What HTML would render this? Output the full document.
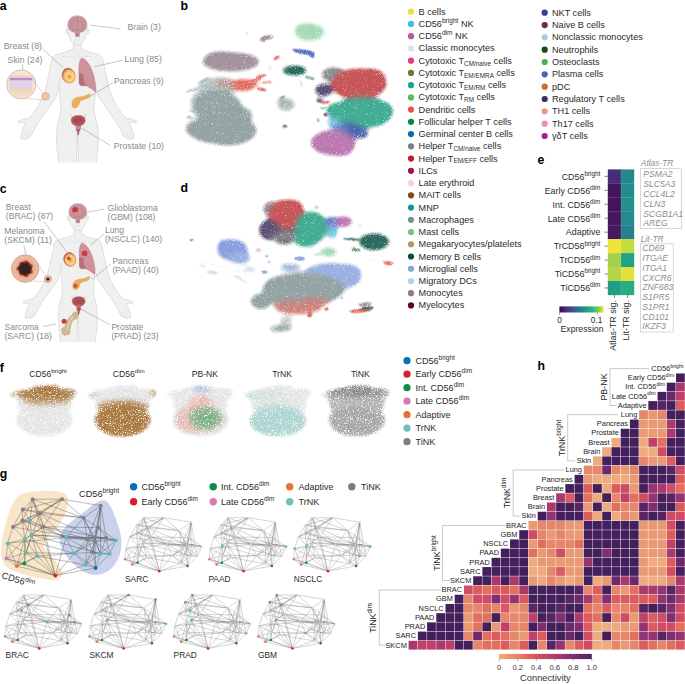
<!DOCTYPE html>
<html><head><meta charset="utf-8"><title>figure</title><style>
html,body{margin:0;padding:0;background:#fff;}
#c{position:relative;width:685px;height:684px;overflow:hidden;background:#fff;font-family:"Liberation Sans", sans-serif;}
#c svg.main{position:absolute;left:0;top:0;}
.t{position:absolute;white-space:nowrap;line-height:1;font-family:"Liberation Sans", sans-serif;}
.t sup{font-size:0.72em;line-height:0;position:relative;vertical-align:baseline;top:-0.6em;}
.t sub{font-size:0.7em;line-height:0;position:relative;vertical-align:baseline;top:0.3em;}
</style></head><body><div id="c">
<svg class="main" width="685" height="684" viewBox="0 0 685 684">
<circle cx="411" cy="11.70" r="3.1" fill="#e8e337"/>
<circle cx="411" cy="23.94" r="3.1" fill="#3fbfe0"/>
<circle cx="411" cy="36.18" r="3.1" fill="#b65ba3"/>
<circle cx="411" cy="48.42" r="3.1" fill="#d6e4ef"/>
<circle cx="411" cy="60.66" r="3.1" fill="#e83a86"/>
<circle cx="411" cy="72.90" r="3.1" fill="#677a2e"/>
<circle cx="411" cy="85.14" r="3.1" fill="#16a58b"/>
<circle cx="411" cy="97.38" r="3.1" fill="#5cb85a"/>
<circle cx="411" cy="109.62" r="3.1" fill="#e8524f"/>
<circle cx="411" cy="121.86" r="3.1" fill="#0b8a42"/>
<circle cx="411" cy="134.10" r="3.1" fill="#0b6ab0"/>
<circle cx="411" cy="146.34" r="3.1" fill="#7d7f82"/>
<circle cx="411" cy="158.58" r="3.1" fill="#c41c30"/>
<circle cx="411" cy="170.82" r="3.1" fill="#a3125f"/>
<circle cx="411" cy="183.06" r="3.1" fill="#f7cfdb"/>
<circle cx="411" cy="195.30" r="3.1" fill="#7c4a1c"/>
<circle cx="411" cy="207.54" r="3.1" fill="#0a9a9a"/>
<circle cx="411" cy="219.78" r="3.1" fill="#7b908b"/>
<circle cx="411" cy="232.02" r="3.1" fill="#76c08a"/>
<circle cx="411" cy="244.26" r="3.1" fill="#b4985f"/>
<circle cx="411" cy="256.50" r="3.1" fill="#0c4d40"/>
<circle cx="411" cy="268.74" r="3.1" fill="#88a2d8"/>
<circle cx="411" cy="280.98" r="3.1" fill="#b5d2ea"/>
<circle cx="411" cy="293.22" r="3.1" fill="#947784"/>
<circle cx="411" cy="305.46" r="3.1" fill="#620817"/>
<circle cx="544.7" cy="12.70" r="3.1" fill="#2a3f9e"/>
<circle cx="544.7" cy="25.03" r="3.1" fill="#6b2c49"/>
<circle cx="544.7" cy="37.36" r="3.1" fill="#a9cbe8"/>
<circle cx="544.7" cy="49.69" r="3.1" fill="#14481f"/>
<circle cx="544.7" cy="62.02" r="3.1" fill="#4cb05a"/>
<circle cx="544.7" cy="74.35" r="3.1" fill="#4566b5"/>
<circle cx="544.7" cy="86.68" r="3.1" fill="#d4692a"/>
<circle cx="544.7" cy="99.01" r="3.1" fill="#3e2f5c"/>
<circle cx="544.7" cy="111.34" r="3.1" fill="#ec9a88"/>
<circle cx="544.7" cy="123.67" r="3.1" fill="#f28db2"/>
<circle cx="544.7" cy="136.00" r="3.1" fill="#a3238e"/>
<rect x="607.80" y="169.40" width="13.40" height="14.15" fill="#472c7a"/>
<rect x="621.00" y="169.40" width="13.20" height="14.15" fill="#23898e"/>
<line x1="604.60" y1="176.38" x2="607.80" y2="176.38" stroke="#333" stroke-width="0.6"/>
<rect x="607.80" y="183.35" width="13.40" height="14.15" fill="#44155f"/>
<rect x="621.00" y="183.35" width="13.20" height="14.15" fill="#218e8d"/>
<line x1="604.60" y1="190.32" x2="607.80" y2="190.32" stroke="#333" stroke-width="0.6"/>
<rect x="607.80" y="197.30" width="13.40" height="14.15" fill="#43135c"/>
<rect x="621.00" y="197.30" width="13.20" height="14.15" fill="#22908c"/>
<line x1="604.60" y1="204.28" x2="607.80" y2="204.28" stroke="#333" stroke-width="0.6"/>
<rect x="607.80" y="211.25" width="13.40" height="14.15" fill="#45185f"/>
<rect x="621.00" y="211.25" width="13.20" height="14.15" fill="#238a8d"/>
<line x1="604.60" y1="218.22" x2="607.80" y2="218.22" stroke="#333" stroke-width="0.6"/>
<rect x="607.80" y="225.20" width="13.40" height="14.15" fill="#451a62"/>
<rect x="621.00" y="225.20" width="13.20" height="14.15" fill="#27808e"/>
<line x1="604.60" y1="232.17" x2="607.80" y2="232.17" stroke="#333" stroke-width="0.6"/>
<rect x="607.80" y="239.15" width="13.40" height="14.15" fill="#f1e436"/>
<rect x="621.00" y="239.15" width="13.20" height="14.15" fill="#c3dc3c"/>
<line x1="604.60" y1="246.12" x2="607.80" y2="246.12" stroke="#333" stroke-width="0.6"/>
<rect x="607.80" y="253.10" width="13.40" height="14.15" fill="#a4d04c"/>
<rect x="621.00" y="253.10" width="13.20" height="14.15" fill="#1fa386"/>
<line x1="604.60" y1="260.07" x2="607.80" y2="260.07" stroke="#333" stroke-width="0.6"/>
<rect x="607.80" y="267.05" width="13.40" height="14.15" fill="#b6d443"/>
<rect x="621.00" y="267.05" width="13.20" height="14.15" fill="#e2e13a"/>
<line x1="604.60" y1="274.03" x2="607.80" y2="274.03" stroke="#333" stroke-width="0.6"/>
<rect x="607.80" y="281.00" width="13.40" height="14.15" fill="#1f9f88"/>
<rect x="621.00" y="281.00" width="13.20" height="14.15" fill="#27ad80"/>
<line x1="604.60" y1="287.98" x2="607.80" y2="287.98" stroke="#333" stroke-width="0.6"/>
<line x1="621.00" y1="169.4" x2="621.00" y2="294.95" stroke="#ffffff" stroke-opacity="0.35" stroke-width="0.4"/>
<line x1="614.40" y1="294.95" x2="614.40" y2="297.95" stroke="#333" stroke-width="0.6"/>
<line x1="627.60" y1="294.95" x2="627.60" y2="297.95" stroke="#333" stroke-width="0.6"/>
<defs><linearGradient id="vir" x1="0" x2="1" y1="0" y2="0"><stop offset="0" stop-color="#440154"/><stop offset="0.125" stop-color="#482878"/><stop offset="0.25" stop-color="#3e4a89"/><stop offset="0.375" stop-color="#31688e"/><stop offset="0.5" stop-color="#26828e"/><stop offset="0.625" stop-color="#1f9e89"/><stop offset="0.75" stop-color="#35b779"/><stop offset="0.875" stop-color="#6ece58"/><stop offset="0.94" stop-color="#b5de2b"/><stop offset="1" stop-color="#fde725"/></linearGradient></defs>
<rect x="559.4" y="306.4" width="44.2" height="6.1" fill="url(#vir)"/>
<line x1="559.6" y1="312.5" x2="559.6" y2="314.6" stroke="#333" stroke-width="0.5"/>
<line x1="597.2" y1="312.5" x2="597.2" y2="314.6" stroke="#333" stroke-width="0.5"/>
<rect x="640.6" y="168.7" width="40.8" height="59.9" fill="none" stroke="#bdbdbd" stroke-width="0.6"/>
<rect x="640.6" y="243.9" width="32.6" height="88.1" fill="none" stroke="#bdbdbd" stroke-width="0.6"/>
<rect x="676.00" y="373.44" width="8.78" height="8.78" fill="#43205c"/>
<rect x="666.78" y="382.66" width="8.78" height="8.78" fill="#43205c"/>
<rect x="676.00" y="382.66" width="8.78" height="8.78" fill="#a83a6c"/>
<rect x="657.56" y="391.88" width="8.78" height="8.78" fill="#43205c"/>
<rect x="666.78" y="391.88" width="8.78" height="8.78" fill="#6c2a6c"/>
<rect x="676.00" y="391.88" width="8.78" height="8.78" fill="#c0406a"/>
<rect x="648.34" y="401.10" width="8.78" height="8.78" fill="#43205c"/>
<rect x="657.56" y="401.10" width="8.78" height="8.78" fill="#582463"/>
<rect x="666.78" y="401.10" width="8.78" height="8.78" fill="#43205c"/>
<rect x="676.00" y="401.10" width="8.78" height="8.78" fill="#dc5c5e"/>
<rect x="639.12" y="410.32" width="8.78" height="8.78" fill="#e6866a"/>
<rect x="648.34" y="410.32" width="8.78" height="8.78" fill="#e99a75"/>
<rect x="657.56" y="410.32" width="8.78" height="8.78" fill="#e6866a"/>
<rect x="666.78" y="410.32" width="8.78" height="8.78" fill="#43205c"/>
<rect x="676.00" y="410.32" width="8.78" height="8.78" fill="#43205c"/>
<rect x="629.90" y="419.54" width="8.78" height="8.78" fill="#43205c"/>
<rect x="639.12" y="419.54" width="8.78" height="8.78" fill="#e99a75"/>
<rect x="648.34" y="419.54" width="8.78" height="8.78" fill="#e99a75"/>
<rect x="657.56" y="419.54" width="8.78" height="8.78" fill="#e99a75"/>
<rect x="666.78" y="419.54" width="8.78" height="8.78" fill="#a83a6c"/>
<rect x="676.00" y="419.54" width="8.78" height="8.78" fill="#43205c"/>
<rect x="620.68" y="428.76" width="8.78" height="8.78" fill="#43205c"/>
<rect x="629.90" y="428.76" width="8.78" height="8.78" fill="#43205c"/>
<rect x="639.12" y="428.76" width="8.78" height="8.78" fill="#e99a75"/>
<rect x="648.34" y="428.76" width="8.78" height="8.78" fill="#e99a75"/>
<rect x="657.56" y="428.76" width="8.78" height="8.78" fill="#e99a75"/>
<rect x="666.78" y="428.76" width="8.78" height="8.78" fill="#a83a6c"/>
<rect x="676.00" y="428.76" width="8.78" height="8.78" fill="#43205c"/>
<rect x="611.46" y="437.98" width="8.78" height="8.78" fill="#edab7e"/>
<rect x="620.68" y="437.98" width="8.78" height="8.78" fill="#43205c"/>
<rect x="629.90" y="437.98" width="8.78" height="8.78" fill="#43205c"/>
<rect x="639.12" y="437.98" width="8.78" height="8.78" fill="#edab7e"/>
<rect x="648.34" y="437.98" width="8.78" height="8.78" fill="#c0406a"/>
<rect x="657.56" y="437.98" width="8.78" height="8.78" fill="#e27060"/>
<rect x="666.78" y="437.98" width="8.78" height="8.78" fill="#43205c"/>
<rect x="676.00" y="437.98" width="8.78" height="8.78" fill="#43205c"/>
<rect x="602.24" y="447.20" width="8.78" height="8.78" fill="#edab7e"/>
<rect x="611.46" y="447.20" width="8.78" height="8.78" fill="#43205c"/>
<rect x="620.68" y="447.20" width="8.78" height="8.78" fill="#43205c"/>
<rect x="629.90" y="447.20" width="8.78" height="8.78" fill="#43205c"/>
<rect x="639.12" y="447.20" width="8.78" height="8.78" fill="#edab7e"/>
<rect x="648.34" y="447.20" width="8.78" height="8.78" fill="#edab7e"/>
<rect x="657.56" y="447.20" width="8.78" height="8.78" fill="#d04c64"/>
<rect x="666.78" y="447.20" width="8.78" height="8.78" fill="#43205c"/>
<rect x="676.00" y="447.20" width="8.78" height="8.78" fill="#43205c"/>
<rect x="593.02" y="456.42" width="8.78" height="8.78" fill="#edab7e"/>
<rect x="602.24" y="456.42" width="8.78" height="8.78" fill="#43205c"/>
<rect x="611.46" y="456.42" width="8.78" height="8.78" fill="#43205c"/>
<rect x="620.68" y="456.42" width="8.78" height="8.78" fill="#43205c"/>
<rect x="629.90" y="456.42" width="8.78" height="8.78" fill="#43205c"/>
<rect x="639.12" y="456.42" width="8.78" height="8.78" fill="#e6866a"/>
<rect x="648.34" y="456.42" width="8.78" height="8.78" fill="#e99a75"/>
<rect x="657.56" y="456.42" width="8.78" height="8.78" fill="#e99a75"/>
<rect x="666.78" y="456.42" width="8.78" height="8.78" fill="#dc5c5e"/>
<rect x="676.00" y="456.42" width="8.78" height="8.78" fill="#43205c"/>
<rect x="583.80" y="465.64" width="8.78" height="8.78" fill="#e6866a"/>
<rect x="593.02" y="465.64" width="8.78" height="8.78" fill="#e6866a"/>
<rect x="602.24" y="465.64" width="8.78" height="8.78" fill="#6c2a6c"/>
<rect x="611.46" y="465.64" width="8.78" height="8.78" fill="#e6866a"/>
<rect x="620.68" y="465.64" width="8.78" height="8.78" fill="#e99a75"/>
<rect x="629.90" y="465.64" width="8.78" height="8.78" fill="#e6866a"/>
<rect x="639.12" y="465.64" width="8.78" height="8.78" fill="#43205c"/>
<rect x="648.34" y="465.64" width="8.78" height="8.78" fill="#43205c"/>
<rect x="657.56" y="465.64" width="8.78" height="8.78" fill="#43205c"/>
<rect x="666.78" y="465.64" width="8.78" height="8.78" fill="#582463"/>
<rect x="676.00" y="465.64" width="8.78" height="8.78" fill="#d04c64"/>
<rect x="574.58" y="474.86" width="8.78" height="8.78" fill="#43205c"/>
<rect x="583.80" y="474.86" width="8.78" height="8.78" fill="#e99a75"/>
<rect x="593.02" y="474.86" width="8.78" height="8.78" fill="#edab7e"/>
<rect x="602.24" y="474.86" width="8.78" height="8.78" fill="#edab7e"/>
<rect x="611.46" y="474.86" width="8.78" height="8.78" fill="#edab7e"/>
<rect x="620.68" y="474.86" width="8.78" height="8.78" fill="#edab7e"/>
<rect x="629.90" y="474.86" width="8.78" height="8.78" fill="#e99a75"/>
<rect x="639.12" y="474.86" width="8.78" height="8.78" fill="#43205c"/>
<rect x="648.34" y="474.86" width="8.78" height="8.78" fill="#43205c"/>
<rect x="657.56" y="474.86" width="8.78" height="8.78" fill="#43205c"/>
<rect x="666.78" y="474.86" width="8.78" height="8.78" fill="#43205c"/>
<rect x="676.00" y="474.86" width="8.78" height="8.78" fill="#dc5c5e"/>
<rect x="565.36" y="484.08" width="8.78" height="8.78" fill="#43205c"/>
<rect x="574.58" y="484.08" width="8.78" height="8.78" fill="#43205c"/>
<rect x="583.80" y="484.08" width="8.78" height="8.78" fill="#dc5c5e"/>
<rect x="593.02" y="484.08" width="8.78" height="8.78" fill="#43205c"/>
<rect x="602.24" y="484.08" width="8.78" height="8.78" fill="#edab7e"/>
<rect x="611.46" y="484.08" width="8.78" height="8.78" fill="#dc5c5e"/>
<rect x="620.68" y="484.08" width="8.78" height="8.78" fill="#d04c64"/>
<rect x="629.90" y="484.08" width="8.78" height="8.78" fill="#e99a75"/>
<rect x="639.12" y="484.08" width="8.78" height="8.78" fill="#43205c"/>
<rect x="648.34" y="484.08" width="8.78" height="8.78" fill="#943472"/>
<rect x="657.56" y="484.08" width="8.78" height="8.78" fill="#a83a6c"/>
<rect x="666.78" y="484.08" width="8.78" height="8.78" fill="#d04c64"/>
<rect x="676.00" y="484.08" width="8.78" height="8.78" fill="#e27060"/>
<rect x="556.14" y="493.30" width="8.78" height="8.78" fill="#a83a6c"/>
<rect x="565.36" y="493.30" width="8.78" height="8.78" fill="#dc5c5e"/>
<rect x="574.58" y="493.30" width="8.78" height="8.78" fill="#43205c"/>
<rect x="583.80" y="493.30" width="8.78" height="8.78" fill="#e27060"/>
<rect x="593.02" y="493.30" width="8.78" height="8.78" fill="#edab7e"/>
<rect x="602.24" y="493.30" width="8.78" height="8.78" fill="#43205c"/>
<rect x="611.46" y="493.30" width="8.78" height="8.78" fill="#e6866a"/>
<rect x="620.68" y="493.30" width="8.78" height="8.78" fill="#c0406a"/>
<rect x="629.90" y="493.30" width="8.78" height="8.78" fill="#e27060"/>
<rect x="639.12" y="493.30" width="8.78" height="8.78" fill="#d04c64"/>
<rect x="648.34" y="493.30" width="8.78" height="8.78" fill="#943472"/>
<rect x="657.56" y="493.30" width="8.78" height="8.78" fill="#43205c"/>
<rect x="666.78" y="493.30" width="8.78" height="8.78" fill="#582463"/>
<rect x="676.00" y="493.30" width="8.78" height="8.78" fill="#943472"/>
<rect x="546.92" y="502.52" width="8.78" height="8.78" fill="#a83a6c"/>
<rect x="556.14" y="502.52" width="8.78" height="8.78" fill="#43205c"/>
<rect x="565.36" y="502.52" width="8.78" height="8.78" fill="#43205c"/>
<rect x="574.58" y="502.52" width="8.78" height="8.78" fill="#582463"/>
<rect x="583.80" y="502.52" width="8.78" height="8.78" fill="#e99a75"/>
<rect x="593.02" y="502.52" width="8.78" height="8.78" fill="#43205c"/>
<rect x="602.24" y="502.52" width="8.78" height="8.78" fill="#edab7e"/>
<rect x="611.46" y="502.52" width="8.78" height="8.78" fill="#e27060"/>
<rect x="620.68" y="502.52" width="8.78" height="8.78" fill="#e6866a"/>
<rect x="629.90" y="502.52" width="8.78" height="8.78" fill="#e6866a"/>
<rect x="639.12" y="502.52" width="8.78" height="8.78" fill="#582463"/>
<rect x="648.34" y="502.52" width="8.78" height="8.78" fill="#802e70"/>
<rect x="657.56" y="502.52" width="8.78" height="8.78" fill="#43205c"/>
<rect x="666.78" y="502.52" width="8.78" height="8.78" fill="#43205c"/>
<rect x="676.00" y="502.52" width="8.78" height="8.78" fill="#dc5c5e"/>
<rect x="537.70" y="511.74" width="8.78" height="8.78" fill="#43205c"/>
<rect x="546.92" y="511.74" width="8.78" height="8.78" fill="#943472"/>
<rect x="556.14" y="511.74" width="8.78" height="8.78" fill="#43205c"/>
<rect x="565.36" y="511.74" width="8.78" height="8.78" fill="#43205c"/>
<rect x="574.58" y="511.74" width="8.78" height="8.78" fill="#43205c"/>
<rect x="583.80" y="511.74" width="8.78" height="8.78" fill="#dc5c5e"/>
<rect x="593.02" y="511.74" width="8.78" height="8.78" fill="#edab7e"/>
<rect x="602.24" y="511.74" width="8.78" height="8.78" fill="#43205c"/>
<rect x="611.46" y="511.74" width="8.78" height="8.78" fill="#edab7e"/>
<rect x="620.68" y="511.74" width="8.78" height="8.78" fill="#e6866a"/>
<rect x="629.90" y="511.74" width="8.78" height="8.78" fill="#e99a75"/>
<rect x="639.12" y="511.74" width="8.78" height="8.78" fill="#582463"/>
<rect x="648.34" y="511.74" width="8.78" height="8.78" fill="#43205c"/>
<rect x="657.56" y="511.74" width="8.78" height="8.78" fill="#582463"/>
<rect x="666.78" y="511.74" width="8.78" height="8.78" fill="#d04c64"/>
<rect x="676.00" y="511.74" width="8.78" height="8.78" fill="#d04c64"/>
<rect x="528.48" y="520.96" width="8.78" height="8.78" fill="#e99a75"/>
<rect x="537.70" y="520.96" width="8.78" height="8.78" fill="#e6866a"/>
<rect x="546.92" y="520.96" width="8.78" height="8.78" fill="#e6866a"/>
<rect x="556.14" y="520.96" width="8.78" height="8.78" fill="#e6866a"/>
<rect x="565.36" y="520.96" width="8.78" height="8.78" fill="#e99a75"/>
<rect x="574.58" y="520.96" width="8.78" height="8.78" fill="#e99a75"/>
<rect x="583.80" y="520.96" width="8.78" height="8.78" fill="#43205c"/>
<rect x="593.02" y="520.96" width="8.78" height="8.78" fill="#43205c"/>
<rect x="602.24" y="520.96" width="8.78" height="8.78" fill="#43205c"/>
<rect x="611.46" y="520.96" width="8.78" height="8.78" fill="#43205c"/>
<rect x="620.68" y="520.96" width="8.78" height="8.78" fill="#43205c"/>
<rect x="629.90" y="520.96" width="8.78" height="8.78" fill="#43205c"/>
<rect x="639.12" y="520.96" width="8.78" height="8.78" fill="#e99a75"/>
<rect x="648.34" y="520.96" width="8.78" height="8.78" fill="#e99a75"/>
<rect x="657.56" y="520.96" width="8.78" height="8.78" fill="#e99a75"/>
<rect x="666.78" y="520.96" width="8.78" height="8.78" fill="#d04c64"/>
<rect x="676.00" y="520.96" width="8.78" height="8.78" fill="#43205c"/>
<rect x="519.26" y="530.18" width="8.78" height="8.78" fill="#43205c"/>
<rect x="528.48" y="530.18" width="8.78" height="8.78" fill="#d04c64"/>
<rect x="537.70" y="530.18" width="8.78" height="8.78" fill="#e6866a"/>
<rect x="546.92" y="530.18" width="8.78" height="8.78" fill="#e99a75"/>
<rect x="556.14" y="530.18" width="8.78" height="8.78" fill="#e6866a"/>
<rect x="565.36" y="530.18" width="8.78" height="8.78" fill="#e99a75"/>
<rect x="574.58" y="530.18" width="8.78" height="8.78" fill="#e99a75"/>
<rect x="583.80" y="530.18" width="8.78" height="8.78" fill="#43205c"/>
<rect x="593.02" y="530.18" width="8.78" height="8.78" fill="#43205c"/>
<rect x="602.24" y="530.18" width="8.78" height="8.78" fill="#43205c"/>
<rect x="611.46" y="530.18" width="8.78" height="8.78" fill="#43205c"/>
<rect x="620.68" y="530.18" width="8.78" height="8.78" fill="#43205c"/>
<rect x="629.90" y="530.18" width="8.78" height="8.78" fill="#43205c"/>
<rect x="639.12" y="530.18" width="8.78" height="8.78" fill="#e99a75"/>
<rect x="648.34" y="530.18" width="8.78" height="8.78" fill="#e99a75"/>
<rect x="657.56" y="530.18" width="8.78" height="8.78" fill="#e99a75"/>
<rect x="666.78" y="530.18" width="8.78" height="8.78" fill="#dc5c5e"/>
<rect x="676.00" y="530.18" width="8.78" height="8.78" fill="#43205c"/>
<rect x="510.04" y="539.40" width="8.78" height="8.78" fill="#43205c"/>
<rect x="519.26" y="539.40" width="8.78" height="8.78" fill="#43205c"/>
<rect x="528.48" y="539.40" width="8.78" height="8.78" fill="#e99a75"/>
<rect x="537.70" y="539.40" width="8.78" height="8.78" fill="#e27060"/>
<rect x="546.92" y="539.40" width="8.78" height="8.78" fill="#e6866a"/>
<rect x="556.14" y="539.40" width="8.78" height="8.78" fill="#e6866a"/>
<rect x="565.36" y="539.40" width="8.78" height="8.78" fill="#e6866a"/>
<rect x="574.58" y="539.40" width="8.78" height="8.78" fill="#e27060"/>
<rect x="583.80" y="539.40" width="8.78" height="8.78" fill="#43205c"/>
<rect x="593.02" y="539.40" width="8.78" height="8.78" fill="#43205c"/>
<rect x="602.24" y="539.40" width="8.78" height="8.78" fill="#43205c"/>
<rect x="611.46" y="539.40" width="8.78" height="8.78" fill="#43205c"/>
<rect x="620.68" y="539.40" width="8.78" height="8.78" fill="#43205c"/>
<rect x="629.90" y="539.40" width="8.78" height="8.78" fill="#43205c"/>
<rect x="639.12" y="539.40" width="8.78" height="8.78" fill="#e99a75"/>
<rect x="648.34" y="539.40" width="8.78" height="8.78" fill="#e99a75"/>
<rect x="657.56" y="539.40" width="8.78" height="8.78" fill="#e99a75"/>
<rect x="666.78" y="539.40" width="8.78" height="8.78" fill="#c0406a"/>
<rect x="676.00" y="539.40" width="8.78" height="8.78" fill="#43205c"/>
<rect x="500.82" y="548.62" width="8.78" height="8.78" fill="#43205c"/>
<rect x="510.04" y="548.62" width="8.78" height="8.78" fill="#43205c"/>
<rect x="519.26" y="548.62" width="8.78" height="8.78" fill="#43205c"/>
<rect x="528.48" y="548.62" width="8.78" height="8.78" fill="#e27060"/>
<rect x="537.70" y="548.62" width="8.78" height="8.78" fill="#e99a75"/>
<rect x="546.92" y="548.62" width="8.78" height="8.78" fill="#e6866a"/>
<rect x="556.14" y="548.62" width="8.78" height="8.78" fill="#d04c64"/>
<rect x="565.36" y="548.62" width="8.78" height="8.78" fill="#e99a75"/>
<rect x="574.58" y="548.62" width="8.78" height="8.78" fill="#e99a75"/>
<rect x="583.80" y="548.62" width="8.78" height="8.78" fill="#43205c"/>
<rect x="593.02" y="548.62" width="8.78" height="8.78" fill="#43205c"/>
<rect x="602.24" y="548.62" width="8.78" height="8.78" fill="#802e70"/>
<rect x="611.46" y="548.62" width="8.78" height="8.78" fill="#43205c"/>
<rect x="620.68" y="548.62" width="8.78" height="8.78" fill="#43205c"/>
<rect x="629.90" y="548.62" width="8.78" height="8.78" fill="#43205c"/>
<rect x="639.12" y="548.62" width="8.78" height="8.78" fill="#e99a75"/>
<rect x="648.34" y="548.62" width="8.78" height="8.78" fill="#e99a75"/>
<rect x="657.56" y="548.62" width="8.78" height="8.78" fill="#e99a75"/>
<rect x="666.78" y="548.62" width="8.78" height="8.78" fill="#a83a6c"/>
<rect x="676.00" y="548.62" width="8.78" height="8.78" fill="#43205c"/>
<rect x="491.60" y="557.84" width="8.78" height="8.78" fill="#43205c"/>
<rect x="500.82" y="557.84" width="8.78" height="8.78" fill="#43205c"/>
<rect x="510.04" y="557.84" width="8.78" height="8.78" fill="#43205c"/>
<rect x="519.26" y="557.84" width="8.78" height="8.78" fill="#43205c"/>
<rect x="528.48" y="557.84" width="8.78" height="8.78" fill="#edab7e"/>
<rect x="537.70" y="557.84" width="8.78" height="8.78" fill="#e99a75"/>
<rect x="546.92" y="557.84" width="8.78" height="8.78" fill="#e99a75"/>
<rect x="556.14" y="557.84" width="8.78" height="8.78" fill="#e99a75"/>
<rect x="565.36" y="557.84" width="8.78" height="8.78" fill="#e99a75"/>
<rect x="574.58" y="557.84" width="8.78" height="8.78" fill="#e99a75"/>
<rect x="583.80" y="557.84" width="8.78" height="8.78" fill="#943472"/>
<rect x="593.02" y="557.84" width="8.78" height="8.78" fill="#43205c"/>
<rect x="602.24" y="557.84" width="8.78" height="8.78" fill="#43205c"/>
<rect x="611.46" y="557.84" width="8.78" height="8.78" fill="#43205c"/>
<rect x="620.68" y="557.84" width="8.78" height="8.78" fill="#43205c"/>
<rect x="629.90" y="557.84" width="8.78" height="8.78" fill="#43205c"/>
<rect x="639.12" y="557.84" width="8.78" height="8.78" fill="#e99a75"/>
<rect x="648.34" y="557.84" width="8.78" height="8.78" fill="#edab7e"/>
<rect x="657.56" y="557.84" width="8.78" height="8.78" fill="#edab7e"/>
<rect x="666.78" y="557.84" width="8.78" height="8.78" fill="#dc5c5e"/>
<rect x="676.00" y="557.84" width="8.78" height="8.78" fill="#6c2a6c"/>
<rect x="482.38" y="567.06" width="8.78" height="8.78" fill="#43205c"/>
<rect x="491.60" y="567.06" width="8.78" height="8.78" fill="#43205c"/>
<rect x="500.82" y="567.06" width="8.78" height="8.78" fill="#43205c"/>
<rect x="510.04" y="567.06" width="8.78" height="8.78" fill="#43205c"/>
<rect x="519.26" y="567.06" width="8.78" height="8.78" fill="#43205c"/>
<rect x="528.48" y="567.06" width="8.78" height="8.78" fill="#edab7e"/>
<rect x="537.70" y="567.06" width="8.78" height="8.78" fill="#edab7e"/>
<rect x="546.92" y="567.06" width="8.78" height="8.78" fill="#e6866a"/>
<rect x="556.14" y="567.06" width="8.78" height="8.78" fill="#dc5c5e"/>
<rect x="565.36" y="567.06" width="8.78" height="8.78" fill="#e99a75"/>
<rect x="574.58" y="567.06" width="8.78" height="8.78" fill="#e99a75"/>
<rect x="583.80" y="567.06" width="8.78" height="8.78" fill="#43205c"/>
<rect x="593.02" y="567.06" width="8.78" height="8.78" fill="#43205c"/>
<rect x="602.24" y="567.06" width="8.78" height="8.78" fill="#43205c"/>
<rect x="611.46" y="567.06" width="8.78" height="8.78" fill="#43205c"/>
<rect x="620.68" y="567.06" width="8.78" height="8.78" fill="#43205c"/>
<rect x="629.90" y="567.06" width="8.78" height="8.78" fill="#43205c"/>
<rect x="639.12" y="567.06" width="8.78" height="8.78" fill="#e99a75"/>
<rect x="648.34" y="567.06" width="8.78" height="8.78" fill="#e99a75"/>
<rect x="657.56" y="567.06" width="8.78" height="8.78" fill="#e99a75"/>
<rect x="666.78" y="567.06" width="8.78" height="8.78" fill="#d04c64"/>
<rect x="676.00" y="567.06" width="8.78" height="8.78" fill="#43205c"/>
<rect x="473.16" y="576.28" width="8.78" height="8.78" fill="#43205c"/>
<rect x="482.38" y="576.28" width="8.78" height="8.78" fill="#43205c"/>
<rect x="491.60" y="576.28" width="8.78" height="8.78" fill="#a83a6c"/>
<rect x="500.82" y="576.28" width="8.78" height="8.78" fill="#43205c"/>
<rect x="510.04" y="576.28" width="8.78" height="8.78" fill="#a83a6c"/>
<rect x="519.26" y="576.28" width="8.78" height="8.78" fill="#43205c"/>
<rect x="528.48" y="576.28" width="8.78" height="8.78" fill="#e99a75"/>
<rect x="537.70" y="576.28" width="8.78" height="8.78" fill="#edab7e"/>
<rect x="546.92" y="576.28" width="8.78" height="8.78" fill="#e6866a"/>
<rect x="556.14" y="576.28" width="8.78" height="8.78" fill="#e99a75"/>
<rect x="565.36" y="576.28" width="8.78" height="8.78" fill="#edab7e"/>
<rect x="574.58" y="576.28" width="8.78" height="8.78" fill="#e99a75"/>
<rect x="583.80" y="576.28" width="8.78" height="8.78" fill="#43205c"/>
<rect x="593.02" y="576.28" width="8.78" height="8.78" fill="#edab7e"/>
<rect x="602.24" y="576.28" width="8.78" height="8.78" fill="#e99a75"/>
<rect x="611.46" y="576.28" width="8.78" height="8.78" fill="#6c2a6c"/>
<rect x="620.68" y="576.28" width="8.78" height="8.78" fill="#a83a6c"/>
<rect x="629.90" y="576.28" width="8.78" height="8.78" fill="#6c2a6c"/>
<rect x="639.12" y="576.28" width="8.78" height="8.78" fill="#edab7e"/>
<rect x="648.34" y="576.28" width="8.78" height="8.78" fill="#edab7e"/>
<rect x="657.56" y="576.28" width="8.78" height="8.78" fill="#edab7e"/>
<rect x="666.78" y="576.28" width="8.78" height="8.78" fill="#e6866a"/>
<rect x="676.00" y="576.28" width="8.78" height="8.78" fill="#a83a6c"/>
<rect x="463.94" y="585.50" width="8.78" height="8.78" fill="#d04c64"/>
<rect x="473.16" y="585.50" width="8.78" height="8.78" fill="#dc5c5e"/>
<rect x="482.38" y="585.50" width="8.78" height="8.78" fill="#e27060"/>
<rect x="491.60" y="585.50" width="8.78" height="8.78" fill="#dc5c5e"/>
<rect x="500.82" y="585.50" width="8.78" height="8.78" fill="#dc5c5e"/>
<rect x="510.04" y="585.50" width="8.78" height="8.78" fill="#e27060"/>
<rect x="519.26" y="585.50" width="8.78" height="8.78" fill="#a83a6c"/>
<rect x="528.48" y="585.50" width="8.78" height="8.78" fill="#43205c"/>
<rect x="537.70" y="585.50" width="8.78" height="8.78" fill="#43205c"/>
<rect x="546.92" y="585.50" width="8.78" height="8.78" fill="#43205c"/>
<rect x="556.14" y="585.50" width="8.78" height="8.78" fill="#43205c"/>
<rect x="565.36" y="585.50" width="8.78" height="8.78" fill="#43205c"/>
<rect x="574.58" y="585.50" width="8.78" height="8.78" fill="#582463"/>
<rect x="583.80" y="585.50" width="8.78" height="8.78" fill="#e6866a"/>
<rect x="593.02" y="585.50" width="8.78" height="8.78" fill="#dc5c5e"/>
<rect x="602.24" y="585.50" width="8.78" height="8.78" fill="#43205c"/>
<rect x="611.46" y="585.50" width="8.78" height="8.78" fill="#e6866a"/>
<rect x="620.68" y="585.50" width="8.78" height="8.78" fill="#e99a75"/>
<rect x="629.90" y="585.50" width="8.78" height="8.78" fill="#e27060"/>
<rect x="639.12" y="585.50" width="8.78" height="8.78" fill="#a83a6c"/>
<rect x="648.34" y="585.50" width="8.78" height="8.78" fill="#a83a6c"/>
<rect x="657.56" y="585.50" width="8.78" height="8.78" fill="#943472"/>
<rect x="666.78" y="585.50" width="8.78" height="8.78" fill="#582463"/>
<rect x="676.00" y="585.50" width="8.78" height="8.78" fill="#a83a6c"/>
<rect x="454.72" y="594.72" width="8.78" height="8.78" fill="#43205c"/>
<rect x="463.94" y="594.72" width="8.78" height="8.78" fill="#e6866a"/>
<rect x="473.16" y="594.72" width="8.78" height="8.78" fill="#d04c64"/>
<rect x="482.38" y="594.72" width="8.78" height="8.78" fill="#d04c64"/>
<rect x="491.60" y="594.72" width="8.78" height="8.78" fill="#802e70"/>
<rect x="500.82" y="594.72" width="8.78" height="8.78" fill="#d04c64"/>
<rect x="510.04" y="594.72" width="8.78" height="8.78" fill="#943472"/>
<rect x="519.26" y="594.72" width="8.78" height="8.78" fill="#dc5c5e"/>
<rect x="528.48" y="594.72" width="8.78" height="8.78" fill="#43205c"/>
<rect x="537.70" y="594.72" width="8.78" height="8.78" fill="#43205c"/>
<rect x="546.92" y="594.72" width="8.78" height="8.78" fill="#43205c"/>
<rect x="556.14" y="594.72" width="8.78" height="8.78" fill="#43205c"/>
<rect x="565.36" y="594.72" width="8.78" height="8.78" fill="#582463"/>
<rect x="574.58" y="594.72" width="8.78" height="8.78" fill="#6c2a6c"/>
<rect x="583.80" y="594.72" width="8.78" height="8.78" fill="#a83a6c"/>
<rect x="593.02" y="594.72" width="8.78" height="8.78" fill="#e27060"/>
<rect x="602.24" y="594.72" width="8.78" height="8.78" fill="#802e70"/>
<rect x="611.46" y="594.72" width="8.78" height="8.78" fill="#dc5c5e"/>
<rect x="620.68" y="594.72" width="8.78" height="8.78" fill="#dc5c5e"/>
<rect x="629.90" y="594.72" width="8.78" height="8.78" fill="#dc5c5e"/>
<rect x="639.12" y="594.72" width="8.78" height="8.78" fill="#dc5c5e"/>
<rect x="648.34" y="594.72" width="8.78" height="8.78" fill="#dc5c5e"/>
<rect x="657.56" y="594.72" width="8.78" height="8.78" fill="#943472"/>
<rect x="666.78" y="594.72" width="8.78" height="8.78" fill="#6c2a6c"/>
<rect x="676.00" y="594.72" width="8.78" height="8.78" fill="#a83a6c"/>
<rect x="445.50" y="603.94" width="8.78" height="8.78" fill="#43205c"/>
<rect x="454.72" y="603.94" width="8.78" height="8.78" fill="#43205c"/>
<rect x="463.94" y="603.94" width="8.78" height="8.78" fill="#e6866a"/>
<rect x="473.16" y="603.94" width="8.78" height="8.78" fill="#e6866a"/>
<rect x="482.38" y="603.94" width="8.78" height="8.78" fill="#e27060"/>
<rect x="491.60" y="603.94" width="8.78" height="8.78" fill="#e6866a"/>
<rect x="500.82" y="603.94" width="8.78" height="8.78" fill="#dc5c5e"/>
<rect x="510.04" y="603.94" width="8.78" height="8.78" fill="#e99a75"/>
<rect x="519.26" y="603.94" width="8.78" height="8.78" fill="#e6866a"/>
<rect x="528.48" y="603.94" width="8.78" height="8.78" fill="#582463"/>
<rect x="537.70" y="603.94" width="8.78" height="8.78" fill="#43205c"/>
<rect x="546.92" y="603.94" width="8.78" height="8.78" fill="#43205c"/>
<rect x="556.14" y="603.94" width="8.78" height="8.78" fill="#582463"/>
<rect x="565.36" y="603.94" width="8.78" height="8.78" fill="#43205c"/>
<rect x="574.58" y="603.94" width="8.78" height="8.78" fill="#43205c"/>
<rect x="583.80" y="603.94" width="8.78" height="8.78" fill="#e27060"/>
<rect x="593.02" y="603.94" width="8.78" height="8.78" fill="#e6866a"/>
<rect x="602.24" y="603.94" width="8.78" height="8.78" fill="#dc5c5e"/>
<rect x="611.46" y="603.94" width="8.78" height="8.78" fill="#e6866a"/>
<rect x="620.68" y="603.94" width="8.78" height="8.78" fill="#e6866a"/>
<rect x="629.90" y="603.94" width="8.78" height="8.78" fill="#e27060"/>
<rect x="639.12" y="603.94" width="8.78" height="8.78" fill="#582463"/>
<rect x="648.34" y="603.94" width="8.78" height="8.78" fill="#43205c"/>
<rect x="657.56" y="603.94" width="8.78" height="8.78" fill="#582463"/>
<rect x="666.78" y="603.94" width="8.78" height="8.78" fill="#802e70"/>
<rect x="676.00" y="603.94" width="8.78" height="8.78" fill="#d04c64"/>
<rect x="436.28" y="613.16" width="8.78" height="8.78" fill="#43205c"/>
<rect x="445.50" y="613.16" width="8.78" height="8.78" fill="#43205c"/>
<rect x="454.72" y="613.16" width="8.78" height="8.78" fill="#43205c"/>
<rect x="463.94" y="613.16" width="8.78" height="8.78" fill="#e99a75"/>
<rect x="473.16" y="613.16" width="8.78" height="8.78" fill="#e27060"/>
<rect x="482.38" y="613.16" width="8.78" height="8.78" fill="#e27060"/>
<rect x="491.60" y="613.16" width="8.78" height="8.78" fill="#43205c"/>
<rect x="500.82" y="613.16" width="8.78" height="8.78" fill="#e6866a"/>
<rect x="510.04" y="613.16" width="8.78" height="8.78" fill="#e6866a"/>
<rect x="519.26" y="613.16" width="8.78" height="8.78" fill="#e6866a"/>
<rect x="528.48" y="613.16" width="8.78" height="8.78" fill="#c0406a"/>
<rect x="537.70" y="613.16" width="8.78" height="8.78" fill="#43205c"/>
<rect x="546.92" y="613.16" width="8.78" height="8.78" fill="#582463"/>
<rect x="556.14" y="613.16" width="8.78" height="8.78" fill="#802e70"/>
<rect x="565.36" y="613.16" width="8.78" height="8.78" fill="#43205c"/>
<rect x="574.58" y="613.16" width="8.78" height="8.78" fill="#a83a6c"/>
<rect x="583.80" y="613.16" width="8.78" height="8.78" fill="#dc5c5e"/>
<rect x="593.02" y="613.16" width="8.78" height="8.78" fill="#e27060"/>
<rect x="602.24" y="613.16" width="8.78" height="8.78" fill="#43205c"/>
<rect x="611.46" y="613.16" width="8.78" height="8.78" fill="#e6866a"/>
<rect x="620.68" y="613.16" width="8.78" height="8.78" fill="#d04c64"/>
<rect x="629.90" y="613.16" width="8.78" height="8.78" fill="#e99a75"/>
<rect x="639.12" y="613.16" width="8.78" height="8.78" fill="#c0406a"/>
<rect x="648.34" y="613.16" width="8.78" height="8.78" fill="#dc5c5e"/>
<rect x="657.56" y="613.16" width="8.78" height="8.78" fill="#d04c64"/>
<rect x="666.78" y="613.16" width="8.78" height="8.78" fill="#802e70"/>
<rect x="676.00" y="613.16" width="8.78" height="8.78" fill="#d04c64"/>
<rect x="427.06" y="622.38" width="8.78" height="8.78" fill="#43205c"/>
<rect x="436.28" y="622.38" width="8.78" height="8.78" fill="#43205c"/>
<rect x="445.50" y="622.38" width="8.78" height="8.78" fill="#43205c"/>
<rect x="454.72" y="622.38" width="8.78" height="8.78" fill="#43205c"/>
<rect x="463.94" y="622.38" width="8.78" height="8.78" fill="#e99a75"/>
<rect x="473.16" y="622.38" width="8.78" height="8.78" fill="#e27060"/>
<rect x="482.38" y="622.38" width="8.78" height="8.78" fill="#43205c"/>
<rect x="491.60" y="622.38" width="8.78" height="8.78" fill="#e99a75"/>
<rect x="500.82" y="622.38" width="8.78" height="8.78" fill="#c0406a"/>
<rect x="510.04" y="622.38" width="8.78" height="8.78" fill="#e6866a"/>
<rect x="519.26" y="622.38" width="8.78" height="8.78" fill="#e6866a"/>
<rect x="528.48" y="622.38" width="8.78" height="8.78" fill="#43205c"/>
<rect x="537.70" y="622.38" width="8.78" height="8.78" fill="#802e70"/>
<rect x="546.92" y="622.38" width="8.78" height="8.78" fill="#43205c"/>
<rect x="556.14" y="622.38" width="8.78" height="8.78" fill="#43205c"/>
<rect x="565.36" y="622.38" width="8.78" height="8.78" fill="#6c2a6c"/>
<rect x="574.58" y="622.38" width="8.78" height="8.78" fill="#802e70"/>
<rect x="583.80" y="622.38" width="8.78" height="8.78" fill="#dc5c5e"/>
<rect x="593.02" y="622.38" width="8.78" height="8.78" fill="#edab7e"/>
<rect x="602.24" y="622.38" width="8.78" height="8.78" fill="#edab7e"/>
<rect x="611.46" y="622.38" width="8.78" height="8.78" fill="#edab7e"/>
<rect x="620.68" y="622.38" width="8.78" height="8.78" fill="#e99a75"/>
<rect x="629.90" y="622.38" width="8.78" height="8.78" fill="#e99a75"/>
<rect x="639.12" y="622.38" width="8.78" height="8.78" fill="#943472"/>
<rect x="648.34" y="622.38" width="8.78" height="8.78" fill="#dc5c5e"/>
<rect x="657.56" y="622.38" width="8.78" height="8.78" fill="#d04c64"/>
<rect x="666.78" y="622.38" width="8.78" height="8.78" fill="#d04c64"/>
<rect x="676.00" y="622.38" width="8.78" height="8.78" fill="#e27060"/>
<rect x="417.84" y="631.60" width="8.78" height="8.78" fill="#43205c"/>
<rect x="427.06" y="631.60" width="8.78" height="8.78" fill="#43205c"/>
<rect x="436.28" y="631.60" width="8.78" height="8.78" fill="#43205c"/>
<rect x="445.50" y="631.60" width="8.78" height="8.78" fill="#43205c"/>
<rect x="454.72" y="631.60" width="8.78" height="8.78" fill="#43205c"/>
<rect x="463.94" y="631.60" width="8.78" height="8.78" fill="#e6866a"/>
<rect x="473.16" y="631.60" width="8.78" height="8.78" fill="#6c2a6c"/>
<rect x="482.38" y="631.60" width="8.78" height="8.78" fill="#e27060"/>
<rect x="491.60" y="631.60" width="8.78" height="8.78" fill="#dc5c5e"/>
<rect x="500.82" y="631.60" width="8.78" height="8.78" fill="#e27060"/>
<rect x="510.04" y="631.60" width="8.78" height="8.78" fill="#e6866a"/>
<rect x="519.26" y="631.60" width="8.78" height="8.78" fill="#e99a75"/>
<rect x="528.48" y="631.60" width="8.78" height="8.78" fill="#c0406a"/>
<rect x="537.70" y="631.60" width="8.78" height="8.78" fill="#dc5c5e"/>
<rect x="546.92" y="631.60" width="8.78" height="8.78" fill="#43205c"/>
<rect x="556.14" y="631.60" width="8.78" height="8.78" fill="#43205c"/>
<rect x="565.36" y="631.60" width="8.78" height="8.78" fill="#6c2a6c"/>
<rect x="574.58" y="631.60" width="8.78" height="8.78" fill="#43205c"/>
<rect x="583.80" y="631.60" width="8.78" height="8.78" fill="#d04c64"/>
<rect x="593.02" y="631.60" width="8.78" height="8.78" fill="#edab7e"/>
<rect x="602.24" y="631.60" width="8.78" height="8.78" fill="#43205c"/>
<rect x="611.46" y="631.60" width="8.78" height="8.78" fill="#e6866a"/>
<rect x="620.68" y="631.60" width="8.78" height="8.78" fill="#e6866a"/>
<rect x="629.90" y="631.60" width="8.78" height="8.78" fill="#e27060"/>
<rect x="639.12" y="631.60" width="8.78" height="8.78" fill="#943472"/>
<rect x="648.34" y="631.60" width="8.78" height="8.78" fill="#943472"/>
<rect x="657.56" y="631.60" width="8.78" height="8.78" fill="#582463"/>
<rect x="666.78" y="631.60" width="8.78" height="8.78" fill="#802e70"/>
<rect x="676.00" y="631.60" width="8.78" height="8.78" fill="#943472"/>
<rect x="408.62" y="640.82" width="8.78" height="8.78" fill="#a83a6c"/>
<rect x="417.84" y="640.82" width="8.78" height="8.78" fill="#c0406a"/>
<rect x="427.06" y="640.82" width="8.78" height="8.78" fill="#c0406a"/>
<rect x="436.28" y="640.82" width="8.78" height="8.78" fill="#a83a6c"/>
<rect x="445.50" y="640.82" width="8.78" height="8.78" fill="#c0406a"/>
<rect x="454.72" y="640.82" width="8.78" height="8.78" fill="#43205c"/>
<rect x="463.94" y="640.82" width="8.78" height="8.78" fill="#43205c"/>
<rect x="473.16" y="640.82" width="8.78" height="8.78" fill="#e6866a"/>
<rect x="482.38" y="640.82" width="8.78" height="8.78" fill="#e27060"/>
<rect x="491.60" y="640.82" width="8.78" height="8.78" fill="#e27060"/>
<rect x="500.82" y="640.82" width="8.78" height="8.78" fill="#dc5c5e"/>
<rect x="510.04" y="640.82" width="8.78" height="8.78" fill="#e6866a"/>
<rect x="519.26" y="640.82" width="8.78" height="8.78" fill="#dc5c5e"/>
<rect x="528.48" y="640.82" width="8.78" height="8.78" fill="#43205c"/>
<rect x="537.70" y="640.82" width="8.78" height="8.78" fill="#e6866a"/>
<rect x="546.92" y="640.82" width="8.78" height="8.78" fill="#582463"/>
<rect x="556.14" y="640.82" width="8.78" height="8.78" fill="#943472"/>
<rect x="565.36" y="640.82" width="8.78" height="8.78" fill="#e6866a"/>
<rect x="574.58" y="640.82" width="8.78" height="8.78" fill="#dc5c5e"/>
<rect x="583.80" y="640.82" width="8.78" height="8.78" fill="#d04c64"/>
<rect x="593.02" y="640.82" width="8.78" height="8.78" fill="#edab7e"/>
<rect x="602.24" y="640.82" width="8.78" height="8.78" fill="#edab7e"/>
<rect x="611.46" y="640.82" width="8.78" height="8.78" fill="#e6866a"/>
<rect x="620.68" y="640.82" width="8.78" height="8.78" fill="#e99a75"/>
<rect x="629.90" y="640.82" width="8.78" height="8.78" fill="#e6866a"/>
<rect x="639.12" y="640.82" width="8.78" height="8.78" fill="#dc5c5e"/>
<rect x="648.34" y="640.82" width="8.78" height="8.78" fill="#e27060"/>
<rect x="657.56" y="640.82" width="8.78" height="8.78" fill="#e6866a"/>
<rect x="666.78" y="640.82" width="8.78" height="8.78" fill="#e27060"/>
<rect x="676.00" y="640.82" width="8.78" height="8.78" fill="#dc5c5e"/>
<path d="M649.0 368.6 H610.0 V405.5 H616.6" fill="none" stroke="#9a9a9a" stroke-width="0.55"/>
<path d="M618.0 414.7 H567.7 V460.8 H574.8" fill="none" stroke="#9a9a9a" stroke-width="0.55"/>
<path d="M564.0 470.0 H513.2 V516.1 H520.0" fill="none" stroke="#9a9a9a" stroke-width="0.55"/>
<path d="M506.0 525.4 H442.5 V580.6 H449.8" fill="none" stroke="#9a9a9a" stroke-width="0.55"/>
<path d="M441.6 589.9 H379.3 V645.2 H385.8" fill="none" stroke="#9a9a9a" stroke-width="0.55"/>
<defs><linearGradient id="flare" x1="0" x2="1" y1="0" y2="0"><stop offset="0" stop-color="#edb081"/><stop offset="0.15" stop-color="#e98d6b"/><stop offset="0.3" stop-color="#e3685c"/><stop offset="0.45" stop-color="#d14a61"/><stop offset="0.6" stop-color="#b13c6c"/><stop offset="0.72" stop-color="#8f3371"/><stop offset="0.86" stop-color="#6c2b6d"/><stop offset="1" stop-color="#4b2362"/></linearGradient></defs>
<rect x="499" y="653.9" width="92.8" height="5.2" fill="url(#flare)"/>
<line x1="499.20" y1="659.1" x2="499.20" y2="661.2" stroke="#555" stroke-width="0.5"/>
<line x1="517.72" y1="659.1" x2="517.72" y2="661.2" stroke="#555" stroke-width="0.5"/>
<line x1="536.24" y1="659.1" x2="536.24" y2="661.2" stroke="#555" stroke-width="0.5"/>
<line x1="554.76" y1="659.1" x2="554.76" y2="661.2" stroke="#555" stroke-width="0.5"/>
<line x1="573.28" y1="659.1" x2="573.28" y2="661.2" stroke="#555" stroke-width="0.5"/>
<line x1="591.80" y1="659.1" x2="591.80" y2="661.2" stroke="#555" stroke-width="0.5"/>
<defs><clipPath id="aclip"><rect x="0" y="0" width="172" height="162.6"/></clipPath></defs>
<g clip-path="url(#aclip)">
<path d="M73.60,40.50 L73.50,46.80 C72.80,50.20 66.00,52.00 59.50,53.60 C55.50,54.60 52.80,56.00 51.90,59.50 C50.60,66.00 49.60,71.00 48.40,76.00 C47.40,82.00 46.40,87.00 44.60,92.50 C42.50,98.00 40.40,102.00 37.80,106.20 C35.00,110.50 32.50,114.50 29.60,117.60 C26.00,118.60 22.00,119.60 18.40,121.00 C17.60,121.80 18.40,122.80 19.80,122.80 C22.00,122.60 24.00,122.40 25.60,122.60 C23.50,127.00 21.50,132.00 20.60,137.50 C20.80,139.20 22.40,139.40 23.00,138.20 C24.00,139.80 25.60,139.60 26.00,138.20 C27.20,139.20 28.60,138.60 29.00,137.20 C30.40,137.40 31.40,136.00 32.00,134.40 C33.60,130.50 36.50,125.50 39.40,120.80 C42.50,116.50 45.80,112.00 48.80,107.60 C52.00,103.00 55.00,99.50 56.60,96.00 C57.80,92.00 58.60,88.00 59.30,83.60 C59.40,90.00 59.60,95.00 60.00,99.00 C60.40,103.00 60.90,106.00 60.90,109.40 C60.20,116.00 57.60,122.00 56.90,129.00 C56.40,135.00 56.60,141.00 56.90,146.00 C57.40,152.00 58.20,158.00 58.80,166.00 L76.30,166.00 C76.60,155.00 76.90,144.00 77.40,133.40 C77.90,144.00 78.20,155.00 78.50,166.00 L96.00,166.00 C96.60,158.00 97.40,152.00 97.90,146.00 C98.20,141.00 98.40,135.00 97.90,129.00 C97.20,122.00 94.60,116.00 93.90,109.40 C93.90,106.00 94.40,103.00 94.80,99.00 C95.20,95.00 95.40,90.00 95.50,83.60 C96.20,88.00 97.00,92.00 98.20,96.00 C99.80,99.50 102.80,103.00 106.00,107.60 C109.00,112.00 112.30,116.50 115.40,120.80 C118.30,125.50 121.20,130.50 122.80,134.40 C123.40,136.00 124.40,137.40 125.80,137.20 C126.20,138.60 127.60,139.20 128.80,138.20 C129.20,139.60 130.80,139.80 131.80,138.20 C132.40,139.40 134.00,139.20 134.20,137.50 C133.30,132.00 131.30,127.00 129.20,122.60 C130.80,122.40 132.80,122.60 135.00,122.80 C136.40,122.80 137.20,121.80 136.40,121.00 C132.80,119.60 128.80,118.60 125.20,117.60 C122.30,114.50 119.80,110.50 117.00,106.20 C114.40,102.00 112.30,98.00 110.20,92.50 C108.40,87.00 107.40,82.00 106.40,76.00 C105.20,71.00 104.20,66.00 102.90,59.50 C102.00,56.00 99.30,54.60 95.30,53.60 C88.80,52.00 82.00,50.20 81.30,46.80 L81.20,40.50 Z" fill="#f0f0f0" stroke="#cccccc" stroke-width="0.6" stroke-linejoin="round"/>
<ellipse cx="67.2" cy="31.2" rx="1.3" ry="2.6" fill="#f0f0f0" stroke="#cccccc" stroke-width="0.5"/>
<ellipse cx="87.60000000000001" cy="31.2" rx="1.3" ry="2.6" fill="#f0f0f0" stroke="#cccccc" stroke-width="0.5"/>
<path d="M77.4,15.4 C71.2,15.4 67.5,19.6 67.5,26.5 C67.5,28.6 67.7,30 68,31.4 C68.4,34.6 69.3,37.6 70.8,40.2 C72.4,43 74.8,44.9 77.4,44.9 C80.00000000000001,44.9 82.4,43 84.00000000000001,40.2 C85.50000000000001,37.6 86.4,34.6 86.80000000000001,31.4 C87.10000000000001,30 87.30000000000001,28.6 87.30000000000001,26.5 C87.30000000000001,19.6 83.60000000000001,15.4 77.4,15.4 Z" fill="#f1f1f1" stroke="#cccccc" stroke-width="0.6"/>
<path d="M74.6,39.4 Q77.4,40.4 80.20000000000002,39.4" fill="none" stroke="#d6d6d6" stroke-width="0.5"/>
<path d="M76.5,36.3 L78.30000000000001,36.3" fill="none" stroke="#d9d9d9" stroke-width="0.5"/>
<path d="M63,56.5 Q70,55.6 76,58.2 M91.80000000000001,56.5 Q84.80000000000001,55.6 78.80000000000001,58.2" fill="none" stroke="#dcdcdc" stroke-width="0.5"/>
<path d="M73.4,47 L76.6,57 M81.4,47 L78.20000000000002,57" fill="none" stroke="#e0e0e0" stroke-width="0.5"/>
<path d="M59.3,83.6 Q59.6,78 61.4,74.5 M95.50000000000001,83.6 Q95.20000000000002,78 93.4,74.5" fill="none" stroke="#d0d0d0" stroke-width="0.5"/>
<path d="M58.5,118 Q66,127 76.4,133 M96.30000000000001,118 Q88.80000000000001,127 78.4,133" fill="none" stroke="#dedede" stroke-width="0.5"/>
<path d="M23,138 L25.4,131 M26,138 L28,131.5 M29,137 L30.4,132" fill="none" stroke="#dadada" stroke-width="0.4"/>
<path d="M131.8,138 L129.4,131 M128.8,138 L126.80000000000001,131.5 M125.80000000000001,137 L124.4,132" fill="none" stroke="#dadada" stroke-width="0.4"/>
<path d="M77.4,16.2 C72,16 68.3,19.5 68.1,24.5 C68,28.4 70,31.4 73.6,32.2 L75.2,32.6 L75.6,36.4 L79.2,36.4 L79.6,32.6 L81.2,32.2 C84.8,31.4 86.8,28.4 86.7,24.5 C86.5,19.5 82.8,16 77.4,16.2 Z" fill="#c9969c" stroke="#b07a84" stroke-width="0.4"/>
<path d="M77.4,16.4 V32 M70,20.5 Q73,22 72,25 T74.5,30 M84.8,20.5 Q81.8,22 82.8,25 T80.3,30 M69,25.5 Q71,26.5 70.5,29 M85.8,25.5 Q83.8,26.5 84.3,29 M73,17.6 Q75,20 74,22.5 M81.8,17.6 Q79.8,20 80.8,22.5 M72.2,31 Q77.4,28.5 82.6,31" fill="none" stroke="#a86f7b" stroke-width="0.45"/>
<path d="M75.6,33 H79.2 V36.4 H75.6 Z" fill="#b98089"/>
<path d="M81.6,58.2 C79.6,60 78.9,64 78.9,69 L79,80 C79,83.5 79.4,85.3 81.2,85.6 C83.6,85.8 85.2,85.2 86.6,85.8 C89.6,87.2 92.4,89.4 94.8,91.4 C95.5,91.8 95.8,91.2 95.7,90.2 C95.3,82.5 93.8,73.5 90.4,66.8 C88.4,62.8 85.2,58.8 81.6,58.2 Z" fill="#cf919a" stroke="#b0707b" stroke-width="0.5" stroke-linejoin="round"/>
<path d="M79,73.5 C81.2,73 83.2,74 83.6,76.4 C84,78.6 83.4,80.6 84.6,82.6 C85.2,83.8 85.8,85 86.6,85.8 C85,85.2 83.4,85.8 81.2,85.6 C79.4,85.3 79,83.5 79,80 Z" fill="#b36f7b"/>
<g transform="rotate(-18 68.6 75.6)">
<ellipse cx="68.6" cy="75.6" rx="6.4" ry="7.6" fill="#c9636b" stroke="#b5555d" stroke-width="0.3"/>
<ellipse cx="69.1" cy="76.6" rx="6.0" ry="6.7" fill="#f6c068" stroke="#dc9434" stroke-width="0.35"/>
<ellipse cx="72.53" cy="77.57" rx="1.35" ry="0.9" transform="rotate(11 72.53 77.57)" fill="#fde8b4" stroke="#e3a040" stroke-width="0.25"/>
<ellipse cx="71.47" cy="79.67" rx="1.35" ry="0.9" transform="rotate(47 71.47 79.67)" fill="#fde8b4" stroke="#e3a040" stroke-width="0.25"/>
<ellipse cx="69.50" cy="80.67" rx="1.35" ry="0.9" transform="rotate(83 69.50 80.67)" fill="#fde8b4" stroke="#e3a040" stroke-width="0.25"/>
<ellipse cx="67.38" cy="80.20" rx="1.35" ry="0.9" transform="rotate(119 67.38 80.20)" fill="#fde8b4" stroke="#e3a040" stroke-width="0.25"/>
<ellipse cx="65.92" cy="78.42" rx="1.35" ry="0.9" transform="rotate(155 65.92 78.42)" fill="#fde8b4" stroke="#e3a040" stroke-width="0.25"/>
<ellipse cx="65.67" cy="76.03" rx="1.35" ry="0.9" transform="rotate(191 65.67 76.03)" fill="#fde8b4" stroke="#e3a040" stroke-width="0.25"/>
<ellipse cx="66.73" cy="73.93" rx="1.35" ry="0.9" transform="rotate(227 66.73 73.93)" fill="#fde8b4" stroke="#e3a040" stroke-width="0.25"/>
<ellipse cx="68.70" cy="72.93" rx="1.35" ry="0.9" transform="rotate(263 68.70 72.93)" fill="#fde8b4" stroke="#e3a040" stroke-width="0.25"/>
<ellipse cx="70.82" cy="73.40" rx="1.35" ry="0.9" transform="rotate(299 70.82 73.40)" fill="#fde8b4" stroke="#e3a040" stroke-width="0.25"/>
<ellipse cx="72.28" cy="75.18" rx="1.35" ry="0.9" transform="rotate(335 72.28 75.18)" fill="#fde8b4" stroke="#e3a040" stroke-width="0.25"/>
<circle cx="69.1" cy="76.8" r="1.3" fill="#f0a24a" stroke="#d98d2c" stroke-width="0.3"/>
</g>
<path d="M90,94.2 C90.6,95.4 90,97 88.4,97.8 C85.4,99.2 82.4,99.8 80,101 C79.2,103.6 78.6,106.2 76.6,107.6 C74.6,108.8 72.4,107.8 72,105.2 C71.6,102.4 72.6,99.6 75,98.2 C77.4,96.9 80,97 83,96.4 C85.6,95.8 88,94 90,94.2 Z" fill="#ecad5a" stroke="#d69540" stroke-width="0.45" stroke-linejoin="round"/>
<path d="M70.4,114 Q71,116.6 73,118.4 M86,114 Q85.4,116.6 83.4,118.4" fill="none" stroke="#d9b48c" stroke-width="0.7"/>
<path d="M78.2,115.6 C74,115.4 71.2,117.6 71.2,120.2 C71.2,123 73.4,125.2 76.2,125.8 L76,128.2 C76,129.6 76.8,130.4 77.4,131.8 L77.9,135 L78.5,135 L79,131.8 C79.6,130.4 80.4,129.6 80.4,128.2 L80.2,125.8 C83,125.2 85.2,123 85.2,120.2 C85.2,117.6 82.4,115.4 78.2,115.6 Z" fill="#b8585f" stroke="#9a454d" stroke-width="0.4" stroke-linejoin="round"/>
<ellipse cx="78.2" cy="120.2" rx="5.2" ry="3.3" fill="#a84b54"/>
<path d="M76.1,126 H80.3 L80.3,128.4 Q78.2,130.6 76.1,128.4 Z" fill="#cf8f86"/>
<defs><clipPath id="skinclip"><circle cx="21.3" cy="84.5" r="14.2"/></clipPath></defs>
<circle cx="21.3" cy="84.5" r="14.6" fill="#f6e4d8" stroke="#d7b3a0" stroke-width="0.8"/>
<g clip-path="url(#skinclip)"><rect x="9.6" y="74.6" width="22.6" height="22" fill="#f2dccf"/><rect x="9.6" y="76.2" width="22.6" height="2.0" fill="#efc9cc"/><rect x="9.6" y="78.0" width="22.6" height="2.6" fill="#b78fc2"/><rect x="9.6" y="80.4" width="22.6" height="9.8" fill="#e3d3e8"/><rect x="9.6" y="90.0" width="22.6" height="2.6" fill="#f1dc98"/><rect x="9.6" y="92.6" width="22.6" height="3.2" fill="#f3dccd"/></g>
<path d="M32.0,78.8 L42.9,92.9 M27.5,98.6 L42.6,99.6" stroke="#c9b6aa" stroke-width="0.5" fill="none"/>
<circle cx="45.6" cy="96.3" r="3.9" fill="#e9c4a5" stroke="#c9a188" stroke-width="0.5"/>
<path d="M90.6,25.1 L120.2,28.9 M42.7,49 L62.9,67.4 M22.6,64.2 L22.6,69.6 M122.7,60.3 L94.3,66.6 M113.2,82.5 L89.3,96.8 M110.1,145.3 L81.7,128.2" stroke="#8f8f8f" stroke-width="0.5" fill="none"/>
</g>
<g transform="translate(77.9,203.3) scale(0.933) translate(-77.4,-15.5)">
<defs><clipPath id="cclip"><rect x="0" y="0" width="160" height="164.1"/></clipPath></defs>
<g clip-path="url(#cclip)">
<path d="M73.60,40.50 L73.50,46.80 C72.80,50.20 66.00,52.00 59.50,53.60 C55.50,54.60 52.80,56.00 51.90,59.50 C50.60,66.00 49.60,71.00 48.40,76.00 C47.40,82.00 46.40,87.00 44.60,92.50 C42.50,98.00 40.40,102.00 37.80,106.20 C35.00,110.50 32.50,114.50 29.60,117.60 C26.00,118.60 22.00,119.60 18.40,121.00 C17.60,121.80 18.40,122.80 19.80,122.80 C22.00,122.60 24.00,122.40 25.60,122.60 C23.50,127.00 21.50,132.00 20.60,137.50 C20.80,139.20 22.40,139.40 23.00,138.20 C24.00,139.80 25.60,139.60 26.00,138.20 C27.20,139.20 28.60,138.60 29.00,137.20 C30.40,137.40 31.40,136.00 32.00,134.40 C33.60,130.50 36.50,125.50 39.40,120.80 C42.50,116.50 45.80,112.00 48.80,107.60 C52.00,103.00 55.00,99.50 56.60,96.00 C57.80,92.00 58.60,88.00 59.30,83.60 C59.40,90.00 59.60,95.00 60.00,99.00 C60.40,103.00 60.90,106.00 60.90,109.40 C60.20,116.00 57.60,122.00 56.90,129.00 C56.40,135.00 56.60,141.00 56.90,146.00 C57.40,152.00 58.20,158.00 58.80,166.00 L76.30,166.00 C76.60,155.00 76.90,144.00 77.40,133.40 C77.90,144.00 78.20,155.00 78.50,166.00 L96.00,166.00 C96.60,158.00 97.40,152.00 97.90,146.00 C98.20,141.00 98.40,135.00 97.90,129.00 C97.20,122.00 94.60,116.00 93.90,109.40 C93.90,106.00 94.40,103.00 94.80,99.00 C95.20,95.00 95.40,90.00 95.50,83.60 C96.20,88.00 97.00,92.00 98.20,96.00 C99.80,99.50 102.80,103.00 106.00,107.60 C109.00,112.00 112.30,116.50 115.40,120.80 C118.30,125.50 121.20,130.50 122.80,134.40 C123.40,136.00 124.40,137.40 125.80,137.20 C126.20,138.60 127.60,139.20 128.80,138.20 C129.20,139.60 130.80,139.80 131.80,138.20 C132.40,139.40 134.00,139.20 134.20,137.50 C133.30,132.00 131.30,127.00 129.20,122.60 C130.80,122.40 132.80,122.60 135.00,122.80 C136.40,122.80 137.20,121.80 136.40,121.00 C132.80,119.60 128.80,118.60 125.20,117.60 C122.30,114.50 119.80,110.50 117.00,106.20 C114.40,102.00 112.30,98.00 110.20,92.50 C108.40,87.00 107.40,82.00 106.40,76.00 C105.20,71.00 104.20,66.00 102.90,59.50 C102.00,56.00 99.30,54.60 95.30,53.60 C88.80,52.00 82.00,50.20 81.30,46.80 L81.20,40.50 Z" fill="#f0f0f0" stroke="#cccccc" stroke-width="0.6" stroke-linejoin="round"/>
<ellipse cx="67.2" cy="31.2" rx="1.3" ry="2.6" fill="#f0f0f0" stroke="#cccccc" stroke-width="0.5"/>
<ellipse cx="87.60000000000001" cy="31.2" rx="1.3" ry="2.6" fill="#f0f0f0" stroke="#cccccc" stroke-width="0.5"/>
<path d="M77.4,15.4 C71.2,15.4 67.5,19.6 67.5,26.5 C67.5,28.6 67.7,30 68,31.4 C68.4,34.6 69.3,37.6 70.8,40.2 C72.4,43 74.8,44.9 77.4,44.9 C80.00000000000001,44.9 82.4,43 84.00000000000001,40.2 C85.50000000000001,37.6 86.4,34.6 86.80000000000001,31.4 C87.10000000000001,30 87.30000000000001,28.6 87.30000000000001,26.5 C87.30000000000001,19.6 83.60000000000001,15.4 77.4,15.4 Z" fill="#f1f1f1" stroke="#cccccc" stroke-width="0.6"/>
<path d="M74.6,39.4 Q77.4,40.4 80.20000000000002,39.4" fill="none" stroke="#d6d6d6" stroke-width="0.5"/>
<path d="M76.5,36.3 L78.30000000000001,36.3" fill="none" stroke="#d9d9d9" stroke-width="0.5"/>
<path d="M63,56.5 Q70,55.6 76,58.2 M91.80000000000001,56.5 Q84.80000000000001,55.6 78.80000000000001,58.2" fill="none" stroke="#dcdcdc" stroke-width="0.5"/>
<path d="M73.4,47 L76.6,57 M81.4,47 L78.20000000000002,57" fill="none" stroke="#e0e0e0" stroke-width="0.5"/>
<path d="M59.3,83.6 Q59.6,78 61.4,74.5 M95.50000000000001,83.6 Q95.20000000000002,78 93.4,74.5" fill="none" stroke="#d0d0d0" stroke-width="0.5"/>
<path d="M58.5,118 Q66,127 76.4,133 M96.30000000000001,118 Q88.80000000000001,127 78.4,133" fill="none" stroke="#dedede" stroke-width="0.5"/>
<path d="M23,138 L25.4,131 M26,138 L28,131.5 M29,137 L30.4,132" fill="none" stroke="#dadada" stroke-width="0.4"/>
<path d="M131.8,138 L129.4,131 M128.8,138 L126.80000000000001,131.5 M125.80000000000001,137 L124.4,132" fill="none" stroke="#dadada" stroke-width="0.4"/>
<path d="M73.4,132.4 C75.8,131 78.2,133.2 76.8,135.8 C78,138.2 75.8,140.6 73.4,139.6 C70.6,142.4 69.2,147 68.6,152.2 C69.8,154.8 67.8,157.2 65.2,156.2 C63.2,157.8 60,156.2 60.6,153.4 C59,151 60.6,148.2 63.2,148.4 C64.4,143 66.8,137.6 71.4,135.2 C71.6,134 72.4,133 73.4,132.4 Z" fill="#cdb991" stroke="#b39c74" stroke-width="0.5"/>
<path d="M72.6,136.6 C69.4,139.6 67,145 66,151.4" fill="none" stroke="#e4d6b4" stroke-width="1.6" stroke-linecap="round" stroke-dasharray="0.6 1.2"/>
<circle cx="62.6" cy="142.0" r="2.7" fill="#c6403c"/>
<path d="M77.4,16.2 C72,16 68.3,19.5 68.1,24.5 C68,28.4 70,31.4 73.6,32.2 L75.2,32.6 L75.6,36.4 L79.2,36.4 L79.6,32.6 L81.2,32.2 C84.8,31.4 86.8,28.4 86.7,24.5 C86.5,19.5 82.8,16 77.4,16.2 Z" fill="#c9969c" stroke="#b07a84" stroke-width="0.4"/>
<path d="M77.4,16.4 V32 M70,20.5 Q73,22 72,25 T74.5,30 M84.8,20.5 Q81.8,22 82.8,25 T80.3,30 M69,25.5 Q71,26.5 70.5,29 M85.8,25.5 Q83.8,26.5 84.3,29 M73,17.6 Q75,20 74,22.5 M81.8,17.6 Q79.8,20 80.8,22.5 M72.2,31 Q77.4,28.5 82.6,31" fill="none" stroke="#a86f7b" stroke-width="0.45"/>
<path d="M75.6,33 H79.2 V36.4 H75.6 Z" fill="#b98089"/>
<path d="M81.6,58.2 C79.6,60 78.9,64 78.9,69 L79,80 C79,83.5 79.4,85.3 81.2,85.6 C83.6,85.8 85.2,85.2 86.6,85.8 C89.6,87.2 92.4,89.4 94.8,91.4 C95.5,91.8 95.8,91.2 95.7,90.2 C95.3,82.5 93.8,73.5 90.4,66.8 C88.4,62.8 85.2,58.8 81.6,58.2 Z" fill="#cf919a" stroke="#b0707b" stroke-width="0.5" stroke-linejoin="round"/>
<path d="M79,73.5 C81.2,73 83.2,74 83.6,76.4 C84,78.6 83.4,80.6 84.6,82.6 C85.2,83.8 85.8,85 86.6,85.8 C85,85.2 83.4,85.8 81.2,85.6 C79.4,85.3 79,83.5 79,80 Z" fill="#b36f7b"/>
<g transform="rotate(-18 68.6 75.6)">
<ellipse cx="68.6" cy="75.6" rx="6.4" ry="7.6" fill="#c9636b" stroke="#b5555d" stroke-width="0.3"/>
<ellipse cx="69.1" cy="76.6" rx="6.0" ry="6.7" fill="#f6c068" stroke="#dc9434" stroke-width="0.35"/>
<ellipse cx="72.53" cy="77.57" rx="1.35" ry="0.9" transform="rotate(11 72.53 77.57)" fill="#fde8b4" stroke="#e3a040" stroke-width="0.25"/>
<ellipse cx="71.47" cy="79.67" rx="1.35" ry="0.9" transform="rotate(47 71.47 79.67)" fill="#fde8b4" stroke="#e3a040" stroke-width="0.25"/>
<ellipse cx="69.50" cy="80.67" rx="1.35" ry="0.9" transform="rotate(83 69.50 80.67)" fill="#fde8b4" stroke="#e3a040" stroke-width="0.25"/>
<ellipse cx="67.38" cy="80.20" rx="1.35" ry="0.9" transform="rotate(119 67.38 80.20)" fill="#fde8b4" stroke="#e3a040" stroke-width="0.25"/>
<ellipse cx="65.92" cy="78.42" rx="1.35" ry="0.9" transform="rotate(155 65.92 78.42)" fill="#fde8b4" stroke="#e3a040" stroke-width="0.25"/>
<ellipse cx="65.67" cy="76.03" rx="1.35" ry="0.9" transform="rotate(191 65.67 76.03)" fill="#fde8b4" stroke="#e3a040" stroke-width="0.25"/>
<ellipse cx="66.73" cy="73.93" rx="1.35" ry="0.9" transform="rotate(227 66.73 73.93)" fill="#fde8b4" stroke="#e3a040" stroke-width="0.25"/>
<ellipse cx="68.70" cy="72.93" rx="1.35" ry="0.9" transform="rotate(263 68.70 72.93)" fill="#fde8b4" stroke="#e3a040" stroke-width="0.25"/>
<ellipse cx="70.82" cy="73.40" rx="1.35" ry="0.9" transform="rotate(299 70.82 73.40)" fill="#fde8b4" stroke="#e3a040" stroke-width="0.25"/>
<ellipse cx="72.28" cy="75.18" rx="1.35" ry="0.9" transform="rotate(335 72.28 75.18)" fill="#fde8b4" stroke="#e3a040" stroke-width="0.25"/>
<circle cx="69.1" cy="76.8" r="1.3" fill="#f0a24a" stroke="#d98d2c" stroke-width="0.3"/>
</g>
<path d="M90,94.2 C90.6,95.4 90,97 88.4,97.8 C85.4,99.2 82.4,99.8 80,101 C79.2,103.6 78.6,106.2 76.6,107.6 C74.6,108.8 72.4,107.8 72,105.2 C71.6,102.4 72.6,99.6 75,98.2 C77.4,96.9 80,97 83,96.4 C85.6,95.8 88,94 90,94.2 Z" fill="#ecad5a" stroke="#d69540" stroke-width="0.45" stroke-linejoin="round"/>
<path d="M70.4,114 Q71,116.6 73,118.4 M86,114 Q85.4,116.6 83.4,118.4" fill="none" stroke="#d9b48c" stroke-width="0.7"/>
<path d="M78.2,115.6 C74,115.4 71.2,117.6 71.2,120.2 C71.2,123 73.4,125.2 76.2,125.8 L76,128.2 C76,129.6 76.8,130.4 77.4,131.8 L77.9,135 L78.5,135 L79,131.8 C79.6,130.4 80.4,129.6 80.4,128.2 L80.2,125.8 C83,125.2 85.2,123 85.2,120.2 C85.2,117.6 82.4,115.4 78.2,115.6 Z" fill="#b8585f" stroke="#9a454d" stroke-width="0.4" stroke-linejoin="round"/>
<ellipse cx="78.2" cy="120.2" rx="5.2" ry="3.3" fill="#a84b54"/>
<path d="M76.1,126 H80.3 L80.3,128.4 Q78.2,130.6 76.1,128.4 Z" fill="#cf8f86"/>
<path d="M71.6,21.4 C72.4,19.6 75,19 76.6,20.2 C78,21.4 77.6,23.8 76,24.8 C74.2,25.8 72,25.2 71.4,23.6 Z" fill="#c53a38"/>
<circle cx="84.6" cy="69.2" r="3.1" fill="#c6403c"/>
<circle cx="67.6" cy="74.6" r="2.0" fill="#d14a40"/>
<circle cx="74.8" cy="104.0" r="2.3" fill="#d2522e"/>
<circle cx="78.4" cy="128.4" r="1.5" fill="#c6403c"/>
</g></g>
<circle cx="25.2" cy="268.6" r="13.7" fill="#ecb99f" stroke="#c99a84" stroke-width="0.8"/>
<circle cx="25.2" cy="268.6" r="9.6" fill="#e6a98e"/>
<path d="M31.29,268.80 L32.15,272.24 L28.99,273.80 L26.78,276.58 L23.53,275.24 L20.29,274.70 L19.49,271.45 L16.83,268.80 L19.32,266.06 L20.21,262.79 L23.47,262.08 L26.75,261.12 L29.22,263.51 L32.10,265.38 Z" fill="#a33c2c" stroke="#a33c2c" stroke-width="1.2" stroke-linejoin="round"/>
<path d="M30.19,269.85 L30.18,272.73 L27.42,273.52 L25.16,275.30 L22.82,273.63 L20.02,272.98 L19.86,270.11 L18.63,267.51 L20.78,265.60 L22.04,263.01 L24.87,263.50 L27.68,262.88 L29.06,265.40 L31.30,267.20 Z" fill="#34221f" stroke="#34221f" stroke-width="0.8" stroke-linejoin="round"/>
<path d="M36.4,260.8 L45.6,276.0 M31.0,281.0 L44.6,281.6" stroke="#c9b6aa" stroke-width="0.5" fill="none"/>
<circle cx="47.9" cy="279.1" r="3.6" fill="#ecb99f" stroke="#b98a74" stroke-width="0.5"/>
<circle cx="47.9" cy="279.1" r="1.7" fill="#3a2622"/>
<path d="M44,221.5 L66.6,251.7 M23.9,245.4 L25.9,254.6 M104.3,209 L88,212.2 M104.3,234.1 L90.5,244.9 M110.6,264.3 L91.8,279.4 M109.4,324.6 L81,309 M43.2,326.4 L55.8,324.1" stroke="#8f8f8f" stroke-width="0.5" fill="none"/>
<defs><filter id="grain" x="-5%" y="-5%" width="110%" height="110%" color-interpolation-filters="sRGB">
  <feGaussianBlur in="SourceGraphic" stdDeviation="2.5" result="b"/>
  <feTurbulence type="fractalNoise" baseFrequency="1.1" numOctaves="2" seed="7" result="n"/>
  <feColorMatrix in="n" type="matrix" values="0 0 0 0 1  0 0 0 0 1  0 0 0 0 1  2.0 0 0 0 0.0" result="na"/>
  <feComposite in="b" in2="na" operator="in" result="c"/>
  <feComponentTransfer in="c"><feFuncA type="linear" slope="1.8" intercept="-0.25"/></feComponentTransfer>
</filter><filter id="grainS" x="-5%" y="-5%" width="110%" height="110%" color-interpolation-filters="sRGB">
  <feGaussianBlur in="SourceGraphic" stdDeviation="0.9" result="b"/>
  <feTurbulence type="fractalNoise" baseFrequency="1.2" numOctaves="2" seed="13" result="n"/>
  <feColorMatrix in="n" type="matrix" values="0 0 0 0 1  0 0 0 0 1  0 0 0 0 1  2.2 0 0 0 -0.2" result="na"/>
  <feComposite in="b" in2="na" operator="in" result="c"/>
  <feComponentTransfer in="c"><feFuncA type="linear" slope="1.8" intercept="-0.2"/></feComponentTransfer>
</filter></defs>
<g filter="url(#grain)"><ellipse cx="218.0" cy="86.0" rx="20.8" ry="9.4" fill="#94a4a4" fill-opacity="0.55"/><ellipse cx="218.0" cy="105.8" rx="23.5" ry="14.1" fill="#94a4a4" fill-opacity="0.85"/><ellipse cx="227.4" cy="130.6" rx="28.9" ry="14.4" fill="#94a4a4"/><ellipse cx="212.3" cy="129.3" rx="23.5" ry="13.4" fill="#94a4a4" fill-opacity="0.9"/><ellipse cx="195.2" cy="128.6" rx="10.1" ry="8.1" fill="#94a4a4" fill-opacity="0.7"/><ellipse cx="198.9" cy="104.1" rx="8.7" ry="13.4" fill="#94a4a4" fill-opacity="0.55"/><ellipse cx="235.8" cy="115.8" rx="16.8" ry="10.1" fill="#94a4a4" fill-opacity="0.8"/><ellipse cx="230.8" cy="61.8" rx="28.2" ry="9.1" fill="#a3929d"/><ellipse cx="222.4" cy="57.1" rx="16.8" ry="5.4" fill="#a3929d"/><ellipse cx="243.5" cy="84.9" rx="12.1" ry="6.0" fill="#e46b62" fill-opacity="0.85"/><ellipse cx="251.9" cy="83.9" rx="7.4" ry="4.0" fill="#e46b62" fill-opacity="0.7" transform="rotate(-10 251.9 83.9)"/><ellipse cx="224.7" cy="83.3" rx="8.1" ry="4.0" fill="#e46b62" fill-opacity="0.3"/><ellipse cx="309.7" cy="32.2" rx="15.1" ry="8.7" fill="#a6d9b8" fill-opacity="0.8"/><ellipse cx="304.6" cy="28.5" rx="9.4" ry="5.0" fill="#a6d9b8" fill-opacity="0.8"/><ellipse cx="294.6" cy="70.5" rx="12.1" ry="4.7" fill="#2a6a5c"/><ellipse cx="286.2" cy="104.8" rx="9.4" ry="6.7" fill="#94a4a4" fill-opacity="0.6"/><ellipse cx="281.1" cy="99.1" rx="4.7" ry="3.4" fill="#94a4a4" fill-opacity="0.45"/><ellipse cx="333.8" cy="74.5" rx="12.1" ry="6.7" fill="#8e9093"/><ellipse cx="358.7" cy="83.9" rx="27.5" ry="15.1" fill="#c75659"/><ellipse cx="370.1" cy="78.9" rx="15.4" ry="10.1" fill="#c75659"/><ellipse cx="323.8" cy="90.0" rx="8.7" ry="6.0" fill="#5e5076"/><ellipse cx="319.7" cy="100.7" rx="4.0" ry="1.7" fill="#5e5076" transform="rotate(10 319.7 100.7)"/><ellipse cx="362.7" cy="112.5" rx="29.5" ry="15.4" fill="#42ac94"/><ellipse cx="377.5" cy="110.8" rx="15.4" ry="10.1" fill="#42ac94"/><ellipse cx="339.9" cy="110.8" rx="13.4" ry="8.1" fill="#42ac94"/><ellipse cx="333.8" cy="122.6" rx="6.7" ry="4.7" fill="#7acae6" fill-opacity="0.85"/><ellipse cx="353.3" cy="130.3" rx="15.4" ry="6.4" fill="#5064b0" transform="rotate(18 353.3 130.3)"/><ellipse cx="339.9" cy="127.6" rx="8.1" ry="4.0" fill="#7088cc" fill-opacity="0.8" transform="rotate(10 339.9 127.6)"/><ellipse cx="333.2" cy="142.7" rx="22.2" ry="12.1" fill="#bc79b2"/><ellipse cx="339.9" cy="147.7" rx="13.4" ry="8.1" fill="#bc79b2"/></g>
<g filter="url(#grainS)"><ellipse cx="192.8" cy="90.0" rx="7.4" ry="1.7" fill="#94a4a4" fill-opacity="0.6" transform="rotate(-18 192.8 90.0)"/><ellipse cx="189.5" cy="117.5" rx="4.0" ry="1.7" fill="#94a4a4" fill-opacity="0.6" transform="rotate(8 189.5 117.5)"/><ellipse cx="203.9" cy="80.6" rx="6.7" ry="2.0" fill="#94a4a4" fill-opacity="0.5" transform="rotate(-30 203.9 80.6)"/><ellipse cx="192.1" cy="110.8" rx="4.7" ry="1.3" fill="#94a4a4" fill-opacity="0.5" transform="rotate(-5 192.1 110.8)"/><ellipse cx="267.0" cy="37.6" rx="7.4" ry="2.4" fill="#a08c9a" fill-opacity="0.75" transform="rotate(-8 267.0 37.6)"/><ellipse cx="262.7" cy="40.3" rx="3.4" ry="1.7" fill="#a08c9a" fill-opacity="0.6" transform="rotate(20 262.7 40.3)"/><ellipse cx="246.5" cy="33.6" rx="1.3" ry="0.8" fill="#555" transform="rotate(40 246.5 33.6)"/><ellipse cx="261.6" cy="75.9" rx="5.7" ry="1.2" fill="#e46b62" transform="rotate(-12 261.6 75.9)"/><ellipse cx="267.0" cy="82.3" rx="6.7" ry="0.9" fill="#e46b62" transform="rotate(-3 267.0 82.3)"/><ellipse cx="261.6" cy="89.3" rx="5.4" ry="1.5" fill="#e46b62" fill-opacity="0.9" transform="rotate(15 261.6 89.3)"/><ellipse cx="276.8" cy="57.8" rx="3.7" ry="1.5" fill="#e46b62" transform="rotate(-28 276.8 57.8)"/><ellipse cx="270.0" cy="67.8" rx="3.4" ry="0.7" fill="#e46b62" fill-opacity="0.7" transform="rotate(-55 270.0 67.8)"/><ellipse cx="255.9" cy="79.9" rx="6.7" ry="1.7" fill="#e46b62" fill-opacity="0.8" transform="rotate(-15 255.9 79.9)"/><ellipse cx="304.0" cy="52.0" rx="11.1" ry="2.2" fill="#5a72be" transform="rotate(8 304.0 52.0)"/><ellipse cx="311.3" cy="55.1" rx="4.0" ry="2.0" fill="#5a72be" fill-opacity="0.85" transform="rotate(35 311.3 55.1)"/><ellipse cx="294.6" cy="49.7" rx="3.4" ry="0.8" fill="#5a72be" fill-opacity="0.8" transform="rotate(15 294.6 49.7)"/><ellipse cx="309.7" cy="77.9" rx="5.4" ry="1.2" fill="#2a6a5c" fill-opacity="0.85" transform="rotate(15 309.7 77.9)"/><ellipse cx="301.3" cy="83.9" rx="1.0" ry="4.7" fill="#7a94d0" fill-opacity="0.5" transform="rotate(-10 301.3 83.9)"/><ellipse cx="284.8" cy="126.2" rx="2.7" ry="1.5" fill="#4f7a78"/><ellipse cx="282.8" cy="97.4" rx="3.4" ry="1.3" fill="#6a8a88" fill-opacity="0.7" transform="rotate(-30 282.8 97.4)"/><ellipse cx="325.8" cy="102.4" rx="4.7" ry="1.2" fill="#e46b62" transform="rotate(-8 325.8 102.4)"/><ellipse cx="323.1" cy="108.1" rx="4.0" ry="0.8" fill="#42ac94"/><ellipse cx="325.8" cy="114.8" rx="2.4" ry="1.7" fill="#6a3a8a"/><ellipse cx="318.1" cy="120.2" rx="1.3" ry="2.4" fill="#bc79b2" fill-opacity="0.85" transform="rotate(20 318.1 120.2)"/><ellipse cx="319.7" cy="100.7" rx="3.7" ry="1.2" fill="#5e5076" transform="rotate(10 319.7 100.7)"/></g>
<g filter="url(#grain)"><ellipse cx="232.4" cy="249.9" rx="14.8" ry="10.1" fill="#889fde"/><ellipse cx="239.8" cy="257.6" rx="10.1" ry="6.0" fill="#9bb1e2"/><ellipse cx="227.4" cy="244.2" rx="9.4" ry="4.4" fill="#889fde"/><ellipse cx="249.9" cy="269.4" rx="6.7" ry="2.7" fill="#9bb1e2" fill-opacity="0.6"/><ellipse cx="284.5" cy="232.4" rx="11.4" ry="7.4" fill="#7a6a72" fill-opacity="0.85"/><ellipse cx="271.7" cy="208.9" rx="8.7" ry="7.4" fill="#8e9093" fill-opacity="0.9"/><ellipse cx="286.2" cy="214.0" rx="17.5" ry="14.1" fill="#c75659"/><ellipse cx="289.5" cy="207.3" rx="13.4" ry="7.4" fill="#c75659"/><ellipse cx="269.4" cy="229.8" rx="10.1" ry="10.1" fill="#5e5076"/><ellipse cx="311.3" cy="227.4" rx="16.1" ry="15.4" fill="#42ac94"/><ellipse cx="306.3" cy="239.2" rx="12.1" ry="7.4" fill="#42ac94"/><ellipse cx="282.8" cy="237.5" rx="13.4" ry="4.7" fill="#8e9093" fill-opacity="0.7"/><ellipse cx="284.5" cy="242.5" rx="8.4" ry="2.7" fill="#4c5c5a" fill-opacity="0.6"/><ellipse cx="332.5" cy="222.4" rx="7.4" ry="5.4" fill="#6f84cc"/><ellipse cx="332.5" cy="232.4" rx="4.7" ry="6.0" fill="#7acae6"/><ellipse cx="343.9" cy="221.7" rx="8.1" ry="5.0" fill="#bc79b2"/><ellipse cx="374.1" cy="241.8" rx="14.8" ry="8.1" fill="#2a6a5c"/><ellipse cx="328.5" cy="251.9" rx="8.7" ry="4.0" fill="#a6d9b8"/><ellipse cx="290.2" cy="267.4" rx="10.7" ry="3.7" fill="#9bb1e2" fill-opacity="0.85"/><ellipse cx="331.5" cy="276.8" rx="29.5" ry="13.4" fill="#9bb1e2"/><ellipse cx="347.3" cy="273.4" rx="13.4" ry="9.1" fill="#9bb1e2"/><ellipse cx="304.6" cy="288.8" rx="39.6" ry="15.8" fill="#94a4a4"/><ellipse cx="286.2" cy="290.2" rx="23.5" ry="14.8" fill="#94a4a4"/><ellipse cx="261.0" cy="301.3" rx="10.1" ry="7.4" fill="#94a4a4"/><ellipse cx="297.9" cy="306.3" rx="24.2" ry="8.1" fill="#d0807a" fill-opacity="0.8"/><ellipse cx="316.4" cy="301.9" rx="13.4" ry="5.4" fill="#d0807a" fill-opacity="0.55"/><ellipse cx="291.2" cy="294.6" rx="16.8" ry="6.7" fill="#94a4a4" fill-opacity="0.8"/><ellipse cx="281.1" cy="328.1" rx="12.1" ry="3.7" fill="#94a4a4" fill-opacity="0.8" transform="rotate(-5 281.1 328.1)"/><ellipse cx="286.2" cy="319.7" rx="6.7" ry="4.0" fill="#94a4a4" fill-opacity="0.5"/></g>
<g filter="url(#grainS)"><ellipse cx="223.0" cy="258.3" rx="29.5" ry="0.5" fill="#a4aec4" fill-opacity="0.5" transform="rotate(29 223.0 258.3)"/><ellipse cx="222.4" cy="266.7" rx="27.5" ry="0.5" fill="#a4aec4" fill-opacity="0.5" transform="rotate(12 222.4 266.7)"/><ellipse cx="222.4" cy="271.4" rx="26.9" ry="0.5" fill="#a8b0b0" fill-opacity="0.5" transform="rotate(3 222.4 271.4)"/><ellipse cx="229.1" cy="277.8" rx="20.1" ry="0.5" fill="#a8b0b0" fill-opacity="0.45" transform="rotate(-9 229.1 277.8)"/><ellipse cx="240.8" cy="279.4" rx="8.7" ry="0.8" fill="#86989a" fill-opacity="0.65" transform="rotate(30 240.8 279.4)"/><ellipse cx="191.5" cy="240.2" rx="2.0" ry="1.3" fill="#5a86a8"/><ellipse cx="264.3" cy="272.1" rx="3.4" ry="1.7" fill="#889fde" fill-opacity="0.9"/><ellipse cx="258.6" cy="249.9" rx="2.7" ry="2.4" fill="#f4c6d2" fill-opacity="0.9"/><ellipse cx="212.3" cy="272.7" rx="6.7" ry="2.0" fill="#9aa6a8" fill-opacity="0.35" transform="rotate(5 212.3 272.7)"/><ellipse cx="202.2" cy="266.0" rx="4.7" ry="1.7" fill="#9aa6c0" fill-opacity="0.3" transform="rotate(15 202.2 266.0)"/><ellipse cx="266.7" cy="255.9" rx="2.0" ry="1.7" fill="#5aa890" fill-opacity="0.7"/><ellipse cx="269.4" cy="262.0" rx="1.7" ry="1.3" fill="#5a70c0" fill-opacity="0.7"/><ellipse cx="316.4" cy="207.3" rx="2.4" ry="1.7" fill="#a6d9b8" fill-opacity="0.85"/><ellipse cx="360.0" cy="225.7" rx="1.7" ry="1.0" fill="#a6d9b8"/><ellipse cx="278.8" cy="201.5" rx="2.7" ry="1.3" fill="#e48a90" fill-opacity="0.7"/><ellipse cx="351.6" cy="239.2" rx="9.4" ry="1.3" fill="#2a6a5c" fill-opacity="0.85" transform="rotate(5 351.6 239.2)"/><ellipse cx="356.0" cy="249.9" rx="5.0" ry="1.7" fill="#2a6a5c" fill-opacity="0.7"/><ellipse cx="353.3" cy="247.5" rx="2.0" ry="1.3" fill="#c8c83a" fill-opacity="0.6"/><ellipse cx="318.1" cy="254.3" rx="4.7" ry="1.2" fill="#a6d9b8" fill-opacity="0.8" transform="rotate(-10 318.1 254.3)"/><ellipse cx="299.6" cy="258.6" rx="5.4" ry="2.0" fill="#88a0dc"/><ellipse cx="309.7" cy="314.7" rx="2.4" ry="3.0" fill="#d9685e" transform="rotate(30 309.7 314.7)"/><ellipse cx="326.5" cy="309.0" rx="2.4" ry="1.7" fill="#d9685e"/><ellipse cx="341.6" cy="297.9" rx="1.7" ry="1.0" fill="#889fde"/><ellipse cx="388.9" cy="263.3" rx="4.7" ry="1.7" fill="#e46b62"/><ellipse cx="360.0" cy="310.7" rx="11.4" ry="1.7" fill="#e46b62" transform="rotate(-5 360.0 310.7)"/><ellipse cx="367.4" cy="308.0" rx="7.4" ry="1.3" fill="#2a6a5c" transform="rotate(-5 367.4 308.0)"/><ellipse cx="365.1" cy="304.0" rx="7.4" ry="1.5" fill="#a3929d" transform="rotate(-8 365.1 304.0)"/><ellipse cx="373.5" cy="260.0" rx="10.1" ry="0.5" fill="#b0b8b4" fill-opacity="0.6" transform="rotate(12 373.5 260.0)"/><ellipse cx="384.2" cy="261.3" rx="3.4" ry="0.7" fill="#e46b62" fill-opacity="0.6" transform="rotate(10 384.2 261.3)"/></g>
<defs><filter id="grainF" x="-5%" y="-20%" width="110%" height="140%" color-interpolation-filters="sRGB">
  <feGaussianBlur in="SourceGraphic" stdDeviation="2.0" result="b"/>
  <feTurbulence type="fractalNoise" baseFrequency="1.4" numOctaves="2" seed="4" result="n"/>
  <feColorMatrix in="n" type="matrix" values="0 0 0 0 1  0 0 0 0 1  0 0 0 0 1  2.4 0 0 0 -0.42" result="na"/>
  <feComposite in="b" in2="na" operator="in" result="c"/>
  <feComponentTransfer in="c"><feFuncA type="linear" slope="2.0" intercept="-0.3"/></feComponentTransfer>
</filter></defs>
<g filter="url(#grainF)"><ellipse cx="44.5" cy="394.0" rx="33.0" ry="6.2" fill="#e4e4e4" fill-opacity="0.9"/><ellipse cx="45.5" cy="389.5" rx="15.0" ry="4.2" fill="#e4e4e4" fill-opacity="0.9"/><ellipse cx="11.5" cy="394.5" rx="5.0" ry="1.6" fill="#e4e4e4" fill-opacity="0.63" transform="rotate(-14 11.5 394.5)"/><ellipse cx="68.5" cy="391.5" rx="9.0" ry="3.2" fill="#e4e4e4" fill-opacity="0.81"/><ellipse cx="56.5" cy="384.6" rx="1.6" ry="1.2" fill="#e4e4e4" fill-opacity="0.9"/><ellipse cx="44.5" cy="420.0" rx="28.5" ry="16.5" fill="#e4e4e4" fill-opacity="0.9"/><ellipse cx="44.5" cy="406.0" rx="28.0" ry="8.0" fill="#e4e4e4" fill-opacity="0.855"/><ellipse cx="44.5" cy="400.0" rx="30.0" ry="5.0" fill="#e4e4e4" fill-opacity="0.7200000000000001"/><ellipse cx="46.0" cy="394.0" rx="29.0" ry="5.8" fill="#ab7b42" fill-opacity="0.95"/><ellipse cx="46.0" cy="389.6" rx="14.0" ry="4.0" fill="#ab7b42"/><ellipse cx="14.5" cy="394.6" rx="6.0" ry="1.5" fill="#ab7b42" fill-opacity="0.7" transform="rotate(-14 14.5 394.6)"/><ellipse cx="46.5" cy="400.5" rx="24.0" ry="4.5" fill="#ab7b42" fill-opacity="0.6"/><ellipse cx="67.5" cy="392.0" rx="8.0" ry="2.8" fill="#ab7b42" fill-opacity="0.7"/><ellipse cx="56.5" cy="384.6" rx="1.6" ry="1.2" fill="#ab7b42"/><ellipse cx="122.5" cy="394.0" rx="33.0" ry="6.2" fill="#e4e4e4" fill-opacity="0.9"/><ellipse cx="123.5" cy="389.5" rx="15.0" ry="4.2" fill="#e4e4e4" fill-opacity="0.9"/><ellipse cx="89.5" cy="394.5" rx="5.0" ry="1.6" fill="#e4e4e4" fill-opacity="0.63" transform="rotate(-14 89.5 394.5)"/><ellipse cx="146.5" cy="391.5" rx="9.0" ry="3.2" fill="#e4e4e4" fill-opacity="0.81"/><ellipse cx="134.5" cy="384.6" rx="1.6" ry="1.2" fill="#e4e4e4" fill-opacity="0.9"/><ellipse cx="122.5" cy="420.0" rx="28.5" ry="16.5" fill="#e4e4e4" fill-opacity="0.9"/><ellipse cx="122.5" cy="406.0" rx="28.0" ry="8.0" fill="#e4e4e4" fill-opacity="0.855"/><ellipse cx="122.5" cy="400.0" rx="30.0" ry="5.0" fill="#e4e4e4" fill-opacity="0.7200000000000001"/><ellipse cx="122.7" cy="420.3" rx="27.5" ry="15.8" fill="#ab7b42"/><ellipse cx="123.0" cy="407.0" rx="25.0" ry="7.0" fill="#ab7b42" fill-opacity="0.8"/><ellipse cx="153.5" cy="393.5" rx="3.5" ry="3.0" fill="#ab7b42" fill-opacity="0.6"/><ellipse cx="92.5" cy="396.5" rx="4.0" ry="1.5" fill="#ab7b42" fill-opacity="0.5" transform="rotate(-20 92.5 396.5)"/><ellipse cx="200.7" cy="394.0" rx="33.0" ry="6.2" fill="#e4e4e4" fill-opacity="0.9"/><ellipse cx="201.7" cy="389.5" rx="15.0" ry="4.2" fill="#e4e4e4" fill-opacity="0.9"/><ellipse cx="167.7" cy="394.5" rx="5.0" ry="1.6" fill="#e4e4e4" fill-opacity="0.63" transform="rotate(-14 167.7 394.5)"/><ellipse cx="224.7" cy="391.5" rx="9.0" ry="3.2" fill="#e4e4e4" fill-opacity="0.81"/><ellipse cx="212.7" cy="384.6" rx="1.6" ry="1.2" fill="#e4e4e4" fill-opacity="0.9"/><ellipse cx="200.7" cy="420.0" rx="28.5" ry="16.5" fill="#e4e4e4" fill-opacity="0.9"/><ellipse cx="200.7" cy="406.0" rx="28.0" ry="8.0" fill="#e4e4e4" fill-opacity="0.855"/><ellipse cx="200.7" cy="400.0" rx="30.0" ry="5.0" fill="#e4e4e4" fill-opacity="0.7200000000000001"/><ellipse cx="201.7" cy="389.2" rx="8.5" ry="3.0" fill="#9bb8e2" fill-opacity="0.7"/><ellipse cx="200.7" cy="403.0" rx="13.0" ry="7.0" fill="#ea9a80" fill-opacity="0.4"/><ellipse cx="198.7" cy="419.0" rx="24.0" ry="14.0" fill="#e6a084" fill-opacity="0.5"/><ellipse cx="205.7" cy="418.0" rx="17.0" ry="11.5" fill="#74b28a" fill-opacity="0.7"/><ellipse cx="206.7" cy="419.0" rx="10.0" ry="7.0" fill="#5aa874" fill-opacity="0.45"/><ellipse cx="181.7" cy="421.0" rx="4.0" ry="6.0" fill="#e6a8c4" fill-opacity="0.35"/><ellipse cx="202.7" cy="399.0" rx="4.0" ry="2.5" fill="#e0604c" fill-opacity="0.35"/><ellipse cx="278.7" cy="394.0" rx="33.0" ry="6.2" fill="#e4e4e4" fill-opacity="0.9"/><ellipse cx="279.7" cy="389.5" rx="15.0" ry="4.2" fill="#e4e4e4" fill-opacity="0.9"/><ellipse cx="245.7" cy="394.5" rx="5.0" ry="1.6" fill="#e4e4e4" fill-opacity="0.63" transform="rotate(-14 245.7 394.5)"/><ellipse cx="302.7" cy="391.5" rx="9.0" ry="3.2" fill="#e4e4e4" fill-opacity="0.81"/><ellipse cx="290.7" cy="384.6" rx="1.6" ry="1.2" fill="#e4e4e4" fill-opacity="0.9"/><ellipse cx="278.7" cy="420.0" rx="28.5" ry="16.5" fill="#e4e4e4" fill-opacity="0.9"/><ellipse cx="278.7" cy="406.0" rx="28.0" ry="8.0" fill="#e4e4e4" fill-opacity="0.855"/><ellipse cx="278.7" cy="400.0" rx="30.0" ry="5.0" fill="#e4e4e4" fill-opacity="0.7200000000000001"/><ellipse cx="277.2" cy="421.5" rx="28.0" ry="14.5" fill="#a4d4cf" fill-opacity="0.85"/><ellipse cx="276.7" cy="409.5" rx="22.0" ry="6.0" fill="#a4d4cf" fill-opacity="0.45"/><ellipse cx="266.7" cy="395.0" rx="18.0" ry="4.5" fill="#bcdeda" fill-opacity="0.45"/><ellipse cx="249.7" cy="396.5" rx="4.0" ry="1.6" fill="#a4d4cf" fill-opacity="0.6"/><ellipse cx="356.8" cy="394.0" rx="33.0" ry="6.2" fill="#b4b4b4" fill-opacity="0.95"/><ellipse cx="357.8" cy="389.5" rx="15.0" ry="4.2" fill="#b4b4b4" fill-opacity="0.95"/><ellipse cx="323.8" cy="394.5" rx="5.0" ry="1.6" fill="#b4b4b4" fill-opacity="0.6649999999999999" transform="rotate(-14 323.8 394.5)"/><ellipse cx="380.8" cy="391.5" rx="9.0" ry="3.2" fill="#b4b4b4" fill-opacity="0.855"/><ellipse cx="368.8" cy="384.6" rx="1.6" ry="1.2" fill="#b4b4b4" fill-opacity="0.95"/><ellipse cx="356.8" cy="420.0" rx="28.5" ry="16.5" fill="#b4b4b4" fill-opacity="0.95"/><ellipse cx="356.8" cy="406.0" rx="28.0" ry="8.0" fill="#b4b4b4" fill-opacity="0.9025"/><ellipse cx="356.8" cy="400.0" rx="30.0" ry="5.0" fill="#b4b4b4" fill-opacity="0.76"/><ellipse cx="355.8" cy="392.5" rx="27.0" ry="5.8" fill="#8c8c8c" fill-opacity="0.75"/><ellipse cx="358.8" cy="389.5" rx="12.0" ry="3.6" fill="#858585" fill-opacity="0.7"/><ellipse cx="356.8" cy="421.0" rx="25.0" ry="14.0" fill="#a0a0a0" fill-opacity="0.6"/><ellipse cx="378.8" cy="392.0" rx="8.0" ry="3.0" fill="#8c8c8c" fill-opacity="0.6"/></g>
<circle cx="407" cy="360.70" r="3.6" fill="#0d6db5"/>
<circle cx="407" cy="374.20" r="3.6" fill="#d91f2d"/>
<circle cx="407" cy="387.70" r="3.6" fill="#0d8c4c"/>
<circle cx="407" cy="401.20" r="3.6" fill="#d77bb2"/>
<circle cx="407" cy="414.70" r="3.6" fill="#e87230"/>
<circle cx="407" cy="428.20" r="3.6" fill="#6dc1ba"/>
<circle cx="407" cy="441.70" r="3.6" fill="#7d7d80"/>
<path d="M22.8,493.5 C38.0,489.7 62.7,489.3 66.9,495.4 C70.7,503.0 65.6,516.3 57.0,527.7 C49.8,535.7 43.3,539.5 44.1,546.7 C45.6,552.8 57.0,560.0 61.2,569.2 C64.2,577.1 58.9,581.3 51.3,580.0 C38.0,578.3 17.1,574.3 7.6,567.6 C-0.4,561.0 0.0,548.6 2.7,537.2 C5.7,522.0 11.4,497.3 22.8,493.5 Z" fill="#f9e6c8"/>
<path d="M104.2,500.4 C109.3,501.1 114.0,512.5 118.8,527.7 C123.2,541.0 122.6,554.3 114.0,565.7 C107.4,573.7 96.9,577.1 87.4,573.3 C76.0,568.6 62.7,554.3 59.9,542.9 C58.0,534.4 64.6,525.8 76.0,518.2 C87.4,510.2 96.9,499.6 104.2,500.4 Z" fill="#c9d2ea"/>
<path d="M95.6,568.0L55.3,575.6M95.6,568.0L74.1,553.4M95.6,568.0L100.4,553.9M95.6,568.0L109.7,553.9M95.6,568.0L85.5,564.8M95.6,568.0L93.1,552.4M95.6,568.0L95.0,541.4M24.3,563.5L16.7,566.1M24.3,563.5L6.3,558.5M24.3,563.5L55.3,575.6M24.3,563.5L24.7,539.1M24.3,563.5L26.0,552.8M24.3,563.5L37.6,556.2M16.7,566.1L6.3,558.5M16.7,566.1L55.3,575.6M16.7,566.1L7.6,543.3M16.7,566.1L26.0,552.8M16.7,566.1L37.6,556.2M16.7,566.1L30.0,520.5M6.3,558.5L55.3,575.6M6.3,558.5L24.7,539.1M6.3,558.5L7.6,543.3M6.3,558.5L26.0,552.8M55.3,575.6L74.1,553.4M55.3,575.6L85.5,564.8M55.3,575.6L66.0,537.6M55.3,575.6L32.7,499.2M55.3,575.6L26.0,552.8M55.3,575.6L37.6,556.2M55.3,575.6L43.3,526.6M55.3,575.6L31.5,534.9M100.7,505.7L100.4,553.9M100.7,505.7L83.6,517.8M100.7,505.7L98.3,527.7M100.7,505.7L94.5,537.6M100.7,505.7L87.4,539.1M100.7,505.7L106.1,537.6M100.7,505.7L95.0,541.4M100.7,505.7L62.1,499.2M74.1,553.4L85.5,564.8M74.1,553.4L94.5,537.6M74.1,553.4L87.4,539.1M74.1,553.4L93.1,552.4M74.1,553.4L95.0,541.4M74.1,553.4L66.0,537.6M74.1,553.4L24.7,539.1M74.1,553.4L26.0,552.8M74.1,553.4L37.6,556.2M115.9,540.3L100.4,553.9M115.9,540.3L109.7,553.9M115.9,540.3L98.3,527.7M115.9,540.3L94.5,537.6M115.9,540.3L106.1,537.6M115.9,540.3L95.0,541.4M115.9,540.3L43.3,526.6M100.4,553.9L109.7,553.9M100.4,553.9L85.5,564.8M100.4,553.9L94.5,537.6M100.4,553.9L106.1,537.6M100.4,553.9L93.1,552.4M100.4,553.9L95.0,541.4M100.4,553.9L31.5,534.9M109.7,553.9L106.1,537.6M109.7,553.9L93.1,552.4M109.7,553.9L95.0,541.4M85.5,564.8L87.4,539.1M85.5,564.8L93.1,552.4M85.5,564.8L95.0,541.4M85.5,564.8L37.6,556.2M83.6,517.8L98.3,527.7M83.6,517.8L94.5,537.6M83.6,517.8L87.4,539.1M83.6,517.8L95.0,541.4M83.6,517.8L66.0,537.6M83.6,517.8L32.7,499.2M83.6,517.8L62.1,499.2M83.6,517.8L22.8,509.5M83.6,517.8L39.9,513.3M98.3,527.7L94.5,537.6M98.3,527.7L87.4,539.1M98.3,527.7L106.1,537.6M98.3,527.7L95.0,541.4M98.3,527.7L43.3,526.6M94.5,537.6L87.4,539.1M94.5,537.6L106.1,537.6M94.5,537.6L93.1,552.4M94.5,537.6L95.0,541.4M94.5,537.6L66.0,537.6M94.5,537.6L39.9,513.3M94.5,537.6L31.5,534.9M87.4,539.1L106.1,537.6M87.4,539.1L93.1,552.4M87.4,539.1L95.0,541.4M87.4,539.1L66.0,537.6M87.4,539.1L12.9,527.0M87.4,539.1L43.3,526.6M106.1,537.6L95.0,541.4M93.1,552.4L95.0,541.4M93.1,552.4L66.0,537.6M95.0,541.4L66.0,537.6M66.0,537.6L7.6,543.3M66.0,537.6L39.9,513.3M66.0,537.6L22.4,520.5M66.0,537.6L43.3,526.6M66.0,537.6L31.5,534.9M32.7,499.2L62.1,499.2M32.7,499.2L22.8,509.5M32.7,499.2L39.9,513.3M32.7,499.2L22.4,520.5M32.7,499.2L43.3,526.6M32.7,499.2L30.0,520.5M24.7,539.1L7.6,543.3M24.7,539.1L26.0,552.8M24.7,539.1L37.6,556.2M24.7,539.1L22.4,520.5M24.7,539.1L12.9,527.0M24.7,539.1L43.3,526.6M24.7,539.1L31.5,534.9M7.6,543.3L26.0,552.8M7.6,543.3L12.9,527.0M26.0,552.8L37.6,556.2M26.0,552.8L39.9,513.3M26.0,552.8L31.5,534.9M37.6,556.2L31.5,534.9M62.1,499.2L22.8,509.5M62.1,499.2L39.9,513.3M62.1,499.2L12.9,527.0M62.1,499.2L43.3,526.6M62.1,499.2L30.0,520.5M22.8,509.5L39.9,513.3M22.8,509.5L22.4,520.5M22.8,509.5L12.9,527.0M22.8,509.5L30.0,520.5M39.9,513.3L22.4,520.5M39.9,513.3L43.3,526.6M39.9,513.3L30.0,520.5M22.4,520.5L12.9,527.0M22.4,520.5L43.3,526.6M22.4,520.5L30.0,520.5M22.4,520.5L31.5,534.9M12.9,527.0L30.0,520.5M43.3,526.6L30.0,520.5M43.3,526.6L31.5,534.9M30.0,520.5L31.5,534.9" fill="none" stroke="#3c3c3c" stroke-width="0.35"/>
<circle cx="32.7" cy="499.2" r="1.90" fill="#7f8085"/>
<circle cx="62.1" cy="499.2" r="1.90" fill="#7f8085"/>
<circle cx="22.8" cy="509.5" r="1.90" fill="#7f8085"/>
<circle cx="39.9" cy="513.3" r="1.90" fill="#7f8085"/>
<circle cx="22.4" cy="520.5" r="1.90" fill="#7f8085"/>
<circle cx="12.9" cy="527.0" r="1.90" fill="#7f8085"/>
<circle cx="43.3" cy="526.6" r="1.90" fill="#7f8085"/>
<circle cx="30.0" cy="520.5" r="1.90" fill="#58bdb5"/>
<circle cx="31.5" cy="534.9" r="1.90" fill="#58bdb5"/>
<circle cx="24.7" cy="539.1" r="1.90" fill="#58bdb5"/>
<circle cx="7.6" cy="543.3" r="1.90" fill="#58bdb5"/>
<circle cx="26.0" cy="552.8" r="1.90" fill="#58bdb5"/>
<circle cx="37.6" cy="556.2" r="1.90" fill="#58bdb5"/>
<circle cx="6.3" cy="558.5" r="1.90" fill="#d77bb2"/>
<circle cx="16.7" cy="566.1" r="1.90" fill="#e87230"/>
<circle cx="24.3" cy="563.5" r="1.90" fill="#0d8c4c"/>
<circle cx="55.3" cy="575.6" r="1.90" fill="#d91f2d"/>
<circle cx="100.7" cy="505.7" r="1.90" fill="#7f8085"/>
<circle cx="83.6" cy="517.8" r="1.90" fill="#7f8085"/>
<circle cx="98.3" cy="527.7" r="1.90" fill="#7f8085"/>
<circle cx="94.5" cy="537.6" r="1.90" fill="#7f8085"/>
<circle cx="87.4" cy="539.1" r="1.90" fill="#7f8085"/>
<circle cx="106.1" cy="537.6" r="1.90" fill="#7f8085"/>
<circle cx="93.1" cy="552.4" r="1.90" fill="#7f8085"/>
<circle cx="95.0" cy="541.4" r="1.90" fill="#7f8085"/>
<circle cx="66.0" cy="537.6" r="1.90" fill="#58bdb5"/>
<circle cx="74.1" cy="553.4" r="1.90" fill="#58bdb5"/>
<circle cx="115.9" cy="540.3" r="1.90" fill="#58bdb5"/>
<circle cx="100.4" cy="553.9" r="1.90" fill="#58bdb5"/>
<circle cx="109.7" cy="553.9" r="1.90" fill="#58bdb5"/>
<circle cx="85.5" cy="564.8" r="1.90" fill="#58bdb5"/>
<circle cx="95.6" cy="568.0" r="1.90" fill="#0d6db5"/>
<circle cx="133.6" cy="486.7" r="3.7" fill="#0d6db5"/>
<circle cx="133.6" cy="501.8" r="3.7" fill="#d91f2d"/>
<circle cx="213.2" cy="486.7" r="3.7" fill="#0d8c4c"/>
<circle cx="213.2" cy="501.8" r="3.7" fill="#d77bb2"/>
<circle cx="289.7" cy="486.7" r="3.7" fill="#e87230"/>
<circle cx="289.7" cy="501.8" r="3.7" fill="#6dc1ba"/>
<circle cx="351.8" cy="486.7" r="3.7" fill="#7d7d80"/>
<path d="M187.5,565.9L159.3,571.2M187.5,565.9L172.5,555.6M187.5,565.9L190.9,556.0M187.5,565.9L197.4,556.0M187.5,565.9L180.5,563.6M187.5,565.9L185.8,555.0M187.5,565.9L187.1,547.2M137.6,562.7L132.3,564.5M137.6,562.7L125.0,559.2M137.6,562.7L159.3,571.2M137.6,562.7L137.9,545.6M137.6,562.7L138.8,555.2M137.6,562.7L147.0,557.6M132.3,564.5L125.0,559.2M132.3,564.5L159.3,571.2M132.3,564.5L125.9,548.6M132.3,564.5L138.8,555.2M132.3,564.5L147.0,557.6M132.3,564.5L141.6,532.6M125.0,559.2L159.3,571.2M125.0,559.2L137.9,545.6M125.0,559.2L125.9,548.6M125.0,559.2L138.8,555.2M159.3,571.2L172.5,555.6M159.3,571.2L180.5,563.6M159.3,571.2L166.8,544.6M159.3,571.2L143.5,517.7M159.3,571.2L138.8,555.2M159.3,571.2L147.0,557.6M159.3,571.2L150.9,536.9M159.3,571.2L142.7,542.7M191.1,522.2L190.9,556.0M191.1,522.2L179.1,530.7M191.1,522.2L189.4,537.7M191.1,522.2L186.7,544.6M191.1,522.2L181.8,545.6M191.1,522.2L194.8,544.6M191.1,522.2L187.1,547.2M191.1,522.2L164.1,517.7M172.5,555.6L180.5,563.6M172.5,555.6L186.7,544.6M172.5,555.6L181.8,545.6M172.5,555.6L185.8,555.0M172.5,555.6L187.1,547.2M172.5,555.6L166.8,544.6M172.5,555.6L137.9,545.6M172.5,555.6L138.8,555.2M172.5,555.6L147.0,557.6M201.8,546.4L190.9,556.0M201.8,546.4L197.4,556.0M201.8,546.4L189.4,537.7M201.8,546.4L186.7,544.6M201.8,546.4L194.8,544.6M201.8,546.4L187.1,547.2M201.8,546.4L150.9,536.9M190.9,556.0L197.4,556.0M190.9,556.0L180.5,563.6M190.9,556.0L186.7,544.6M190.9,556.0L194.8,544.6M190.9,556.0L185.8,555.0M190.9,556.0L187.1,547.2M190.9,556.0L142.7,542.7M197.4,556.0L194.8,544.6M197.4,556.0L185.8,555.0M197.4,556.0L187.1,547.2M180.5,563.6L181.8,545.6M180.5,563.6L185.8,555.0M180.5,563.6L187.1,547.2M180.5,563.6L147.0,557.6M179.1,530.7L189.4,537.7M179.1,530.7L186.7,544.6M179.1,530.7L181.8,545.6M179.1,530.7L187.1,547.2M179.1,530.7L166.8,544.6M179.1,530.7L143.5,517.7M179.1,530.7L164.1,517.7M179.1,530.7L136.6,524.9M179.1,530.7L148.5,527.5M189.4,537.7L186.7,544.6M189.4,537.7L181.8,545.6M189.4,537.7L194.8,544.6M189.4,537.7L187.1,547.2M189.4,537.7L150.9,536.9M186.7,544.6L181.8,545.6M186.7,544.6L194.8,544.6M186.7,544.6L185.8,555.0M186.7,544.6L187.1,547.2M186.7,544.6L166.8,544.6M186.7,544.6L148.5,527.5M186.7,544.6L142.7,542.7M181.8,545.6L194.8,544.6M181.8,545.6L185.8,555.0M181.8,545.6L187.1,547.2M181.8,545.6L166.8,544.6M181.8,545.6L129.7,537.1M181.8,545.6L150.9,536.9M194.8,544.6L187.1,547.2M185.8,555.0L187.1,547.2M185.8,555.0L166.8,544.6M187.1,547.2L166.8,544.6M166.8,544.6L125.9,548.6M166.8,544.6L148.5,527.5M166.8,544.6L136.3,532.6M166.8,544.6L150.9,536.9M166.8,544.6L142.7,542.7M143.5,517.7L164.1,517.7M143.5,517.7L136.6,524.9M143.5,517.7L148.5,527.5M143.5,517.7L136.3,532.6M143.5,517.7L150.9,536.9M143.5,517.7L141.6,532.6M137.9,545.6L125.9,548.6M137.9,545.6L138.8,555.2M137.9,545.6L147.0,557.6M137.9,545.6L136.3,532.6M137.9,545.6L129.7,537.1M137.9,545.6L150.9,536.9M137.9,545.6L142.7,542.7M125.9,548.6L138.8,555.2M125.9,548.6L129.7,537.1M138.8,555.2L147.0,557.6M138.8,555.2L148.5,527.5M138.8,555.2L142.7,542.7M147.0,557.6L142.7,542.7M164.1,517.7L136.6,524.9M164.1,517.7L148.5,527.5M164.1,517.7L129.7,537.1M164.1,517.7L150.9,536.9M164.1,517.7L141.6,532.6M136.6,524.9L148.5,527.5M136.6,524.9L136.3,532.6M136.6,524.9L129.7,537.1M136.6,524.9L141.6,532.6M148.5,527.5L136.3,532.6M148.5,527.5L150.9,536.9M148.5,527.5L141.6,532.6M136.3,532.6L129.7,537.1M136.3,532.6L150.9,536.9M136.3,532.6L141.6,532.6M136.3,532.6L142.7,542.7M129.7,537.1L141.6,532.6M150.9,536.9L141.6,532.6M150.9,536.9L142.7,542.7M141.6,532.6L142.7,542.7" fill="none" stroke="#555555" stroke-width="0.25"/>
<circle cx="143.5" cy="517.7" r="1.00" fill="#dcdcdc"/>
<circle cx="164.1" cy="517.7" r="1.00" fill="#dcdcdc"/>
<circle cx="136.6" cy="524.9" r="1.00" fill="#dcdcdc"/>
<circle cx="148.5" cy="527.5" r="1.00" fill="#dcdcdc"/>
<circle cx="136.3" cy="532.6" r="1.00" fill="#dcdcdc"/>
<circle cx="129.7" cy="537.1" r="1.00" fill="#dcdcdc"/>
<circle cx="150.9" cy="536.9" r="1.00" fill="#dcdcdc"/>
<circle cx="141.6" cy="532.6" r="1.00" fill="#dcdcdc"/>
<circle cx="142.7" cy="542.7" r="1.00" fill="#dcdcdc"/>
<circle cx="137.9" cy="545.6" r="1.00" fill="#dcdcdc"/>
<circle cx="125.9" cy="548.6" r="1.00" fill="#dcdcdc"/>
<circle cx="138.8" cy="555.2" r="1.00" fill="#dcdcdc"/>
<circle cx="147.0" cy="557.6" r="1.00" fill="#dcdcdc"/>
<circle cx="191.1" cy="522.2" r="1.00" fill="#dcdcdc"/>
<circle cx="179.1" cy="530.7" r="1.00" fill="#dcdcdc"/>
<circle cx="189.4" cy="537.7" r="1.00" fill="#dcdcdc"/>
<circle cx="186.7" cy="544.6" r="1.00" fill="#dcdcdc"/>
<circle cx="181.8" cy="545.6" r="1.00" fill="#dcdcdc"/>
<circle cx="194.8" cy="544.6" r="1.00" fill="#dcdcdc"/>
<circle cx="185.8" cy="555.0" r="1.00" fill="#dcdcdc"/>
<circle cx="187.1" cy="547.2" r="1.00" fill="#dcdcdc"/>
<circle cx="166.8" cy="544.6" r="1.00" fill="#dcdcdc"/>
<circle cx="172.5" cy="555.6" r="1.00" fill="#dcdcdc"/>
<circle cx="201.8" cy="546.4" r="1.00" fill="#dcdcdc"/>
<circle cx="190.9" cy="556.0" r="1.00" fill="#dcdcdc"/>
<circle cx="197.4" cy="556.0" r="1.00" fill="#dcdcdc"/>
<circle cx="180.5" cy="563.6" r="1.00" fill="#dcdcdc"/>
<circle cx="125.0" cy="559.2" r="1.25" fill="#d77bb2"/>
<circle cx="132.3" cy="564.5" r="1.25" fill="#e87230"/>
<circle cx="137.6" cy="562.7" r="1.25" fill="#0d8c4c"/>
<circle cx="159.3" cy="571.2" r="1.25" fill="#d91f2d"/>
<circle cx="187.5" cy="565.9" r="1.25" fill="#0d6db5"/>
<path d="M271.8,565.9L243.6,571.2M271.8,565.9L256.8,555.6M271.8,565.9L275.2,556.0M271.8,565.9L281.7,556.0M271.8,565.9L264.8,563.6M271.8,565.9L270.1,555.0M271.8,565.9L271.4,547.2M221.9,562.7L216.6,564.5M221.9,562.7L209.3,559.2M221.9,562.7L243.6,571.2M221.9,562.7L222.2,545.6M221.9,562.7L223.1,555.2M221.9,562.7L231.3,557.6M216.6,564.5L209.3,559.2M216.6,564.5L243.6,571.2M216.6,564.5L210.2,548.6M216.6,564.5L223.1,555.2M216.6,564.5L231.3,557.6M216.6,564.5L225.9,532.6M209.3,559.2L243.6,571.2M209.3,559.2L222.2,545.6M209.3,559.2L210.2,548.6M209.3,559.2L223.1,555.2M243.6,571.2L256.8,555.6M243.6,571.2L264.8,563.6M243.6,571.2L251.1,544.6M243.6,571.2L227.8,517.7M243.6,571.2L223.1,555.2M243.6,571.2L231.3,557.6M243.6,571.2L235.2,536.9M243.6,571.2L227.0,542.7M275.4,522.2L275.2,556.0M275.4,522.2L263.4,530.7M275.4,522.2L273.7,537.7M275.4,522.2L271.0,544.6M275.4,522.2L266.1,545.6M275.4,522.2L279.1,544.6M275.4,522.2L271.4,547.2M275.4,522.2L248.4,517.7M256.8,555.6L264.8,563.6M256.8,555.6L271.0,544.6M256.8,555.6L266.1,545.6M256.8,555.6L270.1,555.0M256.8,555.6L271.4,547.2M256.8,555.6L251.1,544.6M256.8,555.6L222.2,545.6M256.8,555.6L223.1,555.2M256.8,555.6L231.3,557.6M286.1,546.4L275.2,556.0M286.1,546.4L281.7,556.0M286.1,546.4L273.7,537.7M286.1,546.4L271.0,544.6M286.1,546.4L279.1,544.6M286.1,546.4L271.4,547.2M286.1,546.4L235.2,536.9M275.2,556.0L281.7,556.0M275.2,556.0L264.8,563.6M275.2,556.0L271.0,544.6M275.2,556.0L279.1,544.6M275.2,556.0L270.1,555.0M275.2,556.0L271.4,547.2M275.2,556.0L227.0,542.7M281.7,556.0L279.1,544.6M281.7,556.0L270.1,555.0M281.7,556.0L271.4,547.2M264.8,563.6L266.1,545.6M264.8,563.6L270.1,555.0M264.8,563.6L271.4,547.2M264.8,563.6L231.3,557.6M263.4,530.7L273.7,537.7M263.4,530.7L271.0,544.6M263.4,530.7L266.1,545.6M263.4,530.7L271.4,547.2M263.4,530.7L251.1,544.6M263.4,530.7L227.8,517.7M263.4,530.7L248.4,517.7M263.4,530.7L220.9,524.9M263.4,530.7L232.8,527.5M273.7,537.7L271.0,544.6M273.7,537.7L266.1,545.6M273.7,537.7L279.1,544.6M273.7,537.7L271.4,547.2M273.7,537.7L235.2,536.9M271.0,544.6L266.1,545.6M271.0,544.6L279.1,544.6M271.0,544.6L270.1,555.0M271.0,544.6L271.4,547.2M271.0,544.6L251.1,544.6M271.0,544.6L232.8,527.5M271.0,544.6L227.0,542.7M266.1,545.6L279.1,544.6M266.1,545.6L270.1,555.0M266.1,545.6L271.4,547.2M266.1,545.6L251.1,544.6M266.1,545.6L214.0,537.1M266.1,545.6L235.2,536.9M279.1,544.6L271.4,547.2M270.1,555.0L271.4,547.2M270.1,555.0L251.1,544.6M271.4,547.2L251.1,544.6M251.1,544.6L210.2,548.6M251.1,544.6L232.8,527.5M251.1,544.6L220.6,532.6M251.1,544.6L235.2,536.9M251.1,544.6L227.0,542.7M227.8,517.7L248.4,517.7M227.8,517.7L220.9,524.9M227.8,517.7L232.8,527.5M227.8,517.7L220.6,532.6M227.8,517.7L235.2,536.9M227.8,517.7L225.9,532.6M222.2,545.6L210.2,548.6M222.2,545.6L223.1,555.2M222.2,545.6L231.3,557.6M222.2,545.6L220.6,532.6M222.2,545.6L214.0,537.1M222.2,545.6L235.2,536.9M222.2,545.6L227.0,542.7M210.2,548.6L223.1,555.2M210.2,548.6L214.0,537.1M223.1,555.2L231.3,557.6M223.1,555.2L232.8,527.5M223.1,555.2L227.0,542.7M231.3,557.6L227.0,542.7M248.4,517.7L220.9,524.9M248.4,517.7L232.8,527.5M248.4,517.7L214.0,537.1M248.4,517.7L235.2,536.9M248.4,517.7L225.9,532.6M220.9,524.9L232.8,527.5M220.9,524.9L220.6,532.6M220.9,524.9L214.0,537.1M220.9,524.9L225.9,532.6M232.8,527.5L220.6,532.6M232.8,527.5L235.2,536.9M232.8,527.5L225.9,532.6M220.6,532.6L214.0,537.1M220.6,532.6L235.2,536.9M220.6,532.6L225.9,532.6M220.6,532.6L227.0,542.7M214.0,537.1L225.9,532.6M235.2,536.9L225.9,532.6M235.2,536.9L227.0,542.7M225.9,532.6L227.0,542.7" fill="none" stroke="#555555" stroke-width="0.25"/>
<circle cx="227.8" cy="517.7" r="1.00" fill="#dcdcdc"/>
<circle cx="248.4" cy="517.7" r="1.00" fill="#dcdcdc"/>
<circle cx="220.9" cy="524.9" r="1.00" fill="#dcdcdc"/>
<circle cx="232.8" cy="527.5" r="1.00" fill="#dcdcdc"/>
<circle cx="220.6" cy="532.6" r="1.00" fill="#dcdcdc"/>
<circle cx="214.0" cy="537.1" r="1.00" fill="#dcdcdc"/>
<circle cx="235.2" cy="536.9" r="1.00" fill="#dcdcdc"/>
<circle cx="225.9" cy="532.6" r="1.00" fill="#dcdcdc"/>
<circle cx="227.0" cy="542.7" r="1.00" fill="#dcdcdc"/>
<circle cx="210.2" cy="548.6" r="1.00" fill="#dcdcdc"/>
<circle cx="223.1" cy="555.2" r="1.00" fill="#dcdcdc"/>
<circle cx="231.3" cy="557.6" r="1.00" fill="#dcdcdc"/>
<circle cx="275.4" cy="522.2" r="1.00" fill="#dcdcdc"/>
<circle cx="263.4" cy="530.7" r="1.00" fill="#dcdcdc"/>
<circle cx="273.7" cy="537.7" r="1.00" fill="#dcdcdc"/>
<circle cx="271.0" cy="544.6" r="1.00" fill="#dcdcdc"/>
<circle cx="266.1" cy="545.6" r="1.00" fill="#dcdcdc"/>
<circle cx="279.1" cy="544.6" r="1.00" fill="#dcdcdc"/>
<circle cx="270.1" cy="555.0" r="1.00" fill="#dcdcdc"/>
<circle cx="271.4" cy="547.2" r="1.00" fill="#dcdcdc"/>
<circle cx="251.1" cy="544.6" r="1.00" fill="#dcdcdc"/>
<circle cx="256.8" cy="555.6" r="1.00" fill="#dcdcdc"/>
<circle cx="275.2" cy="556.0" r="1.00" fill="#dcdcdc"/>
<circle cx="281.7" cy="556.0" r="1.00" fill="#dcdcdc"/>
<circle cx="264.8" cy="563.6" r="1.00" fill="#dcdcdc"/>
<circle cx="222.2" cy="545.6" r="1.25" fill="#58bdb5"/>
<circle cx="209.3" cy="559.2" r="1.25" fill="#d77bb2"/>
<circle cx="216.6" cy="564.5" r="1.25" fill="#e87230"/>
<circle cx="221.9" cy="562.7" r="1.25" fill="#0d8c4c"/>
<circle cx="243.6" cy="571.2" r="1.25" fill="#d91f2d"/>
<circle cx="286.1" cy="546.4" r="1.25" fill="#58bdb5"/>
<circle cx="271.8" cy="565.9" r="1.25" fill="#0d6db5"/>
<path d="M356.2,565.9L328.0,571.2M356.2,565.9L341.2,555.6M356.2,565.9L359.6,556.0M356.2,565.9L366.1,556.0M356.2,565.9L349.2,563.6M356.2,565.9L354.5,555.0M356.2,565.9L355.8,547.2M306.3,562.7L301.0,564.5M306.3,562.7L293.7,559.2M306.3,562.7L328.0,571.2M306.3,562.7L306.6,545.6M306.3,562.7L307.5,555.2M306.3,562.7L315.7,557.6M301.0,564.5L293.7,559.2M301.0,564.5L328.0,571.2M301.0,564.5L294.6,548.6M301.0,564.5L307.5,555.2M301.0,564.5L315.7,557.6M301.0,564.5L310.3,532.6M293.7,559.2L328.0,571.2M293.7,559.2L306.6,545.6M293.7,559.2L294.6,548.6M293.7,559.2L307.5,555.2M328.0,571.2L341.2,555.6M328.0,571.2L349.2,563.6M328.0,571.2L335.5,544.6M328.0,571.2L312.2,517.7M328.0,571.2L307.5,555.2M328.0,571.2L315.7,557.6M328.0,571.2L319.6,536.9M328.0,571.2L311.4,542.7M359.8,522.2L359.6,556.0M359.8,522.2L347.8,530.7M359.8,522.2L358.1,537.7M359.8,522.2L355.4,544.6M359.8,522.2L350.5,545.6M359.8,522.2L363.5,544.6M359.8,522.2L355.8,547.2M359.8,522.2L332.8,517.7M341.2,555.6L349.2,563.6M341.2,555.6L355.4,544.6M341.2,555.6L350.5,545.6M341.2,555.6L354.5,555.0M341.2,555.6L355.8,547.2M341.2,555.6L335.5,544.6M341.2,555.6L306.6,545.6M341.2,555.6L307.5,555.2M341.2,555.6L315.7,557.6M370.5,546.4L359.6,556.0M370.5,546.4L366.1,556.0M370.5,546.4L358.1,537.7M370.5,546.4L355.4,544.6M370.5,546.4L363.5,544.6M370.5,546.4L355.8,547.2M370.5,546.4L319.6,536.9M359.6,556.0L366.1,556.0M359.6,556.0L349.2,563.6M359.6,556.0L355.4,544.6M359.6,556.0L363.5,544.6M359.6,556.0L354.5,555.0M359.6,556.0L355.8,547.2M359.6,556.0L311.4,542.7M366.1,556.0L363.5,544.6M366.1,556.0L354.5,555.0M366.1,556.0L355.8,547.2M349.2,563.6L350.5,545.6M349.2,563.6L354.5,555.0M349.2,563.6L355.8,547.2M349.2,563.6L315.7,557.6M347.8,530.7L358.1,537.7M347.8,530.7L355.4,544.6M347.8,530.7L350.5,545.6M347.8,530.7L355.8,547.2M347.8,530.7L335.5,544.6M347.8,530.7L312.2,517.7M347.8,530.7L332.8,517.7M347.8,530.7L305.3,524.9M347.8,530.7L317.2,527.5M358.1,537.7L355.4,544.6M358.1,537.7L350.5,545.6M358.1,537.7L363.5,544.6M358.1,537.7L355.8,547.2M358.1,537.7L319.6,536.9M355.4,544.6L350.5,545.6M355.4,544.6L363.5,544.6M355.4,544.6L354.5,555.0M355.4,544.6L355.8,547.2M355.4,544.6L335.5,544.6M355.4,544.6L317.2,527.5M355.4,544.6L311.4,542.7M350.5,545.6L363.5,544.6M350.5,545.6L354.5,555.0M350.5,545.6L355.8,547.2M350.5,545.6L335.5,544.6M350.5,545.6L298.4,537.1M350.5,545.6L319.6,536.9M363.5,544.6L355.8,547.2M354.5,555.0L355.8,547.2M354.5,555.0L335.5,544.6M355.8,547.2L335.5,544.6M335.5,544.6L294.6,548.6M335.5,544.6L317.2,527.5M335.5,544.6L305.0,532.6M335.5,544.6L319.6,536.9M335.5,544.6L311.4,542.7M312.2,517.7L332.8,517.7M312.2,517.7L305.3,524.9M312.2,517.7L317.2,527.5M312.2,517.7L305.0,532.6M312.2,517.7L319.6,536.9M312.2,517.7L310.3,532.6M306.6,545.6L294.6,548.6M306.6,545.6L307.5,555.2M306.6,545.6L315.7,557.6M306.6,545.6L305.0,532.6M306.6,545.6L298.4,537.1M306.6,545.6L319.6,536.9M306.6,545.6L311.4,542.7M294.6,548.6L307.5,555.2M294.6,548.6L298.4,537.1M307.5,555.2L315.7,557.6M307.5,555.2L317.2,527.5M307.5,555.2L311.4,542.7M315.7,557.6L311.4,542.7M332.8,517.7L305.3,524.9M332.8,517.7L317.2,527.5M332.8,517.7L298.4,537.1M332.8,517.7L319.6,536.9M332.8,517.7L310.3,532.6M305.3,524.9L317.2,527.5M305.3,524.9L305.0,532.6M305.3,524.9L298.4,537.1M305.3,524.9L310.3,532.6M317.2,527.5L305.0,532.6M317.2,527.5L319.6,536.9M317.2,527.5L310.3,532.6M305.0,532.6L298.4,537.1M305.0,532.6L319.6,536.9M305.0,532.6L310.3,532.6M305.0,532.6L311.4,542.7M298.4,537.1L310.3,532.6M319.6,536.9L310.3,532.6M319.6,536.9L311.4,542.7M310.3,532.6L311.4,542.7" fill="none" stroke="#555555" stroke-width="0.25"/>
<circle cx="312.2" cy="517.7" r="1.00" fill="#dcdcdc"/>
<circle cx="332.8" cy="517.7" r="1.00" fill="#dcdcdc"/>
<circle cx="305.3" cy="524.9" r="1.00" fill="#dcdcdc"/>
<circle cx="317.2" cy="527.5" r="1.00" fill="#dcdcdc"/>
<circle cx="305.0" cy="532.6" r="1.00" fill="#dcdcdc"/>
<circle cx="298.4" cy="537.1" r="1.00" fill="#dcdcdc"/>
<circle cx="319.6" cy="536.9" r="1.00" fill="#dcdcdc"/>
<circle cx="310.3" cy="532.6" r="1.00" fill="#dcdcdc"/>
<circle cx="311.4" cy="542.7" r="1.00" fill="#dcdcdc"/>
<circle cx="307.5" cy="555.2" r="1.00" fill="#dcdcdc"/>
<circle cx="315.7" cy="557.6" r="1.00" fill="#dcdcdc"/>
<circle cx="359.8" cy="522.2" r="1.00" fill="#dcdcdc"/>
<circle cx="347.8" cy="530.7" r="1.00" fill="#dcdcdc"/>
<circle cx="358.1" cy="537.7" r="1.00" fill="#dcdcdc"/>
<circle cx="355.4" cy="544.6" r="1.00" fill="#dcdcdc"/>
<circle cx="350.5" cy="545.6" r="1.00" fill="#dcdcdc"/>
<circle cx="363.5" cy="544.6" r="1.00" fill="#dcdcdc"/>
<circle cx="354.5" cy="555.0" r="1.00" fill="#dcdcdc"/>
<circle cx="355.8" cy="547.2" r="1.00" fill="#dcdcdc"/>
<circle cx="335.5" cy="544.6" r="1.00" fill="#dcdcdc"/>
<circle cx="341.2" cy="555.6" r="1.00" fill="#dcdcdc"/>
<circle cx="366.1" cy="556.0" r="1.00" fill="#dcdcdc"/>
<circle cx="349.2" cy="563.6" r="1.00" fill="#dcdcdc"/>
<circle cx="306.6" cy="545.6" r="1.25" fill="#58bdb5"/>
<circle cx="294.6" cy="548.6" r="1.25" fill="#58bdb5"/>
<circle cx="293.7" cy="559.2" r="1.25" fill="#d77bb2"/>
<circle cx="301.0" cy="564.5" r="1.25" fill="#e87230"/>
<circle cx="306.3" cy="562.7" r="1.25" fill="#0d8c4c"/>
<circle cx="328.0" cy="571.2" r="1.25" fill="#d91f2d"/>
<circle cx="370.5" cy="546.4" r="1.25" fill="#58bdb5"/>
<circle cx="359.6" cy="556.0" r="1.25" fill="#58bdb5"/>
<circle cx="356.2" cy="565.9" r="1.25" fill="#0d6db5"/>
<path d="M67.5,643.2L39.3,648.5M67.5,643.2L52.5,632.9M67.5,643.2L70.9,633.3M67.5,643.2L77.4,633.3M67.5,643.2L60.5,640.9M67.5,643.2L65.8,632.3M67.5,643.2L67.1,624.5M17.6,640.0L12.3,641.8M17.6,640.0L5.0,636.5M17.6,640.0L39.3,648.5M17.6,640.0L17.9,622.9M17.6,640.0L18.8,632.5M17.6,640.0L27.0,634.9M12.3,641.8L5.0,636.5M12.3,641.8L39.3,648.5M12.3,641.8L5.9,625.9M12.3,641.8L18.8,632.5M12.3,641.8L27.0,634.9M12.3,641.8L21.6,609.9M5.0,636.5L39.3,648.5M5.0,636.5L17.9,622.9M5.0,636.5L5.9,625.9M5.0,636.5L18.8,632.5M39.3,648.5L52.5,632.9M39.3,648.5L60.5,640.9M39.3,648.5L46.8,621.9M39.3,648.5L23.5,595.0M39.3,648.5L18.8,632.5M39.3,648.5L27.0,634.9M39.3,648.5L30.9,614.2M39.3,648.5L22.7,620.0M71.1,599.5L70.9,633.3M71.1,599.5L59.1,608.0M71.1,599.5L69.4,615.0M71.1,599.5L66.7,621.9M71.1,599.5L61.8,622.9M71.1,599.5L74.8,621.9M71.1,599.5L67.1,624.5M71.1,599.5L44.1,595.0M52.5,632.9L60.5,640.9M52.5,632.9L66.7,621.9M52.5,632.9L61.8,622.9M52.5,632.9L65.8,632.3M52.5,632.9L67.1,624.5M52.5,632.9L46.8,621.9M52.5,632.9L17.9,622.9M52.5,632.9L18.8,632.5M52.5,632.9L27.0,634.9M81.8,623.7L70.9,633.3M81.8,623.7L77.4,633.3M81.8,623.7L69.4,615.0M81.8,623.7L66.7,621.9M81.8,623.7L74.8,621.9M81.8,623.7L67.1,624.5M81.8,623.7L30.9,614.2M70.9,633.3L77.4,633.3M70.9,633.3L60.5,640.9M70.9,633.3L66.7,621.9M70.9,633.3L74.8,621.9M70.9,633.3L65.8,632.3M70.9,633.3L67.1,624.5M70.9,633.3L22.7,620.0M77.4,633.3L74.8,621.9M77.4,633.3L65.8,632.3M77.4,633.3L67.1,624.5M60.5,640.9L61.8,622.9M60.5,640.9L65.8,632.3M60.5,640.9L67.1,624.5M60.5,640.9L27.0,634.9M59.1,608.0L69.4,615.0M59.1,608.0L66.7,621.9M59.1,608.0L61.8,622.9M59.1,608.0L67.1,624.5M59.1,608.0L46.8,621.9M59.1,608.0L23.5,595.0M59.1,608.0L44.1,595.0M59.1,608.0L16.6,602.2M59.1,608.0L28.5,604.8M69.4,615.0L66.7,621.9M69.4,615.0L61.8,622.9M69.4,615.0L74.8,621.9M69.4,615.0L67.1,624.5M69.4,615.0L30.9,614.2M66.7,621.9L61.8,622.9M66.7,621.9L74.8,621.9M66.7,621.9L65.8,632.3M66.7,621.9L67.1,624.5M66.7,621.9L46.8,621.9M66.7,621.9L28.5,604.8M66.7,621.9L22.7,620.0M61.8,622.9L74.8,621.9M61.8,622.9L65.8,632.3M61.8,622.9L67.1,624.5M61.8,622.9L46.8,621.9M61.8,622.9L9.7,614.4M61.8,622.9L30.9,614.2M74.8,621.9L67.1,624.5M65.8,632.3L67.1,624.5M65.8,632.3L46.8,621.9M67.1,624.5L46.8,621.9M46.8,621.9L5.9,625.9M46.8,621.9L28.5,604.8M46.8,621.9L16.3,609.9M46.8,621.9L30.9,614.2M46.8,621.9L22.7,620.0M23.5,595.0L44.1,595.0M23.5,595.0L16.6,602.2M23.5,595.0L28.5,604.8M23.5,595.0L16.3,609.9M23.5,595.0L30.9,614.2M23.5,595.0L21.6,609.9M17.9,622.9L5.9,625.9M17.9,622.9L18.8,632.5M17.9,622.9L27.0,634.9M17.9,622.9L16.3,609.9M17.9,622.9L9.7,614.4M17.9,622.9L30.9,614.2M17.9,622.9L22.7,620.0M5.9,625.9L18.8,632.5M5.9,625.9L9.7,614.4M18.8,632.5L27.0,634.9M18.8,632.5L28.5,604.8M18.8,632.5L22.7,620.0M27.0,634.9L22.7,620.0M44.1,595.0L16.6,602.2M44.1,595.0L28.5,604.8M44.1,595.0L9.7,614.4M44.1,595.0L30.9,614.2M44.1,595.0L21.6,609.9M16.6,602.2L28.5,604.8M16.6,602.2L16.3,609.9M16.6,602.2L9.7,614.4M16.6,602.2L21.6,609.9M28.5,604.8L16.3,609.9M28.5,604.8L30.9,614.2M28.5,604.8L21.6,609.9M16.3,609.9L9.7,614.4M16.3,609.9L30.9,614.2M16.3,609.9L21.6,609.9M16.3,609.9L22.7,620.0M9.7,614.4L21.6,609.9M30.9,614.2L21.6,609.9M30.9,614.2L22.7,620.0M21.6,609.9L22.7,620.0" fill="none" stroke="#555555" stroke-width="0.25"/>
<circle cx="23.5" cy="595.0" r="1.00" fill="#dcdcdc"/>
<circle cx="44.1" cy="595.0" r="1.00" fill="#dcdcdc"/>
<circle cx="16.6" cy="602.2" r="1.00" fill="#dcdcdc"/>
<circle cx="16.3" cy="609.9" r="1.00" fill="#dcdcdc"/>
<circle cx="9.7" cy="614.4" r="1.00" fill="#dcdcdc"/>
<circle cx="30.9" cy="614.2" r="1.00" fill="#dcdcdc"/>
<circle cx="22.7" cy="620.0" r="1.00" fill="#dcdcdc"/>
<circle cx="17.9" cy="622.9" r="1.00" fill="#dcdcdc"/>
<circle cx="5.9" cy="625.9" r="1.00" fill="#dcdcdc"/>
<circle cx="18.8" cy="632.5" r="1.00" fill="#dcdcdc"/>
<circle cx="27.0" cy="634.9" r="1.00" fill="#dcdcdc"/>
<circle cx="71.1" cy="599.5" r="1.00" fill="#dcdcdc"/>
<circle cx="59.1" cy="608.0" r="1.00" fill="#dcdcdc"/>
<circle cx="66.7" cy="621.9" r="1.00" fill="#dcdcdc"/>
<circle cx="61.8" cy="622.9" r="1.00" fill="#dcdcdc"/>
<circle cx="65.8" cy="632.3" r="1.00" fill="#dcdcdc"/>
<circle cx="67.1" cy="624.5" r="1.00" fill="#dcdcdc"/>
<circle cx="52.5" cy="632.9" r="1.00" fill="#dcdcdc"/>
<circle cx="81.8" cy="623.7" r="1.00" fill="#dcdcdc"/>
<circle cx="70.9" cy="633.3" r="1.00" fill="#dcdcdc"/>
<circle cx="77.4" cy="633.3" r="1.00" fill="#dcdcdc"/>
<circle cx="60.5" cy="640.9" r="1.00" fill="#dcdcdc"/>
<circle cx="28.5" cy="604.8" r="1.25" fill="#8a8a8e"/>
<circle cx="21.6" cy="609.9" r="1.25" fill="#58bdb5"/>
<circle cx="5.0" cy="636.5" r="1.25" fill="#d77bb2"/>
<circle cx="12.3" cy="641.8" r="1.25" fill="#e87230"/>
<circle cx="17.6" cy="640.0" r="1.25" fill="#0d8c4c"/>
<circle cx="39.3" cy="648.5" r="1.25" fill="#d91f2d"/>
<circle cx="69.4" cy="615.0" r="1.25" fill="#8a8a8e"/>
<circle cx="74.8" cy="621.9" r="1.25" fill="#8a8a8e"/>
<circle cx="46.8" cy="621.9" r="1.25" fill="#58bdb5"/>
<circle cx="67.5" cy="643.2" r="1.25" fill="#0d6db5"/>
<path d="M151.9,643.2L123.7,648.5M151.9,643.2L136.9,632.9M151.9,643.2L155.3,633.3M151.9,643.2L161.8,633.3M151.9,643.2L144.9,640.9M151.9,643.2L150.2,632.3M151.9,643.2L151.5,624.5M102.0,640.0L96.7,641.8M102.0,640.0L89.4,636.5M102.0,640.0L123.7,648.5M102.0,640.0L102.3,622.9M102.0,640.0L103.2,632.5M102.0,640.0L111.4,634.9M96.7,641.8L89.4,636.5M96.7,641.8L123.7,648.5M96.7,641.8L90.3,625.9M96.7,641.8L103.2,632.5M96.7,641.8L111.4,634.9M96.7,641.8L106.0,609.9M89.4,636.5L123.7,648.5M89.4,636.5L102.3,622.9M89.4,636.5L90.3,625.9M89.4,636.5L103.2,632.5M123.7,648.5L136.9,632.9M123.7,648.5L144.9,640.9M123.7,648.5L131.2,621.9M123.7,648.5L107.9,595.0M123.7,648.5L103.2,632.5M123.7,648.5L111.4,634.9M123.7,648.5L115.3,614.2M123.7,648.5L107.1,620.0M155.5,599.5L155.3,633.3M155.5,599.5L143.5,608.0M155.5,599.5L153.8,615.0M155.5,599.5L151.1,621.9M155.5,599.5L146.2,622.9M155.5,599.5L159.2,621.9M155.5,599.5L151.5,624.5M155.5,599.5L128.5,595.0M136.9,632.9L144.9,640.9M136.9,632.9L151.1,621.9M136.9,632.9L146.2,622.9M136.9,632.9L150.2,632.3M136.9,632.9L151.5,624.5M136.9,632.9L131.2,621.9M136.9,632.9L102.3,622.9M136.9,632.9L103.2,632.5M136.9,632.9L111.4,634.9M166.2,623.7L155.3,633.3M166.2,623.7L161.8,633.3M166.2,623.7L153.8,615.0M166.2,623.7L151.1,621.9M166.2,623.7L159.2,621.9M166.2,623.7L151.5,624.5M166.2,623.7L115.3,614.2M155.3,633.3L161.8,633.3M155.3,633.3L144.9,640.9M155.3,633.3L151.1,621.9M155.3,633.3L159.2,621.9M155.3,633.3L150.2,632.3M155.3,633.3L151.5,624.5M155.3,633.3L107.1,620.0M161.8,633.3L159.2,621.9M161.8,633.3L150.2,632.3M161.8,633.3L151.5,624.5M144.9,640.9L146.2,622.9M144.9,640.9L150.2,632.3M144.9,640.9L151.5,624.5M144.9,640.9L111.4,634.9M143.5,608.0L153.8,615.0M143.5,608.0L151.1,621.9M143.5,608.0L146.2,622.9M143.5,608.0L151.5,624.5M143.5,608.0L131.2,621.9M143.5,608.0L107.9,595.0M143.5,608.0L128.5,595.0M143.5,608.0L101.0,602.2M143.5,608.0L112.9,604.8M153.8,615.0L151.1,621.9M153.8,615.0L146.2,622.9M153.8,615.0L159.2,621.9M153.8,615.0L151.5,624.5M153.8,615.0L115.3,614.2M151.1,621.9L146.2,622.9M151.1,621.9L159.2,621.9M151.1,621.9L150.2,632.3M151.1,621.9L151.5,624.5M151.1,621.9L131.2,621.9M151.1,621.9L112.9,604.8M151.1,621.9L107.1,620.0M146.2,622.9L159.2,621.9M146.2,622.9L150.2,632.3M146.2,622.9L151.5,624.5M146.2,622.9L131.2,621.9M146.2,622.9L94.1,614.4M146.2,622.9L115.3,614.2M159.2,621.9L151.5,624.5M150.2,632.3L151.5,624.5M150.2,632.3L131.2,621.9M151.5,624.5L131.2,621.9M131.2,621.9L90.3,625.9M131.2,621.9L112.9,604.8M131.2,621.9L100.7,609.9M131.2,621.9L115.3,614.2M131.2,621.9L107.1,620.0M107.9,595.0L128.5,595.0M107.9,595.0L101.0,602.2M107.9,595.0L112.9,604.8M107.9,595.0L100.7,609.9M107.9,595.0L115.3,614.2M107.9,595.0L106.0,609.9M102.3,622.9L90.3,625.9M102.3,622.9L103.2,632.5M102.3,622.9L111.4,634.9M102.3,622.9L100.7,609.9M102.3,622.9L94.1,614.4M102.3,622.9L115.3,614.2M102.3,622.9L107.1,620.0M90.3,625.9L103.2,632.5M90.3,625.9L94.1,614.4M103.2,632.5L111.4,634.9M103.2,632.5L112.9,604.8M103.2,632.5L107.1,620.0M111.4,634.9L107.1,620.0M128.5,595.0L101.0,602.2M128.5,595.0L112.9,604.8M128.5,595.0L94.1,614.4M128.5,595.0L115.3,614.2M128.5,595.0L106.0,609.9M101.0,602.2L112.9,604.8M101.0,602.2L100.7,609.9M101.0,602.2L94.1,614.4M101.0,602.2L106.0,609.9M112.9,604.8L100.7,609.9M112.9,604.8L115.3,614.2M112.9,604.8L106.0,609.9M100.7,609.9L94.1,614.4M100.7,609.9L115.3,614.2M100.7,609.9L106.0,609.9M100.7,609.9L107.1,620.0M94.1,614.4L106.0,609.9M115.3,614.2L106.0,609.9M115.3,614.2L107.1,620.0M106.0,609.9L107.1,620.0" fill="none" stroke="#555555" stroke-width="0.25"/>
<circle cx="107.9" cy="595.0" r="1.00" fill="#dcdcdc"/>
<circle cx="101.0" cy="602.2" r="1.00" fill="#dcdcdc"/>
<circle cx="112.9" cy="604.8" r="1.00" fill="#dcdcdc"/>
<circle cx="100.7" cy="609.9" r="1.00" fill="#dcdcdc"/>
<circle cx="94.1" cy="614.4" r="1.00" fill="#dcdcdc"/>
<circle cx="115.3" cy="614.2" r="1.00" fill="#dcdcdc"/>
<circle cx="106.0" cy="609.9" r="1.00" fill="#dcdcdc"/>
<circle cx="102.3" cy="622.9" r="1.00" fill="#dcdcdc"/>
<circle cx="90.3" cy="625.9" r="1.00" fill="#dcdcdc"/>
<circle cx="103.2" cy="632.5" r="1.00" fill="#dcdcdc"/>
<circle cx="111.4" cy="634.9" r="1.00" fill="#dcdcdc"/>
<circle cx="143.5" cy="608.0" r="1.00" fill="#dcdcdc"/>
<circle cx="153.8" cy="615.0" r="1.00" fill="#dcdcdc"/>
<circle cx="151.1" cy="621.9" r="1.00" fill="#dcdcdc"/>
<circle cx="146.2" cy="622.9" r="1.00" fill="#dcdcdc"/>
<circle cx="159.2" cy="621.9" r="1.00" fill="#dcdcdc"/>
<circle cx="150.2" cy="632.3" r="1.00" fill="#dcdcdc"/>
<circle cx="151.5" cy="624.5" r="1.00" fill="#dcdcdc"/>
<circle cx="131.2" cy="621.9" r="1.00" fill="#dcdcdc"/>
<circle cx="136.9" cy="632.9" r="1.00" fill="#dcdcdc"/>
<circle cx="155.3" cy="633.3" r="1.00" fill="#dcdcdc"/>
<circle cx="161.8" cy="633.3" r="1.00" fill="#dcdcdc"/>
<circle cx="144.9" cy="640.9" r="1.00" fill="#dcdcdc"/>
<circle cx="128.5" cy="595.0" r="1.25" fill="#7f8085"/>
<circle cx="107.1" cy="620.0" r="1.25" fill="#58bdb5"/>
<circle cx="89.4" cy="636.5" r="1.25" fill="#d77bb2"/>
<circle cx="96.7" cy="641.8" r="1.25" fill="#e87230"/>
<circle cx="102.0" cy="640.0" r="1.25" fill="#0d8c4c"/>
<circle cx="123.7" cy="648.5" r="1.25" fill="#d91f2d"/>
<circle cx="155.5" cy="599.5" r="1.25" fill="#7f8085"/>
<circle cx="166.2" cy="623.7" r="1.25" fill="#58bdb5"/>
<circle cx="151.9" cy="643.2" r="1.25" fill="#0d6db5"/>
<path d="M236.3,643.2L208.1,648.5M236.3,643.2L221.3,632.9M236.3,643.2L239.7,633.3M236.3,643.2L246.2,633.3M236.3,643.2L229.3,640.9M236.3,643.2L234.6,632.3M236.3,643.2L235.9,624.5M186.4,640.0L181.1,641.8M186.4,640.0L173.8,636.5M186.4,640.0L208.1,648.5M186.4,640.0L186.7,622.9M186.4,640.0L187.6,632.5M186.4,640.0L195.8,634.9M181.1,641.8L173.8,636.5M181.1,641.8L208.1,648.5M181.1,641.8L174.7,625.9M181.1,641.8L187.6,632.5M181.1,641.8L195.8,634.9M181.1,641.8L190.4,609.9M173.8,636.5L208.1,648.5M173.8,636.5L186.7,622.9M173.8,636.5L174.7,625.9M173.8,636.5L187.6,632.5M208.1,648.5L221.3,632.9M208.1,648.5L229.3,640.9M208.1,648.5L215.6,621.9M208.1,648.5L192.3,595.0M208.1,648.5L187.6,632.5M208.1,648.5L195.8,634.9M208.1,648.5L199.7,614.2M208.1,648.5L191.5,620.0M239.9,599.5L239.7,633.3M239.9,599.5L227.9,608.0M239.9,599.5L238.2,615.0M239.9,599.5L235.5,621.9M239.9,599.5L230.6,622.9M239.9,599.5L243.6,621.9M239.9,599.5L235.9,624.5M239.9,599.5L212.9,595.0M221.3,632.9L229.3,640.9M221.3,632.9L235.5,621.9M221.3,632.9L230.6,622.9M221.3,632.9L234.6,632.3M221.3,632.9L235.9,624.5M221.3,632.9L215.6,621.9M221.3,632.9L186.7,622.9M221.3,632.9L187.6,632.5M221.3,632.9L195.8,634.9M250.6,623.7L239.7,633.3M250.6,623.7L246.2,633.3M250.6,623.7L238.2,615.0M250.6,623.7L235.5,621.9M250.6,623.7L243.6,621.9M250.6,623.7L235.9,624.5M250.6,623.7L199.7,614.2M239.7,633.3L246.2,633.3M239.7,633.3L229.3,640.9M239.7,633.3L235.5,621.9M239.7,633.3L243.6,621.9M239.7,633.3L234.6,632.3M239.7,633.3L235.9,624.5M239.7,633.3L191.5,620.0M246.2,633.3L243.6,621.9M246.2,633.3L234.6,632.3M246.2,633.3L235.9,624.5M229.3,640.9L230.6,622.9M229.3,640.9L234.6,632.3M229.3,640.9L235.9,624.5M229.3,640.9L195.8,634.9M227.9,608.0L238.2,615.0M227.9,608.0L235.5,621.9M227.9,608.0L230.6,622.9M227.9,608.0L235.9,624.5M227.9,608.0L215.6,621.9M227.9,608.0L192.3,595.0M227.9,608.0L212.9,595.0M227.9,608.0L185.4,602.2M227.9,608.0L197.3,604.8M238.2,615.0L235.5,621.9M238.2,615.0L230.6,622.9M238.2,615.0L243.6,621.9M238.2,615.0L235.9,624.5M238.2,615.0L199.7,614.2M235.5,621.9L230.6,622.9M235.5,621.9L243.6,621.9M235.5,621.9L234.6,632.3M235.5,621.9L235.9,624.5M235.5,621.9L215.6,621.9M235.5,621.9L197.3,604.8M235.5,621.9L191.5,620.0M230.6,622.9L243.6,621.9M230.6,622.9L234.6,632.3M230.6,622.9L235.9,624.5M230.6,622.9L215.6,621.9M230.6,622.9L178.5,614.4M230.6,622.9L199.7,614.2M243.6,621.9L235.9,624.5M234.6,632.3L235.9,624.5M234.6,632.3L215.6,621.9M235.9,624.5L215.6,621.9M215.6,621.9L174.7,625.9M215.6,621.9L197.3,604.8M215.6,621.9L185.1,609.9M215.6,621.9L199.7,614.2M215.6,621.9L191.5,620.0M192.3,595.0L212.9,595.0M192.3,595.0L185.4,602.2M192.3,595.0L197.3,604.8M192.3,595.0L185.1,609.9M192.3,595.0L199.7,614.2M192.3,595.0L190.4,609.9M186.7,622.9L174.7,625.9M186.7,622.9L187.6,632.5M186.7,622.9L195.8,634.9M186.7,622.9L185.1,609.9M186.7,622.9L178.5,614.4M186.7,622.9L199.7,614.2M186.7,622.9L191.5,620.0M174.7,625.9L187.6,632.5M174.7,625.9L178.5,614.4M187.6,632.5L195.8,634.9M187.6,632.5L197.3,604.8M187.6,632.5L191.5,620.0M195.8,634.9L191.5,620.0M212.9,595.0L185.4,602.2M212.9,595.0L197.3,604.8M212.9,595.0L178.5,614.4M212.9,595.0L199.7,614.2M212.9,595.0L190.4,609.9M185.4,602.2L197.3,604.8M185.4,602.2L185.1,609.9M185.4,602.2L178.5,614.4M185.4,602.2L190.4,609.9M197.3,604.8L185.1,609.9M197.3,604.8L199.7,614.2M197.3,604.8L190.4,609.9M185.1,609.9L178.5,614.4M185.1,609.9L199.7,614.2M185.1,609.9L190.4,609.9M185.1,609.9L191.5,620.0M178.5,614.4L190.4,609.9M199.7,614.2L190.4,609.9M199.7,614.2L191.5,620.0M190.4,609.9L191.5,620.0" fill="none" stroke="#555555" stroke-width="0.25"/>
<circle cx="212.9" cy="595.0" r="1.00" fill="#dcdcdc"/>
<circle cx="197.3" cy="604.8" r="1.00" fill="#dcdcdc"/>
<circle cx="185.1" cy="609.9" r="1.00" fill="#dcdcdc"/>
<circle cx="178.5" cy="614.4" r="1.00" fill="#dcdcdc"/>
<circle cx="199.7" cy="614.2" r="1.00" fill="#dcdcdc"/>
<circle cx="186.7" cy="622.9" r="1.00" fill="#dcdcdc"/>
<circle cx="174.7" cy="625.9" r="1.00" fill="#dcdcdc"/>
<circle cx="187.6" cy="632.5" r="1.00" fill="#dcdcdc"/>
<circle cx="195.8" cy="634.9" r="1.00" fill="#dcdcdc"/>
<circle cx="239.9" cy="599.5" r="1.00" fill="#dcdcdc"/>
<circle cx="227.9" cy="608.0" r="1.00" fill="#dcdcdc"/>
<circle cx="238.2" cy="615.0" r="1.00" fill="#dcdcdc"/>
<circle cx="235.5" cy="621.9" r="1.00" fill="#dcdcdc"/>
<circle cx="230.6" cy="622.9" r="1.00" fill="#dcdcdc"/>
<circle cx="243.6" cy="621.9" r="1.00" fill="#dcdcdc"/>
<circle cx="234.6" cy="632.3" r="1.00" fill="#dcdcdc"/>
<circle cx="235.9" cy="624.5" r="1.00" fill="#dcdcdc"/>
<circle cx="215.6" cy="621.9" r="1.00" fill="#dcdcdc"/>
<circle cx="221.3" cy="632.9" r="1.00" fill="#dcdcdc"/>
<circle cx="250.6" cy="623.7" r="1.00" fill="#dcdcdc"/>
<circle cx="239.7" cy="633.3" r="1.00" fill="#dcdcdc"/>
<circle cx="229.3" cy="640.9" r="1.00" fill="#dcdcdc"/>
<circle cx="192.3" cy="595.0" r="1.25" fill="#8a8a8e"/>
<circle cx="185.4" cy="602.2" r="1.25" fill="#8a8a8e"/>
<circle cx="190.4" cy="609.9" r="1.25" fill="#58bdb5"/>
<circle cx="191.5" cy="620.0" r="1.25" fill="#58bdb5"/>
<circle cx="173.8" cy="636.5" r="1.25" fill="#d77bb2"/>
<circle cx="181.1" cy="641.8" r="1.25" fill="#e87230"/>
<circle cx="186.4" cy="640.0" r="1.25" fill="#0d8c4c"/>
<circle cx="208.1" cy="648.5" r="1.25" fill="#d91f2d"/>
<circle cx="246.2" cy="633.3" r="1.25" fill="#58bdb5"/>
<circle cx="236.3" cy="643.2" r="1.25" fill="#0d6db5"/>
<path d="M320.7,643.2L292.5,648.5M320.7,643.2L305.7,632.9M320.7,643.2L324.1,633.3M320.7,643.2L330.6,633.3M320.7,643.2L313.7,640.9M320.7,643.2L319.0,632.3M320.7,643.2L320.3,624.5M270.8,640.0L265.5,641.8M270.8,640.0L258.2,636.5M270.8,640.0L292.5,648.5M270.8,640.0L271.1,622.9M270.8,640.0L272.0,632.5M270.8,640.0L280.2,634.9M265.5,641.8L258.2,636.5M265.5,641.8L292.5,648.5M265.5,641.8L259.1,625.9M265.5,641.8L272.0,632.5M265.5,641.8L280.2,634.9M265.5,641.8L274.8,609.9M258.2,636.5L292.5,648.5M258.2,636.5L271.1,622.9M258.2,636.5L259.1,625.9M258.2,636.5L272.0,632.5M292.5,648.5L305.7,632.9M292.5,648.5L313.7,640.9M292.5,648.5L300.0,621.9M292.5,648.5L276.7,595.0M292.5,648.5L272.0,632.5M292.5,648.5L280.2,634.9M292.5,648.5L284.1,614.2M292.5,648.5L275.9,620.0M324.3,599.5L324.1,633.3M324.3,599.5L312.3,608.0M324.3,599.5L322.6,615.0M324.3,599.5L319.9,621.9M324.3,599.5L315.0,622.9M324.3,599.5L328.0,621.9M324.3,599.5L320.3,624.5M324.3,599.5L297.3,595.0M305.7,632.9L313.7,640.9M305.7,632.9L319.9,621.9M305.7,632.9L315.0,622.9M305.7,632.9L319.0,632.3M305.7,632.9L320.3,624.5M305.7,632.9L300.0,621.9M305.7,632.9L271.1,622.9M305.7,632.9L272.0,632.5M305.7,632.9L280.2,634.9M335.0,623.7L324.1,633.3M335.0,623.7L330.6,633.3M335.0,623.7L322.6,615.0M335.0,623.7L319.9,621.9M335.0,623.7L328.0,621.9M335.0,623.7L320.3,624.5M335.0,623.7L284.1,614.2M324.1,633.3L330.6,633.3M324.1,633.3L313.7,640.9M324.1,633.3L319.9,621.9M324.1,633.3L328.0,621.9M324.1,633.3L319.0,632.3M324.1,633.3L320.3,624.5M324.1,633.3L275.9,620.0M330.6,633.3L328.0,621.9M330.6,633.3L319.0,632.3M330.6,633.3L320.3,624.5M313.7,640.9L315.0,622.9M313.7,640.9L319.0,632.3M313.7,640.9L320.3,624.5M313.7,640.9L280.2,634.9M312.3,608.0L322.6,615.0M312.3,608.0L319.9,621.9M312.3,608.0L315.0,622.9M312.3,608.0L320.3,624.5M312.3,608.0L300.0,621.9M312.3,608.0L276.7,595.0M312.3,608.0L297.3,595.0M312.3,608.0L269.8,602.2M312.3,608.0L281.7,604.8M322.6,615.0L319.9,621.9M322.6,615.0L315.0,622.9M322.6,615.0L328.0,621.9M322.6,615.0L320.3,624.5M322.6,615.0L284.1,614.2M319.9,621.9L315.0,622.9M319.9,621.9L328.0,621.9M319.9,621.9L319.0,632.3M319.9,621.9L320.3,624.5M319.9,621.9L300.0,621.9M319.9,621.9L281.7,604.8M319.9,621.9L275.9,620.0M315.0,622.9L328.0,621.9M315.0,622.9L319.0,632.3M315.0,622.9L320.3,624.5M315.0,622.9L300.0,621.9M315.0,622.9L262.9,614.4M315.0,622.9L284.1,614.2M328.0,621.9L320.3,624.5M319.0,632.3L320.3,624.5M319.0,632.3L300.0,621.9M320.3,624.5L300.0,621.9M300.0,621.9L259.1,625.9M300.0,621.9L281.7,604.8M300.0,621.9L269.5,609.9M300.0,621.9L284.1,614.2M300.0,621.9L275.9,620.0M276.7,595.0L297.3,595.0M276.7,595.0L269.8,602.2M276.7,595.0L281.7,604.8M276.7,595.0L269.5,609.9M276.7,595.0L284.1,614.2M276.7,595.0L274.8,609.9M271.1,622.9L259.1,625.9M271.1,622.9L272.0,632.5M271.1,622.9L280.2,634.9M271.1,622.9L269.5,609.9M271.1,622.9L262.9,614.4M271.1,622.9L284.1,614.2M271.1,622.9L275.9,620.0M259.1,625.9L272.0,632.5M259.1,625.9L262.9,614.4M272.0,632.5L280.2,634.9M272.0,632.5L281.7,604.8M272.0,632.5L275.9,620.0M280.2,634.9L275.9,620.0M297.3,595.0L269.8,602.2M297.3,595.0L281.7,604.8M297.3,595.0L262.9,614.4M297.3,595.0L284.1,614.2M297.3,595.0L274.8,609.9M269.8,602.2L281.7,604.8M269.8,602.2L269.5,609.9M269.8,602.2L262.9,614.4M269.8,602.2L274.8,609.9M281.7,604.8L269.5,609.9M281.7,604.8L284.1,614.2M281.7,604.8L274.8,609.9M269.5,609.9L262.9,614.4M269.5,609.9L284.1,614.2M269.5,609.9L274.8,609.9M269.5,609.9L275.9,620.0M262.9,614.4L274.8,609.9M284.1,614.2L274.8,609.9M284.1,614.2L275.9,620.0M274.8,609.9L275.9,620.0" fill="none" stroke="#555555" stroke-width="0.25"/>
<circle cx="297.3" cy="595.0" r="1.00" fill="#dcdcdc"/>
<circle cx="269.5" cy="609.9" r="1.00" fill="#dcdcdc"/>
<circle cx="262.9" cy="614.4" r="1.00" fill="#dcdcdc"/>
<circle cx="284.1" cy="614.2" r="1.00" fill="#dcdcdc"/>
<circle cx="274.8" cy="609.9" r="1.00" fill="#dcdcdc"/>
<circle cx="271.1" cy="622.9" r="1.00" fill="#dcdcdc"/>
<circle cx="259.1" cy="625.9" r="1.00" fill="#dcdcdc"/>
<circle cx="272.0" cy="632.5" r="1.00" fill="#dcdcdc"/>
<circle cx="280.2" cy="634.9" r="1.00" fill="#dcdcdc"/>
<circle cx="324.3" cy="599.5" r="1.00" fill="#dcdcdc"/>
<circle cx="312.3" cy="608.0" r="1.00" fill="#dcdcdc"/>
<circle cx="322.6" cy="615.0" r="1.00" fill="#dcdcdc"/>
<circle cx="319.9" cy="621.9" r="1.00" fill="#dcdcdc"/>
<circle cx="315.0" cy="622.9" r="1.00" fill="#dcdcdc"/>
<circle cx="328.0" cy="621.9" r="1.00" fill="#dcdcdc"/>
<circle cx="319.0" cy="632.3" r="1.00" fill="#dcdcdc"/>
<circle cx="320.3" cy="624.5" r="1.00" fill="#dcdcdc"/>
<circle cx="300.0" cy="621.9" r="1.00" fill="#dcdcdc"/>
<circle cx="335.0" cy="623.7" r="1.00" fill="#dcdcdc"/>
<circle cx="324.1" cy="633.3" r="1.00" fill="#dcdcdc"/>
<circle cx="330.6" cy="633.3" r="1.00" fill="#dcdcdc"/>
<circle cx="313.7" cy="640.9" r="1.00" fill="#dcdcdc"/>
<circle cx="276.7" cy="595.0" r="1.25" fill="#7f8085"/>
<circle cx="269.8" cy="602.2" r="1.25" fill="#7f8085"/>
<circle cx="281.7" cy="604.8" r="1.25" fill="#8a8a8e"/>
<circle cx="275.9" cy="620.0" r="1.25" fill="#58bdb5"/>
<circle cx="258.2" cy="636.5" r="1.25" fill="#d77bb2"/>
<circle cx="265.5" cy="641.8" r="1.25" fill="#e87230"/>
<circle cx="270.8" cy="640.0" r="1.25" fill="#0d8c4c"/>
<circle cx="292.5" cy="648.5" r="1.25" fill="#d91f2d"/>
<circle cx="305.7" cy="632.9" r="1.25" fill="#58bdb5"/>
<circle cx="320.7" cy="643.2" r="1.25" fill="#0d6db5"/>
</svg>
<div class="t" style="left:-0.30px;top:5.30px;font-size:12.3px;color:#000;transform:translate(0,calc(-50% + 0.09em));font-weight:bold;">a</div>
<div class="t" style="left:180.50px;top:5.00px;font-size:12.3px;color:#000;transform:translate(0,calc(-50% + 0.09em));font-weight:bold;">b</div>
<div class="t" style="left:-0.30px;top:187.80px;font-size:12.3px;color:#000;transform:translate(0,calc(-50% + 0.09em));font-weight:bold;">c</div>
<div class="t" style="left:180.50px;top:187.30px;font-size:12.3px;color:#000;transform:translate(0,calc(-50% + 0.09em));font-weight:bold;">d</div>
<div class="t" style="left:537.60px;top:158.90px;font-size:12.3px;color:#000;transform:translate(0,calc(-50% + 0.09em));font-weight:bold;">e</div>
<div class="t" style="left:-0.30px;top:367.00px;font-size:12.3px;color:#000;transform:translate(0,calc(-50% + 0.09em));font-weight:bold;">f</div>
<div class="t" style="left:-0.30px;top:472.90px;font-size:12.3px;color:#000;transform:translate(0,calc(-50% + 0.09em));font-weight:bold;">g</div>
<div class="t" style="left:537.50px;top:365.00px;font-size:12.3px;color:#000;transform:translate(0,calc(-50% + 0.09em));font-weight:bold;">h</div>
<div class="t" style="left:418.60px;top:11.70px;font-size:9.15px;color:#2b2b2b;transform:translate(0,calc(-50% + 0.09em));">B cells</div>
<div class="t" style="left:418.60px;top:23.94px;font-size:9.15px;color:#2b2b2b;transform:translate(0,calc(-50% + 0.09em));">CD56<sup>bright</sup> NK</div>
<div class="t" style="left:418.60px;top:36.18px;font-size:9.15px;color:#2b2b2b;transform:translate(0,calc(-50% + 0.09em));">CD56<sup>dim</sup> NK</div>
<div class="t" style="left:418.60px;top:48.42px;font-size:9.15px;color:#2b2b2b;transform:translate(0,calc(-50% + 0.09em));">Classic monocytes</div>
<div class="t" style="left:418.60px;top:60.66px;font-size:9.15px;color:#2b2b2b;transform:translate(0,calc(-50% + 0.09em));">Cytotoxic T<sub>CM/naive</sub> cells</div>
<div class="t" style="left:418.60px;top:72.90px;font-size:9.15px;color:#2b2b2b;transform:translate(0,calc(-50% + 0.09em));">Cytotoxic T<sub>EM/EMRA</sub> cells</div>
<div class="t" style="left:418.60px;top:85.14px;font-size:9.15px;color:#2b2b2b;transform:translate(0,calc(-50% + 0.09em));">Cytotoxic T<sub>EM/RM</sub> cells</div>
<div class="t" style="left:418.60px;top:97.38px;font-size:9.15px;color:#2b2b2b;transform:translate(0,calc(-50% + 0.09em));">Cytotoxic T<sub>RM</sub> cells</div>
<div class="t" style="left:418.60px;top:109.62px;font-size:9.15px;color:#2b2b2b;transform:translate(0,calc(-50% + 0.09em));">Dendritic cells</div>
<div class="t" style="left:418.60px;top:121.86px;font-size:9.15px;color:#2b2b2b;transform:translate(0,calc(-50% + 0.09em));">Follicular helper T cells</div>
<div class="t" style="left:418.60px;top:134.10px;font-size:9.15px;color:#2b2b2b;transform:translate(0,calc(-50% + 0.09em));">Germinal center B cells</div>
<div class="t" style="left:418.60px;top:146.34px;font-size:9.15px;color:#2b2b2b;transform:translate(0,calc(-50% + 0.09em));">Helper T<sub>CM/naive</sub> cells</div>
<div class="t" style="left:418.60px;top:158.58px;font-size:9.15px;color:#2b2b2b;transform:translate(0,calc(-50% + 0.09em));">Helper T<sub>EM/EFF</sub> cells</div>
<div class="t" style="left:418.60px;top:170.82px;font-size:9.15px;color:#2b2b2b;transform:translate(0,calc(-50% + 0.09em));">ILCs</div>
<div class="t" style="left:418.60px;top:183.06px;font-size:9.15px;color:#2b2b2b;transform:translate(0,calc(-50% + 0.09em));">Late erythroid</div>
<div class="t" style="left:418.60px;top:195.30px;font-size:9.15px;color:#2b2b2b;transform:translate(0,calc(-50% + 0.09em));">MAIT cells</div>
<div class="t" style="left:418.60px;top:207.54px;font-size:9.15px;color:#2b2b2b;transform:translate(0,calc(-50% + 0.09em));">MNP</div>
<div class="t" style="left:418.60px;top:219.78px;font-size:9.15px;color:#2b2b2b;transform:translate(0,calc(-50% + 0.09em));">Macrophages</div>
<div class="t" style="left:418.60px;top:232.02px;font-size:9.15px;color:#2b2b2b;transform:translate(0,calc(-50% + 0.09em));">Mast cells</div>
<div class="t" style="left:418.60px;top:244.26px;font-size:9.15px;color:#2b2b2b;transform:translate(0,calc(-50% + 0.09em));">Megakaryocytes/platelets</div>
<div class="t" style="left:418.60px;top:256.50px;font-size:9.15px;color:#2b2b2b;transform:translate(0,calc(-50% + 0.09em));">Memory B cells</div>
<div class="t" style="left:418.60px;top:268.74px;font-size:9.15px;color:#2b2b2b;transform:translate(0,calc(-50% + 0.09em));">Microglial cells</div>
<div class="t" style="left:418.60px;top:280.98px;font-size:9.15px;color:#2b2b2b;transform:translate(0,calc(-50% + 0.09em));">Migratory DCs</div>
<div class="t" style="left:418.60px;top:293.22px;font-size:9.15px;color:#2b2b2b;transform:translate(0,calc(-50% + 0.09em));">Monocytes</div>
<div class="t" style="left:418.60px;top:305.46px;font-size:9.15px;color:#2b2b2b;transform:translate(0,calc(-50% + 0.09em));">Myelocytes</div>
<div class="t" style="left:552.00px;top:12.70px;font-size:9.15px;color:#2b2b2b;transform:translate(0,calc(-50% + 0.09em));">NKT cells</div>
<div class="t" style="left:552.00px;top:25.03px;font-size:9.15px;color:#2b2b2b;transform:translate(0,calc(-50% + 0.09em));">Naive B cells</div>
<div class="t" style="left:552.00px;top:37.36px;font-size:9.15px;color:#2b2b2b;transform:translate(0,calc(-50% + 0.09em));">Nonclassic monocytes</div>
<div class="t" style="left:552.00px;top:49.69px;font-size:9.15px;color:#2b2b2b;transform:translate(0,calc(-50% + 0.09em));">Neutrophils</div>
<div class="t" style="left:552.00px;top:62.02px;font-size:9.15px;color:#2b2b2b;transform:translate(0,calc(-50% + 0.09em));">Osteoclasts</div>
<div class="t" style="left:552.00px;top:74.35px;font-size:9.15px;color:#2b2b2b;transform:translate(0,calc(-50% + 0.09em));">Plasma cells</div>
<div class="t" style="left:552.00px;top:86.68px;font-size:9.15px;color:#2b2b2b;transform:translate(0,calc(-50% + 0.09em));">pDC</div>
<div class="t" style="left:552.00px;top:99.01px;font-size:9.15px;color:#2b2b2b;transform:translate(0,calc(-50% + 0.09em));">Regulatory T cells</div>
<div class="t" style="left:552.00px;top:111.34px;font-size:9.15px;color:#2b2b2b;transform:translate(0,calc(-50% + 0.09em));">TH1 cells</div>
<div class="t" style="left:552.00px;top:123.67px;font-size:9.15px;color:#2b2b2b;transform:translate(0,calc(-50% + 0.09em));">Th17 cells</div>
<div class="t" style="left:552.00px;top:136.00px;font-size:9.15px;color:#2b2b2b;transform:translate(0,calc(-50% + 0.09em));">γδT cells</div>
<div class="t" style="left:600.40px;top:176.68px;font-size:8.9px;color:#2b2b2b;transform:translate(-100%,calc(-50% + 0.09em));">CD56<sup>bright</sup></div>
<div class="t" style="left:600.40px;top:190.62px;font-size:8.9px;color:#2b2b2b;transform:translate(-100%,calc(-50% + 0.09em));">Early CD56<sup>dim</sup></div>
<div class="t" style="left:600.40px;top:204.58px;font-size:8.9px;color:#2b2b2b;transform:translate(-100%,calc(-50% + 0.09em));">Int. CD56<sup>dim</sup></div>
<div class="t" style="left:600.40px;top:218.53px;font-size:8.9px;color:#2b2b2b;transform:translate(-100%,calc(-50% + 0.09em));">Late CD56<sup>dim</sup></div>
<div class="t" style="left:600.40px;top:232.47px;font-size:8.9px;color:#2b2b2b;transform:translate(-100%,calc(-50% + 0.09em));">Adaptive</div>
<div class="t" style="left:600.40px;top:246.43px;font-size:8.9px;color:#2b2b2b;transform:translate(-100%,calc(-50% + 0.09em));">TrCD56<sup>bright</sup></div>
<div class="t" style="left:600.40px;top:260.38px;font-size:8.9px;color:#2b2b2b;transform:translate(-100%,calc(-50% + 0.09em));">TrCD56<sup>dim</sup></div>
<div class="t" style="left:600.40px;top:274.33px;font-size:8.9px;color:#2b2b2b;transform:translate(-100%,calc(-50% + 0.09em));">TiCD56<sup>bright</sup></div>
<div class="t" style="left:600.40px;top:288.28px;font-size:8.9px;color:#2b2b2b;transform:translate(-100%,calc(-50% + 0.09em));">TiCD56<sup>dim</sup></div>
<div class="t" style="left:612.90px;top:299.80px;font-size:8.9px;color:#2b2b2b;transform:rotate(-90deg) translate(-100%,calc(-50% + 0.09em));transform-origin:0 0;">Atlas-TR sig.</div>
<div class="t" style="left:625.90px;top:299.80px;font-size:8.9px;color:#2b2b2b;transform:rotate(-90deg) translate(-100%,calc(-50% + 0.09em));transform-origin:0 0;">Lit-TR sig.</div>
<div class="t" style="left:559.60px;top:318.70px;font-size:8.3px;color:#2b2b2b;transform:translate(-50%,calc(-50% + 0.09em));">0</div>
<div class="t" style="left:596.50px;top:318.70px;font-size:8.3px;color:#2b2b2b;transform:translate(-50%,calc(-50% + 0.09em));">0.1</div>
<div class="t" style="left:582.00px;top:328.80px;font-size:8.7px;color:#2b2b2b;transform:translate(-50%,calc(-50% + 0.09em));">Expression</div>
<div class="t" style="left:640.80px;top:162.10px;font-size:8.4px;color:#8d8d8d;transform:translate(0,calc(-50% + 0.09em));font-style:italic;">Atlas-TR</div>
<div class="t" style="left:643.30px;top:174.10px;font-size:8.6px;color:#8d8d8d;transform:translate(0,calc(-50% + 0.09em));font-style:italic;">PSMA2</div>
<div class="t" style="left:643.30px;top:183.95px;font-size:8.6px;color:#8d8d8d;transform:translate(0,calc(-50% + 0.09em));font-style:italic;">SLC5A3</div>
<div class="t" style="left:643.30px;top:193.80px;font-size:8.6px;color:#8d8d8d;transform:translate(0,calc(-50% + 0.09em));font-style:italic;">CCL4L2</div>
<div class="t" style="left:643.30px;top:203.65px;font-size:8.6px;color:#8d8d8d;transform:translate(0,calc(-50% + 0.09em));font-style:italic;">CLN3</div>
<div class="t" style="left:643.30px;top:213.50px;font-size:8.6px;color:#8d8d8d;transform:translate(0,calc(-50% + 0.09em));font-style:italic;">SCGB1A1</div>
<div class="t" style="left:643.30px;top:223.35px;font-size:8.6px;color:#8d8d8d;transform:translate(0,calc(-50% + 0.09em));font-style:italic;">AREG</div>
<div class="t" style="left:640.80px;top:237.90px;font-size:8.4px;color:#8d8d8d;transform:translate(0,calc(-50% + 0.09em));font-style:italic;">Lit-TR</div>
<div class="t" style="left:642.30px;top:248.30px;font-size:8.6px;color:#8d8d8d;transform:translate(0,calc(-50% + 0.09em));font-style:italic;">CD69</div>
<div class="t" style="left:642.30px;top:258.05px;font-size:8.6px;color:#8d8d8d;transform:translate(0,calc(-50% + 0.09em));font-style:italic;">ITGAE</div>
<div class="t" style="left:642.30px;top:267.80px;font-size:8.6px;color:#8d8d8d;transform:translate(0,calc(-50% + 0.09em));font-style:italic;">ITGA1</div>
<div class="t" style="left:642.30px;top:277.55px;font-size:8.6px;color:#8d8d8d;transform:translate(0,calc(-50% + 0.09em));font-style:italic;">CXCR6</div>
<div class="t" style="left:642.30px;top:287.30px;font-size:8.6px;color:#8d8d8d;transform:translate(0,calc(-50% + 0.09em));font-style:italic;">ZNF683</div>
<div class="t" style="left:642.30px;top:297.05px;font-size:8.6px;color:#8d8d8d;transform:translate(0,calc(-50% + 0.09em));font-style:italic;">S1PR5</div>
<div class="t" style="left:642.30px;top:306.80px;font-size:8.6px;color:#8d8d8d;transform:translate(0,calc(-50% + 0.09em));font-style:italic;">S1PR1</div>
<div class="t" style="left:642.30px;top:316.55px;font-size:8.6px;color:#8d8d8d;transform:translate(0,calc(-50% + 0.09em));font-style:italic;">CD101</div>
<div class="t" style="left:642.30px;top:326.30px;font-size:8.6px;color:#8d8d8d;transform:translate(0,calc(-50% + 0.09em));font-style:italic;">IKZF3</div>
<div class="t" style="left:651.30px;top:367.91px;font-size:7.4px;color:#222;transform:translate(0,calc(-50% + 0.09em));">CD56<sup>bright</sup></div>
<div class="t" style="left:674.18px;top:377.13px;font-size:7.4px;color:#222;transform:translate(-100%,calc(-50% + 0.09em));">Early CD56<sup>dim</sup></div>
<div class="t" style="left:664.96px;top:386.35px;font-size:7.4px;color:#222;transform:translate(-100%,calc(-50% + 0.09em));">Int. CD56<sup>dim</sup></div>
<div class="t" style="left:655.74px;top:395.57px;font-size:7.4px;color:#222;transform:translate(-100%,calc(-50% + 0.09em));">Late CD56<sup>dim</sup></div>
<div class="t" style="left:646.52px;top:404.79px;font-size:7.4px;color:#222;transform:translate(-100%,calc(-50% + 0.09em));">Adaptive</div>
<div class="t" style="left:637.30px;top:414.01px;font-size:7.4px;color:#222;transform:translate(-100%,calc(-50% + 0.09em));">Lung</div>
<div class="t" style="left:628.08px;top:423.23px;font-size:7.4px;color:#222;transform:translate(-100%,calc(-50% + 0.09em));">Pancreas</div>
<div class="t" style="left:618.86px;top:432.45px;font-size:7.4px;color:#222;transform:translate(-100%,calc(-50% + 0.09em));">Prostate</div>
<div class="t" style="left:609.64px;top:441.67px;font-size:7.4px;color:#222;transform:translate(-100%,calc(-50% + 0.09em));">Breast</div>
<div class="t" style="left:600.42px;top:450.89px;font-size:7.4px;color:#222;transform:translate(-100%,calc(-50% + 0.09em));">Brain</div>
<div class="t" style="left:591.20px;top:460.11px;font-size:7.4px;color:#222;transform:translate(-100%,calc(-50% + 0.09em));">Skin</div>
<div class="t" style="left:581.98px;top:469.33px;font-size:7.4px;color:#222;transform:translate(-100%,calc(-50% + 0.09em));">Lung</div>
<div class="t" style="left:572.76px;top:478.55px;font-size:7.4px;color:#222;transform:translate(-100%,calc(-50% + 0.09em));">Pancreas</div>
<div class="t" style="left:563.54px;top:487.77px;font-size:7.4px;color:#222;transform:translate(-100%,calc(-50% + 0.09em));">Prostate</div>
<div class="t" style="left:554.32px;top:496.99px;font-size:7.4px;color:#222;transform:translate(-100%,calc(-50% + 0.09em));">Breast</div>
<div class="t" style="left:545.10px;top:506.21px;font-size:7.4px;color:#222;transform:translate(-100%,calc(-50% + 0.09em));">Brain</div>
<div class="t" style="left:535.88px;top:515.43px;font-size:7.4px;color:#222;transform:translate(-100%,calc(-50% + 0.09em));">Skin</div>
<div class="t" style="left:526.66px;top:524.65px;font-size:7.4px;color:#222;transform:translate(-100%,calc(-50% + 0.09em));">BRAC</div>
<div class="t" style="left:517.44px;top:533.87px;font-size:7.4px;color:#222;transform:translate(-100%,calc(-50% + 0.09em));">GBM</div>
<div class="t" style="left:508.22px;top:543.09px;font-size:7.4px;color:#222;transform:translate(-100%,calc(-50% + 0.09em));">NSCLC</div>
<div class="t" style="left:499.00px;top:552.31px;font-size:7.4px;color:#222;transform:translate(-100%,calc(-50% + 0.09em));">PAAD</div>
<div class="t" style="left:489.78px;top:561.53px;font-size:7.4px;color:#222;transform:translate(-100%,calc(-50% + 0.09em));">PRAD</div>
<div class="t" style="left:480.56px;top:570.75px;font-size:7.4px;color:#222;transform:translate(-100%,calc(-50% + 0.09em));">SARC</div>
<div class="t" style="left:471.34px;top:579.97px;font-size:7.4px;color:#222;transform:translate(-100%,calc(-50% + 0.09em));">SKCM</div>
<div class="t" style="left:462.12px;top:589.19px;font-size:7.4px;color:#222;transform:translate(-100%,calc(-50% + 0.09em));">BRAC</div>
<div class="t" style="left:452.90px;top:598.41px;font-size:7.4px;color:#222;transform:translate(-100%,calc(-50% + 0.09em));">GBM</div>
<div class="t" style="left:443.68px;top:607.63px;font-size:7.4px;color:#222;transform:translate(-100%,calc(-50% + 0.09em));">NSCLC</div>
<div class="t" style="left:434.46px;top:616.85px;font-size:7.4px;color:#222;transform:translate(-100%,calc(-50% + 0.09em));">PAAD</div>
<div class="t" style="left:425.24px;top:626.07px;font-size:7.4px;color:#222;transform:translate(-100%,calc(-50% + 0.09em));">PRAD</div>
<div class="t" style="left:416.02px;top:635.29px;font-size:7.4px;color:#222;transform:translate(-100%,calc(-50% + 0.09em));">SARC</div>
<div class="t" style="left:406.80px;top:644.51px;font-size:7.4px;color:#222;transform:translate(-100%,calc(-50% + 0.09em));">SKCM</div>
<div class="t" style="left:604.00px;top:387.05px;font-size:8.9px;color:#222;transform:rotate(-90deg) translate(-50%,calc(-50% + 0.09em));transform-origin:0 0;">PB-NK</div>
<div class="t" style="left:561.60px;top:437.75px;font-size:8.9px;color:#222;transform:rotate(-90deg) translate(-50%,calc(-50% + 0.09em));transform-origin:0 0;">TrNK<sup>bright</sup></div>
<div class="t" style="left:507.20px;top:493.05px;font-size:8.9px;color:#222;transform:rotate(-90deg) translate(-50%,calc(-50% + 0.09em));transform-origin:0 0;">TrNK<sup>dim</sup></div>
<div class="t" style="left:436.60px;top:553.00px;font-size:8.9px;color:#222;transform:rotate(-90deg) translate(-50%,calc(-50% + 0.09em));transform-origin:0 0;">TiNK<sup>bright</sup></div>
<div class="t" style="left:373.40px;top:617.55px;font-size:8.9px;color:#222;transform:rotate(-90deg) translate(-50%,calc(-50% + 0.09em));transform-origin:0 0;">TiNK<sup>dim</sup></div>
<div class="t" style="left:499.20px;top:667.40px;font-size:7.6px;color:#333;transform:translate(-50%,calc(-50% + 0.09em));">0</div>
<div class="t" style="left:517.72px;top:667.40px;font-size:7.6px;color:#333;transform:translate(-50%,calc(-50% + 0.09em));">0.2</div>
<div class="t" style="left:536.24px;top:667.40px;font-size:7.6px;color:#333;transform:translate(-50%,calc(-50% + 0.09em));">0.4</div>
<div class="t" style="left:554.76px;top:667.40px;font-size:7.6px;color:#333;transform:translate(-50%,calc(-50% + 0.09em));">0.6</div>
<div class="t" style="left:573.28px;top:667.40px;font-size:7.6px;color:#333;transform:translate(-50%,calc(-50% + 0.09em));">0.8</div>
<div class="t" style="left:591.80px;top:667.40px;font-size:7.6px;color:#333;transform:translate(-50%,calc(-50% + 0.09em));">1.0</div>
<div class="t" style="left:545.40px;top:678.20px;font-size:9.3px;color:#333;transform:translate(-50%,calc(-50% + 0.09em));">Connectivity</div>
<div class="t" style="left:127.50px;top:27.30px;font-size:8.7px;color:#8a8a8a;transform:translate(0,calc(-50% + 0.09em));">Brain (3)</div>
<div class="t" style="left:3.80px;top:46.00px;font-size:8.7px;color:#8a8a8a;transform:translate(0,calc(-50% + 0.09em));">Breast (8)</div>
<div class="t" style="left:7.60px;top:60.30px;font-size:8.7px;color:#8a8a8a;transform:translate(0,calc(-50% + 0.09em));">Skin (24)</div>
<div class="t" style="left:124.60px;top:59.20px;font-size:8.7px;color:#8a8a8a;transform:translate(0,calc(-50% + 0.09em));">Lung (85)</div>
<div class="t" style="left:114.00px;top:80.80px;font-size:8.7px;color:#8a8a8a;transform:translate(0,calc(-50% + 0.09em));">Pancreas (9)</div>
<div class="t" style="left:113.80px;top:146.40px;font-size:8.7px;color:#8a8a8a;transform:translate(0,calc(-50% + 0.09em));">Prostate (10)</div>
<div class="t" style="left:5.80px;top:206.60px;font-size:8.6px;color:#8a8a8a;transform:translate(0,calc(-50% + 0.09em));">Breast</div>
<div class="t" style="left:5.80px;top:216.10px;font-size:8.6px;color:#8a8a8a;transform:translate(0,calc(-50% + 0.09em));">(BRAC) (87)</div>
<div class="t" style="left:4.30px;top:230.70px;font-size:8.6px;color:#8a8a8a;transform:translate(0,calc(-50% + 0.09em));">Melanoma</div>
<div class="t" style="left:4.30px;top:240.00px;font-size:8.6px;color:#8a8a8a;transform:translate(0,calc(-50% + 0.09em));">(SKCM) (11)</div>
<div class="t" style="left:107.60px;top:207.80px;font-size:8.6px;color:#8a8a8a;transform:translate(0,calc(-50% + 0.09em));">Glioblastoma</div>
<div class="t" style="left:107.60px;top:217.10px;font-size:8.6px;color:#8a8a8a;transform:translate(0,calc(-50% + 0.09em));">(GBM) (108)</div>
<div class="t" style="left:104.90px;top:229.90px;font-size:8.6px;color:#8a8a8a;transform:translate(0,calc(-50% + 0.09em));">Lung</div>
<div class="t" style="left:104.90px;top:239.20px;font-size:8.6px;color:#8a8a8a;transform:translate(0,calc(-50% + 0.09em));">(NSCLC) (140)</div>
<div class="t" style="left:112.40px;top:260.60px;font-size:8.6px;color:#8a8a8a;transform:translate(0,calc(-50% + 0.09em));">Pancreas</div>
<div class="t" style="left:112.40px;top:270.10px;font-size:8.6px;color:#8a8a8a;transform:translate(0,calc(-50% + 0.09em));">(PAAD) (40)</div>
<div class="t" style="left:111.40px;top:326.50px;font-size:8.6px;color:#8a8a8a;transform:translate(0,calc(-50% + 0.09em));">Prostate</div>
<div class="t" style="left:111.40px;top:336.10px;font-size:8.6px;color:#8a8a8a;transform:translate(0,calc(-50% + 0.09em));">(PRAD) (23)</div>
<div class="t" style="left:4.50px;top:326.50px;font-size:8.6px;color:#8a8a8a;transform:translate(0,calc(-50% + 0.09em));">Sarcoma</div>
<div class="t" style="left:4.50px;top:336.10px;font-size:8.6px;color:#8a8a8a;transform:translate(0,calc(-50% + 0.09em));">(SARC) (18)</div>
<div class="t" style="left:48.00px;top:373.60px;font-size:8.6px;color:#2b2b2b;transform:translate(-50%,calc(-50% + 0.09em));">CD56<sup>bright</sup></div>
<div class="t" style="left:128.80px;top:373.60px;font-size:8.6px;color:#2b2b2b;transform:translate(-50%,calc(-50% + 0.09em));">CD56<sup>dim</sup></div>
<div class="t" style="left:204.80px;top:373.60px;font-size:8.6px;color:#2b2b2b;transform:translate(-50%,calc(-50% + 0.09em));">PB-NK</div>
<div class="t" style="left:282.00px;top:373.60px;font-size:8.6px;color:#2b2b2b;transform:translate(-50%,calc(-50% + 0.09em));">TrNK</div>
<div class="t" style="left:360.30px;top:373.60px;font-size:8.6px;color:#2b2b2b;transform:translate(-50%,calc(-50% + 0.09em));">TiNK</div>
<div class="t" style="left:415.60px;top:360.70px;font-size:9.0px;color:#2b2b2b;transform:translate(0,calc(-50% + 0.09em));">CD56<sup>bright</sup></div>
<div class="t" style="left:415.60px;top:374.20px;font-size:9.0px;color:#2b2b2b;transform:translate(0,calc(-50% + 0.09em));">Early CD56<sup>dim</sup></div>
<div class="t" style="left:415.60px;top:387.70px;font-size:9.0px;color:#2b2b2b;transform:translate(0,calc(-50% + 0.09em));">Int. CD56<sup>dim</sup></div>
<div class="t" style="left:415.60px;top:401.20px;font-size:9.0px;color:#2b2b2b;transform:translate(0,calc(-50% + 0.09em));">Late CD56<sup>dim</sup></div>
<div class="t" style="left:415.60px;top:414.70px;font-size:9.0px;color:#2b2b2b;transform:translate(0,calc(-50% + 0.09em));">Adaptive</div>
<div class="t" style="left:415.60px;top:428.20px;font-size:9.0px;color:#2b2b2b;transform:translate(0,calc(-50% + 0.09em));">TrNK</div>
<div class="t" style="left:415.60px;top:441.70px;font-size:9.0px;color:#2b2b2b;transform:translate(0,calc(-50% + 0.09em));">TiNK</div>
<div class="t" style="left:79.00px;top:493.60px;font-size:9.2px;color:#2b2b2b;transform:translate(0,calc(-50% + 0.09em));">CD56<sup>bright</sup></div>
<div class="t" style="left:2.00px;top:574.60px;font-size:9.2px;color:#2b2b2b;transform:rotate(17deg) translate(0,calc(-50% + 0.09em));transform-origin:0 0;">CD56<sup>dim</sup></div>
<div class="t" style="left:141.40px;top:486.70px;font-size:9.0px;color:#2b2b2b;transform:translate(0,calc(-50% + 0.09em));">CD56<sup>bright</sup></div>
<div class="t" style="left:141.40px;top:501.80px;font-size:9.0px;color:#2b2b2b;transform:translate(0,calc(-50% + 0.09em));">Early CD56<sup>dim</sup></div>
<div class="t" style="left:221.00px;top:486.70px;font-size:9.0px;color:#2b2b2b;transform:translate(0,calc(-50% + 0.09em));">Int. CD56<sup>dim</sup></div>
<div class="t" style="left:221.00px;top:501.80px;font-size:9.0px;color:#2b2b2b;transform:translate(0,calc(-50% + 0.09em));">Late CD56<sup>dim</sup></div>
<div class="t" style="left:298.60px;top:486.70px;font-size:9.0px;color:#2b2b2b;transform:translate(0,calc(-50% + 0.09em));">Adaptive</div>
<div class="t" style="left:298.60px;top:501.80px;font-size:9.0px;color:#2b2b2b;transform:translate(0,calc(-50% + 0.09em));">TrNK</div>
<div class="t" style="left:361.00px;top:486.70px;font-size:9.0px;color:#2b2b2b;transform:translate(0,calc(-50% + 0.09em));">TiNK</div>
<div class="t" style="left:125.00px;top:578.20px;font-size:8.4px;color:#2b2b2b;transform:translate(0,calc(-50% + 0.09em));">SARC</div>
<div class="t" style="left:208.40px;top:578.20px;font-size:8.4px;color:#2b2b2b;transform:translate(0,calc(-50% + 0.09em));">PAAD</div>
<div class="t" style="left:293.80px;top:578.20px;font-size:8.4px;color:#2b2b2b;transform:translate(0,calc(-50% + 0.09em));">NSCLC</div>
<div class="t" style="left:5.60px;top:654.20px;font-size:8.4px;color:#2b2b2b;transform:translate(0,calc(-50% + 0.09em));">BRAC</div>
<div class="t" style="left:89.40px;top:654.20px;font-size:8.4px;color:#2b2b2b;transform:translate(0,calc(-50% + 0.09em));">SKCM</div>
<div class="t" style="left:173.60px;top:654.20px;font-size:8.4px;color:#2b2b2b;transform:translate(0,calc(-50% + 0.09em));">PRAD</div>
<div class="t" style="left:258.00px;top:654.20px;font-size:8.4px;color:#2b2b2b;transform:translate(0,calc(-50% + 0.09em));">GBM</div>
</div></body></html>
